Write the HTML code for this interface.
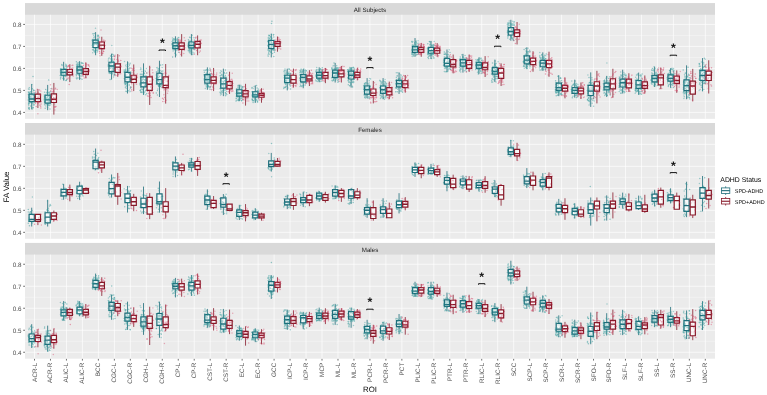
<!DOCTYPE html>
<html lang="en"><head><meta charset="utf-8"><title>FA Value by ROI and ADHD Status</title>
<style>html,body{margin:0;padding:0;background:#fff;}svg{display:block;will-change:transform;}</style></head>
<body>
<svg width="767" height="395" viewBox="0 0 767 395" text-rendering="geometricPrecision" font-family="'Liberation Sans', Arial, Helvetica, sans-serif">
<rect width="767" height="395" fill="#fff"/>
<rect x="25.0" y="3.10" width="690.00" height="115.75" fill="#EBEBEB"/>
<rect x="25.0" y="3.10" width="690.00" height="11.65" fill="#D9D9D9"/>
<text x="370.00" y="11.80" font-size="6.2" fill="#1A1A1A" text-anchor="middle">All Subjects</text>
<path d="M25.0 101.42H715.0M25.0 79.42H715.0M25.0 57.42H715.0M25.0 35.42H715.0" stroke="#fff" stroke-width="0.4" stroke-opacity="0.9" fill="none"/>
<path d="M25.0 112.42H715.0M25.0 90.42H715.0M25.0 68.42H715.0M25.0 46.42H715.0M25.0 24.42H715.0M34.50 14.75V118.85M50.47 14.75V118.85M66.44 14.75V118.85M82.42 14.75V118.85M98.39 14.75V118.85M114.36 14.75V118.85M130.33 14.75V118.85M146.30 14.75V118.85M162.28 14.75V118.85M178.25 14.75V118.85M194.22 14.75V118.85M210.19 14.75V118.85M226.16 14.75V118.85M242.14 14.75V118.85M258.11 14.75V118.85M274.08 14.75V118.85M290.05 14.75V118.85M306.02 14.75V118.85M322.00 14.75V118.85M337.97 14.75V118.85M353.94 14.75V118.85M369.91 14.75V118.85M385.88 14.75V118.85M401.86 14.75V118.85M417.83 14.75V118.85M433.80 14.75V118.85M449.77 14.75V118.85M465.74 14.75V118.85M481.72 14.75V118.85M497.69 14.75V118.85M513.66 14.75V118.85M529.63 14.75V118.85M545.60 14.75V118.85M561.58 14.75V118.85M577.55 14.75V118.85M593.52 14.75V118.85M609.49 14.75V118.85M625.46 14.75V118.85M641.44 14.75V118.85M657.41 14.75V118.85M673.38 14.75V118.85M689.35 14.75V118.85M705.32 14.75V118.85" stroke="#fff" stroke-width="0.68" fill="none"/>
<text x="21.40" y="115.02" font-size="6.3" fill="#4D4D4D" text-anchor="end">0.4</text>
<text x="21.40" y="93.02" font-size="6.3" fill="#4D4D4D" text-anchor="end">0.5</text>
<text x="21.40" y="71.02" font-size="6.3" fill="#4D4D4D" text-anchor="end">0.6</text>
<text x="21.40" y="49.02" font-size="6.3" fill="#4D4D4D" text-anchor="end">0.7</text>
<text x="21.40" y="27.02" font-size="6.3" fill="#4D4D4D" text-anchor="end">0.8</text>
<path d="M23.20 112.42H25.0M23.20 90.42H25.0M23.20 68.42H25.0M23.20 46.42H25.0M23.20 24.42H25.0" stroke="#333" stroke-width="0.7" fill="none"/>
<path d="M31.70 84.04V94.16M31.70 101.64V109.34M47.67 84.92V95.26M47.67 103.18V110.22M63.64 61.82V69.52M63.64 75.24V80.52M79.62 61.16V66.88M79.62 73.26V79.86M95.59 32.12V40.04M95.59 47.52V55.22M111.56 53.68V62.26M111.56 71.72V79.64M127.53 61.38V72.38M127.53 81.84V93.50M143.50 63.36V76.78M143.50 86.90V94.82M159.48 60.72V73.26M159.48 83.82V97.02M175.45 36.30V42.90M175.45 48.62V57.42M191.42 34.10V42.02M191.42 47.96V55.22M207.39 67.32V74.58M207.39 83.16V89.76M223.36 68.64V78.10M223.36 88.22V96.14M239.34 84.70V89.76M239.34 96.14V101.20M255.31 85.36V91.74M255.31 96.80V102.74M271.28 33.66V40.48M271.28 48.62V57.42M287.25 68.64V75.24M287.25 82.50V90.42M303.22 68.86V74.58M303.22 81.84V88.22M319.20 67.32V72.38M319.20 78.10V81.84M335.17 62.92V70.18M335.17 77.44V82.50M351.14 67.32V71.06M351.14 78.98V87.56M367.11 78.10V86.02M367.11 94.05V98.34M383.08 78.10V86.02M383.08 93.28V99.22M399.06 72.38V80.30M399.06 86.90V93.94M415.03 38.06V46.64M415.03 52.36V56.76M431.00 40.92V47.30M431.00 53.24V58.96M446.97 49.50V58.30M446.97 66.22V71.94M462.94 53.90V59.62M462.94 66.22V72.60M478.92 57.42V62.48M478.92 68.42V74.14M494.89 59.62V67.54M494.89 74.14V82.06M510.86 19.80V27.72M510.86 34.98V40.70M526.83 47.30V55.88M526.83 63.80V68.86M542.80 52.36V60.28M542.80 66.77V70.84M558.78 75.24V83.16M558.78 90.42V96.14M574.75 79.64V87.56M574.75 93.28V97.68M590.72 72.38V85.36M590.72 95.48V106.92M606.69 75.90V83.16M606.69 89.76V97.02M622.66 69.74V79.09M622.66 87.01V93.50M638.64 72.60V80.52M638.64 88.44V94.82M654.61 66.77V75.46M654.61 81.95V87.01M670.58 68.20V74.80M670.58 81.18V87.78M686.55 65.34V79.86M686.55 90.64V99.22M702.52 58.08V70.40M702.52 80.52V91.30" stroke="#1C6C79" stroke-width="0.8" fill="none"/>
<path d="M37.90 89.10V94.16M37.90 101.64V108.02M53.87 82.94V93.94M53.87 102.52V114.62M69.84 64.24V69.52M69.84 74.80V82.06M85.82 62.48V68.64M85.82 74.36V78.32M101.79 36.74V42.02M101.79 48.62V55.88M117.76 54.12V63.80M117.76 72.38V76.78M133.73 64.46V75.24M133.73 82.50V91.08M149.70 65.78V76.78M149.70 90.42V104.94M165.68 64.02V76.78M165.68 87.56V103.62M181.65 34.10V42.90M181.65 49.28V56.54M197.62 35.42V41.36M197.62 47.96V55.22M213.59 67.98V76.78M213.59 83.16V91.08M229.56 71.72V81.62M229.56 88.88V93.94M245.54 83.82V90.64M245.54 96.80V105.60M261.51 88.22V93.28M261.51 97.24V102.74M277.48 36.52V41.58M277.48 46.42V51.70M293.45 68.64V75.24M293.45 83.16V87.56M309.42 70.18V75.90M309.42 80.96V86.02M325.40 67.98V72.38M325.40 78.10V83.16M341.37 66.00V70.18M341.37 76.78V82.50M357.34 67.98V72.38M357.34 77.44V80.30M373.31 80.96V88.99M373.31 95.48V103.40M389.28 81.62V87.56M389.28 94.82V99.22M405.26 75.02V80.74M405.26 87.56V92.62M421.23 43.12V47.30M421.23 52.36V56.76M437.20 43.12V48.18M437.20 53.24V56.76M453.17 54.56V59.62M453.17 66.88V73.37M469.14 54.56V60.28M469.14 68.42V71.94M485.12 56.10V62.92M485.12 69.74V77.00M501.09 63.36V68.42M501.09 78.43V86.02M517.06 22.00V29.92M517.06 36.52V44.44M533.03 51.26V58.08M533.03 64.68V71.72M549.00 51.70V60.28M549.00 67.54V76.78M564.98 77.44V85.36M564.98 91.08V98.34M580.95 82.50V88.22M580.95 93.94V99.00M596.92 70.84V81.73M596.92 91.08V103.40M612.89 68.75V78.76M612.89 88.88V97.68M628.86 73.26V79.09M628.86 87.78V91.96M644.84 75.46V81.95M644.84 88.44V93.50M660.81 67.54V74.80M660.81 84.81V89.10M676.78 70.40V76.12M676.78 83.38V92.84M692.75 68.86V81.18M692.75 94.16V101.42M708.72 60.28V71.06M708.72 80.52V93.50" stroke="#871828" stroke-width="0.8" fill="none"/>
<path d="M386.0 84.0h0M238.8 94.7h0M220.1 75.8h0M189.5 49.8h0M449.3 61.7h0M269.4 44.9h0M207.9 85.6h0M636.5 74.9h0M188.5 39.8h0M705.9 82.1h0M413.3 48.2h0M689.4 85.7h0M81.2 62.4h0M315.8 76.0h0M605.3 84.0h0M705.7 73.3h0M705.1 65.2h0M685.7 84.3h0M654.7 80.7h0M352.5 86.3h0M481.9 67.5h0M47.3 103.5h0M430.7 42.1h0M623.3 84.8h0M366.2 96.9h0M30.8 106.0h0M543.8 57.8h0M125.0 74.7h0M225.1 90.6h0M126.6 72.3h0M271.9 44.1h0M30.0 93.0h0M463.7 62.1h0M98.2 43.0h0M509.6 23.1h0M386.0 95.9h0M274.5 50.6h0M673.3 70.2h0M651.6 77.0h0M289.1 69.3h0M527.2 61.7h0M443.5 65.2h0M557.3 91.2h0M479.3 65.9h0M655.2 82.2h0M288.4 82.5h0M354.0 77.8h0M528.4 51.7h0M64.0 74.5h0M142.0 92.5h0M703.3 67.5h0M689.1 97.5h0M464.7 59.2h0M331.9 67.9h0M112.5 70.1h0M430.3 44.2h0M652.1 76.3h0M625.6 86.6h0M446.7 63.3h0M190.7 47.1h0M526.3 63.8h0M575.9 92.6h0M225.4 75.4h0M93.8 48.9h0M350.9 69.1h0M640.8 89.5h0M270.6 46.3h0M33.9 101.0h0M223.6 88.6h0M114.0 55.9h0M321.4 75.3h0M624.0 78.8h0M146.8 83.0h0M274.5 43.8h0M320.5 79.5h0M560.8 78.3h0M432.6 52.3h0M656.1 81.7h0M492.5 63.1h0M192.9 45.5h0M498.1 72.4h0M194.2 49.4h0M209.9 68.3h0M290.5 75.1h0M593.3 93.9h0M401.7 82.9h0M240.5 93.2h0M125.0 83.3h0M561.8 88.6h0M687.1 85.5h0M320.9 76.8h0M623.0 79.0h0M462.6 66.6h0M577.1 96.9h0M97.6 44.5h0M114.7 64.9h0M258.2 95.6h0M429.7 55.4h0M354.1 70.9h0M189.2 47.0h0M62.1 65.4h0M284.1 71.4h0M689.2 87.1h0M224.0 78.0h0M191.5 37.7h0M509.8 28.4h0M652.2 77.6h0M683.3 92.7h0M605.8 86.1h0M141.9 80.5h0M317.9 79.6h0M686.0 81.0h0M461.2 64.7h0M222.3 81.6h0M414.6 42.7h0M640.3 80.8h0M178.3 41.2h0M337.7 74.1h0M209.2 77.2h0M269.1 54.3h0M668.5 75.2h0M79.2 78.0h0M271.2 43.3h0M625.8 86.8h0M319.7 72.3h0M429.3 53.2h0M412.0 52.4h0M701.0 69.2h0M482.2 66.5h0M544.1 62.8h0M656.6 76.9h0M354.3 79.3h0M178.7 48.0h0M333.4 73.4h0M428.5 50.0h0M236.3 90.0h0M145.0 80.7h0M577.1 88.4h0M128.0 71.5h0M687.9 87.3h0M206.8 84.5h0M430.9 54.3h0M702.4 90.4h0M316.5 70.3h0M303.9 69.0h0M268.1 50.2h0M591.7 93.6h0M636.0 92.1h0M481.4 66.4h0M348.1 77.9h0M305.3 85.0h0M283.8 88.5h0M140.4 90.6h0M701.5 79.6h0M220.3 82.2h0M638.6 82.1h0M671.6 69.3h0M608.0 90.7h0M252.4 100.8h0M188.1 45.2h0M478.9 59.4h0M304.7 76.4h0M78.9 67.8h0M683.7 81.6h0M273.8 56.6h0M571.3 89.7h0M514.2 21.8h0M221.3 86.3h0M271.1 50.9h0M460.0 60.6h0M288.2 77.2h0M668.6 75.4h0M530.2 56.4h0M496.7 76.4h0M257.8 93.4h0M63.6 75.5h0M188.3 50.8h0M257.5 95.9h0M604.2 90.4h0M446.9 58.0h0M301.0 77.7h0M367.7 94.6h0M141.3 77.3h0M433.4 45.4h0M385.5 88.5h0M620.8 93.3h0M513.1 34.3h0M221.7 83.8h0M528.7 60.3h0M620.0 85.0h0M540.8 66.0h0M160.6 79.5h0M449.4 60.6h0M689.8 87.5h0M466.0 64.0h0M621.6 90.2h0M304.8 78.3h0M578.2 87.7h0M175.8 43.9h0M255.6 90.6h0M31.1 99.0h0M226.6 79.1h0M545.7 61.1h0M481.7 66.6h0M576.4 94.3h0M402.3 85.6h0M511.0 23.8h0M432.5 46.0h0M130.6 73.4h0M444.5 61.1h0M433.9 52.4h0M45.7 89.6h0M113.1 65.5h0M79.4 75.5h0M558.5 92.0h0M303.1 71.1h0M540.5 58.4h0M428.6 58.6h0M142.7 74.2h0M480.4 70.9h0M494.9 67.2h0M496.6 66.8h0M206.8 69.7h0M543.0 65.0h0M461.0 64.7h0M703.0 76.3h0M161.5 71.2h0M257.8 95.8h0M621.6 75.2h0M463.7 63.4h0M178.7 37.5h0M463.7 63.3h0M45.2 108.3h0M221.5 74.6h0M575.2 89.8h0M32.2 109.1h0M144.5 84.6h0M653.8 79.1h0M575.7 88.4h0M206.8 77.9h0M191.9 44.2h0M241.5 100.7h0M300.7 74.9h0M92.2 40.4h0M269.3 38.2h0M333.6 80.4h0M652.1 70.4h0M253.5 96.0h0M242.1 100.6h0M493.5 72.3h0M300.8 72.3h0M269.4 45.4h0M433.1 50.7h0M256.4 92.2h0M82.0 73.2h0M273.0 43.1h0M80.5 65.3h0M690.0 77.7h0M173.6 45.5h0M429.6 41.8h0M31.6 94.0h0M80.9 65.4h0M317.6 78.4h0M126.7 91.5h0M287.0 80.2h0M557.4 87.4h0M194.5 46.2h0M63.5 74.1h0M336.2 68.0h0M445.7 64.4h0M366.2 92.1h0M194.4 40.0h0M431.2 48.7h0M302.9 85.8h0M412.2 42.4h0M97.9 36.5h0M364.6 87.5h0M462.1 63.9h0M252.2 98.9h0M172.9 48.6h0M639.1 91.6h0M688.0 75.7h0M80.3 67.7h0M381.1 97.4h0M175.5 39.9h0M320.8 76.8h0M76.8 70.3h0M445.3 53.3h0M401.3 86.2h0M417.8 49.1h0M466.2 69.3h0M495.6 78.8h0M655.6 82.1h0M238.1 93.1h0M304.7 77.5h0M44.5 97.1h0M189.1 45.4h0M444.9 63.2h0M509.6 34.9h0M527.0 64.2h0M608.1 92.8h0M239.0 93.3h0M512.2 25.2h0M49.2 96.3h0M399.3 81.9h0M287.9 88.1h0M540.9 65.0h0M463.0 61.5h0M523.9 56.2h0M113.9 70.7h0M318.1 76.7h0M285.3 77.6h0M82.0 79.3h0M429.8 56.1h0M110.4 63.5h0M142.8 79.9h0M590.5 90.2h0M699.6 83.0h0M463.2 59.9h0M588.2 100.4h0M348.3 84.8h0M94.1 43.9h0M603.6 90.5h0M332.5 75.3h0M689.1 91.0h0M221.0 85.3h0M688.8 94.6h0M209.7 73.2h0M351.4 70.8h0M368.6 91.2h0M44.6 102.4h0M240.8 91.1h0M412.7 49.4h0M512.0 33.4h0M31.8 100.3h0M637.5 86.3h0M589.6 82.6h0M64.0 78.6h0M493.9 72.1h0M610.0 88.4h0M130.1 68.0h0M576.3 92.5h0M156.7 71.8h0M258.7 97.1h0M384.8 83.9h0M49.0 92.4h0M318.3 78.9h0M351.5 76.6h0M495.2 69.6h0M210.7 75.7h0M588.0 88.1h0M364.7 97.4h0M319.6 77.5h0M397.3 91.7h0M236.8 92.7h0M208.9 81.7h0M513.3 32.6h0M47.8 103.1h0M385.3 89.8h0M268.7 40.9h0M301.8 72.4h0M130.7 87.2h0M363.6 85.7h0M364.2 91.2h0M577.7 93.1h0M449.5 68.0h0M113.8 67.6h0M157.4 90.4h0M413.3 45.3h0M415.1 44.0h0M237.8 93.2h0M240.6 98.5h0M671.1 79.5h0M636.7 79.1h0M544.7 55.3h0M589.0 83.0h0M285.9 86.4h0M51.0 88.8h0M527.0 56.5h0M529.0 59.4h0M28.4 94.4h0M641.7 87.5h0M238.6 96.1h0M463.0 66.1h0M541.5 60.6h0M493.2 70.9h0M464.7 64.6h0M61.6 71.0h0M270.6 36.9h0M322.3 67.8h0M540.1 66.0h0M559.6 88.2h0M242.4 93.8h0M402.1 81.6h0M447.5 57.4h0M353.2 81.2h0M143.5 68.9h0M110.0 65.5h0M496.6 69.3h0M98.3 43.5h0M210.0 89.6h0M431.6 49.5h0M351.9 68.1h0M587.9 92.9h0M236.6 88.8h0M322.4 73.3h0M496.2 67.2h0M513.6 40.6h0M81.9 62.8h0M193.3 49.0h0M545.1 63.5h0M399.7 78.6h0M609.3 80.8h0M541.2 64.1h0M188.2 43.9h0M178.3 42.7h0M638.4 87.6h0M331.7 77.4h0M271.7 47.6h0M129.5 73.1h0M380.4 81.2h0M641.2 89.6h0M65.9 80.5h0M252.5 94.2h0M430.4 53.4h0M29.2 95.9h0M306.3 70.8h0M96.6 47.5h0M668.5 74.7h0M447.4 66.7h0M651.8 78.4h0M687.1 82.1h0M220.2 72.7h0M481.5 60.3h0M333.5 79.3h0M191.3 44.9h0M188.6 50.3h0M334.6 68.8h0M274.2 40.0h0M114.3 68.1h0M540.3 57.4h0M591.8 85.4h0M112.5 59.1h0M640.8 75.0h0M221.9 91.5h0M178.2 43.6h0M50.8 103.9h0M639.3 84.1h0M44.6 104.7h0M636.9 86.3h0M81.4 66.4h0M478.1 65.5h0M619.6 83.5h0M443.6 65.2h0M689.3 91.7h0M589.0 77.6h0M604.5 81.3h0M416.1 41.1h0M222.7 87.4h0M127.7 85.0h0M130.7 75.8h0M284.7 80.1h0M288.2 80.0h0M224.0 76.6h0M593.4 93.4h0M621.0 79.8h0M400.9 75.5h0M574.4 83.5h0M668.9 79.0h0M176.7 45.2h0M559.1 90.9h0M557.0 84.8h0M97.1 52.1h0M335.0 77.3h0M44.3 98.9h0M337.8 67.8h0M513.0 30.2h0M590.5 80.7h0M621.5 80.3h0M332.4 72.4h0M113.9 65.1h0M78.7 71.1h0M637.9 87.0h0M591.5 86.4h0M320.1 73.0h0M125.8 74.9h0M608.5 78.5h0M668.0 73.7h0M610.1 93.4h0M400.7 91.1h0M544.5 61.3h0M236.8 94.4h0M60.6 77.7h0M525.9 54.0h0M146.1 86.6h0M303.1 71.7h0M412.3 46.0h0M562.1 86.9h0M479.2 66.0h0M577.8 91.0h0M369.3 98.2h0M497.0 78.7h0M257.1 95.5h0M399.2 81.7h0M209.6 77.8h0M450.4 69.3h0M176.6 48.4h0M34.1 104.8h0M510.0 32.1h0M577.5 86.8h0M190.0 44.5h0M81.7 71.1h0M221.5 80.9h0M96.9 41.8h0M545.4 63.5h0M545.9 64.0h0M207.5 79.6h0M671.8 73.9h0M492.5 70.4h0M475.7 69.5h0M528.8 57.7h0M237.4 96.7h0M401.8 91.2h0M146.7 93.6h0M302.5 82.8h0M98.1 38.0h0M704.5 82.6h0M688.9 89.0h0M460.2 70.0h0M479.1 68.8h0M688.6 74.7h0M385.2 88.6h0M572.2 89.8h0M413.9 52.3h0M684.0 91.4h0M127.1 74.6h0M397.4 82.3h0M205.7 78.1h0M539.9 62.3h0M111.7 71.5h0M299.8 78.0h0M32.2 96.8h0M700.9 81.2h0M144.7 76.9h0M223.4 79.5h0M236.0 100.9h0M157.2 78.0h0M429.3 47.8h0M433.4 50.0h0M593.4 91.2h0M560.5 78.0h0M369.7 97.4h0M461.0 68.5h0M654.6 80.7h0M592.1 82.5h0M667.4 79.8h0M30.7 102.6h0M114.1 75.4h0M305.7 74.1h0M220.8 87.2h0M192.4 43.0h0M226.3 93.6h0M239.3 97.1h0M508.3 30.5h0M542.4 63.6h0M543.6 69.8h0M593.5 97.8h0M433.3 54.5h0M158.0 70.9h0M365.0 91.0h0M704.7 78.8h0M576.4 92.7h0M110.4 67.7h0M529.6 65.9h0M560.5 87.7h0M49.1 100.5h0M477.7 63.4h0M383.4 90.5h0M176.2 47.3h0M652.9 80.4h0M45.9 102.3h0M398.5 81.0h0M129.6 74.6h0M654.3 70.5h0M526.7 61.7h0M476.8 61.0h0M481.2 58.3h0M497.3 73.8h0M203.9 74.7h0M317.1 74.9h0M112.0 61.4h0M466.4 71.6h0M177.0 48.5h0M509.3 27.8h0M140.7 84.1h0M112.9 63.3h0M286.7 83.4h0M623.1 84.2h0M336.3 69.0h0M304.4 70.7h0M686.0 81.9h0M412.7 41.5h0M528.0 62.8h0M460.3 59.0h0M177.4 40.1h0M76.4 61.8h0M397.1 83.5h0M684.8 79.4h0M206.5 73.5h0M237.3 91.2h0M509.1 33.7h0M478.1 60.8h0M175.3 40.1h0M619.3 85.5h0M316.6 77.2h0M461.3 62.0h0M381.0 95.6h0M125.1 84.7h0M49.0 105.3h0M561.5 87.7h0M125.8 80.8h0M271.5 34.5h0M637.9 87.8h0M396.4 77.3h0M367.9 87.5h0M460.4 68.7h0M416.1 46.6h0M686.0 84.5h0M97.6 35.3h0M609.9 87.2h0M607.4 87.8h0M142.5 78.8h0M671.2 75.7h0M334.3 73.6h0M432.3 54.9h0M369.1 97.3h0M273.9 49.1h0M589.3 101.2h0M257.6 95.2h0M271.1 44.9h0M97.6 50.7h0M364.5 90.6h0M560.3 83.4h0M606.9 76.9h0M370.2 95.5h0M380.5 87.7h0M98.7 43.8h0M239.0 99.7h0M224.6 83.4h0M414.2 48.4h0M337.1 77.6h0M556.2 95.7h0M94.9 51.1h0M143.6 75.1h0M512.5 31.2h0M447.1 56.4h0M60.6 72.8h0M333.0 73.2h0M61.8 73.5h0M527.0 56.0h0M144.8 80.5h0M46.9 102.6h0M29.7 93.5h0M417.3 46.9h0M272.5 49.7h0M414.6 53.6h0M509.2 34.0h0M545.6 68.9h0M268.8 51.9h0M673.5 71.6h0M652.8 73.4h0M447.9 64.9h0M411.8 49.9h0M507.8 26.5h0M111.8 70.3h0M699.6 63.7h0M497.7 69.4h0M416.0 42.1h0M253.9 92.6h0M79.7 65.9h0M530.3 56.1h0M190.3 52.1h0M656.0 79.3h0M191.0 45.4h0M428.4 50.9h0M65.4 76.4h0M65.8 64.2h0M588.8 90.5h0M686.8 86.1h0M604.8 95.5h0M686.4 88.5h0M80.0 64.9h0M462.6 57.2h0M428.0 51.9h0M673.0 77.2h0M66.5 70.0h0M351.2 70.0h0M526.5 60.3h0M509.7 34.5h0M413.5 46.9h0M545.5 64.8h0M80.6 67.8h0M559.8 91.3h0M140.8 78.1h0M624.2 91.3h0M684.9 84.9h0M82.0 76.1h0M541.4 59.3h0M604.4 80.5h0M269.3 42.2h0M271.0 41.9h0M333.2 76.0h0M337.1 76.9h0M368.5 85.5h0M158.0 70.2h0M64.8 69.4h0M591.0 93.2h0M284.6 81.8h0M512.9 31.8h0M46.3 98.2h0M334.5 73.4h0M60.9 77.0h0M460.4 64.5h0M289.1 81.2h0M703.9 78.4h0M128.1 70.5h0M620.4 83.4h0M94.3 33.6h0M286.2 72.6h0M571.8 93.4h0M273.6 44.9h0M204.5 79.0h0M559.8 87.6h0M445.2 58.4h0M109.6 72.4h0M640.3 85.9h0M590.5 85.8h0M126.4 81.5h0M603.9 92.9h0M365.0 85.3h0M450.2 64.3h0M336.5 76.7h0M305.0 75.8h0M463.9 64.4h0M62.0 65.2h0M28.6 103.4h0M316.1 71.0h0M128.3 90.8h0M477.5 59.8h0M288.9 78.6h0M560.1 81.2h0M369.5 86.0h0M607.6 88.7h0M571.6 91.6h0M348.1 74.3h0M305.0 71.2h0M368.8 88.7h0M461.9 61.0h0M656.6 81.8h0M575.6 88.5h0M349.0 72.0h0M255.0 99.9h0M625.0 75.1h0M81.8 70.2h0M605.3 82.1h0M573.7 92.3h0M126.6 81.0h0M240.3 89.7h0M668.1 76.6h0M255.3 101.9h0M316.1 72.3h0M76.3 74.6h0M82.4 69.8h0M624.2 81.2h0M685.4 79.2h0M363.8 89.1h0M304.1 74.3h0M174.2 43.2h0M50.1 91.8h0M47.6 93.8h0M222.3 87.3h0M480.6 71.5h0M332.0 80.3h0M285.9 73.4h0M204.4 72.3h0M431.8 45.4h0M460.2 63.9h0M399.6 80.8h0M428.5 56.6h0M349.0 82.5h0M271.0 48.4h0M385.0 87.3h0M511.3 35.8h0M143.7 84.0h0M400.9 88.6h0M159.7 83.5h0M508.7 34.5h0M703.9 72.9h0M575.6 87.7h0M642.1 74.1h0M353.9 72.5h0M256.5 85.5h0M433.8 50.0h0M683.5 87.4h0M225.7 95.7h0M98.5 44.6h0M699.8 75.7h0M576.0 88.1h0M427.6 54.3h0M113.6 55.1h0M158.7 86.3h0M672.6 77.1h0M32.3 94.7h0M127.3 64.6h0M494.8 71.6h0M574.8 85.4h0M641.8 85.2h0M588.0 93.4h0M158.1 79.9h0M350.1 85.7h0M174.0 45.2h0M543.8 63.5h0M206.6 73.1h0M226.6 91.2h0M705.8 71.8h0M672.1 79.4h0M274.3 49.2h0M635.5 88.7h0M206.5 70.0h0M523.6 62.2h0M685.5 92.2h0M477.4 59.9h0M300.1 70.5h0M337.3 74.4h0M172.9 47.2h0M110.1 79.4h0M507.7 24.9h0M110.6 73.2h0M193.3 43.9h0M334.3 78.3h0M365.5 82.7h0M321.9 81.3h0M289.4 74.8h0M113.9 64.4h0M320.5 69.3h0M417.0 46.1h0M507.5 31.1h0M544.3 59.9h0M302.0 76.0h0M144.1 73.4h0M301.1 71.3h0M493.8 68.6h0M444.3 60.6h0M177.8 41.5h0M290.5 88.9h0M303.6 85.0h0M124.5 83.0h0M673.1 77.5h0M414.8 51.3h0M241.6 92.5h0M443.5 62.0h0M289.0 73.7h0M31.3 91.3h0M162.0 87.5h0M396.4 79.6h0M111.0 62.0h0M610.1 80.9h0M636.5 87.1h0M413.3 54.0h0M526.0 58.5h0M161.8 77.9h0M688.2 87.5h0M319.7 71.3h0M673.9 73.4h0M619.9 85.5h0M402.5 92.3h0M174.5 49.7h0M317.4 78.1h0M492.8 66.5h0M238.2 86.0h0M287.2 78.8h0M558.0 94.9h0M428.0 54.8h0M399.7 86.7h0M397.5 75.9h0M112.5 60.2h0M619.2 78.4h0M76.4 75.7h0M316.3 70.1h0M418.0 48.0h0M337.2 67.8h0M382.5 93.7h0M447.0 65.0h0M156.8 79.8h0M364.4 94.4h0M92.4 39.5h0M700.4 80.0h0M671.2 77.6h0M684.1 92.5h0M190.8 48.6h0M97.8 41.2h0M432.5 50.7h0M253.5 94.3h0M47.8 104.2h0M350.0 78.5h0M704.3 58.2h0M177.0 48.0h0M398.7 80.0h0M415.8 46.0h0M527.0 58.5h0M498.3 67.6h0M94.1 51.2h0M380.6 92.7h0M540.9 63.3h0M572.6 85.4h0M32.3 88.7h0M576.5 85.9h0M527.1 62.8h0M446.1 67.6h0M208.6 79.2h0M382.8 88.3h0M449.5 63.8h0M590.9 83.2h0M590.5 92.6h0M587.2 90.4h0M412.3 51.2h0M635.3 90.6h0M640.4 93.7h0M523.9 66.3h0M509.1 31.7h0M77.7 63.9h0M576.2 92.2h0M497.0 74.0h0M383.8 91.8h0M32.6 95.2h0M269.6 40.3h0M337.8 75.2h0M555.5 91.7h0M479.7 68.8h0M320.3 75.8h0M475.9 64.6h0M575.6 85.6h0M558.8 88.3h0M109.7 62.5h0M221.0 92.2h0M540.4 58.1h0M271.3 52.5h0M174.4 48.1h0M513.0 29.9h0M77.8 74.3h0M160.7 74.6h0M223.6 88.8h0M700.2 66.2h0M238.0 85.9h0M189.9 44.3h0M226.3 80.5h0M401.8 82.9h0M369.2 80.7h0M258.0 93.9h0M543.9 63.0h0M335.9 71.9h0M577.7 88.6h0M429.5 55.8h0M273.4 50.2h0M573.4 88.9h0M492.2 70.8h0M574.8 91.8h0M684.9 76.2h0M77.4 64.5h0M509.8 23.2h0M557.0 87.7h0M593.7 96.6h0M256.2 91.6h0M672.9 80.5h0M427.8 43.7h0M669.4 84.3h0M225.8 77.0h0M77.5 63.1h0M97.2 49.1h0M93.9 37.2h0M652.1 80.5h0M95.5 36.0h0M464.5 61.4h0M608.7 92.0h0M270.3 40.1h0M319.6 75.1h0M492.5 68.2h0M226.6 73.1h0M527.3 66.2h0M208.0 86.3h0M528.1 57.1h0M189.4 52.2h0M604.9 84.8h0M448.6 62.0h0M129.3 77.5h0M50.0 94.1h0M140.8 76.2h0M494.0 72.8h0M126.4 81.3h0M608.5 90.2h0M125.8 69.1h0M688.9 95.0h0M448.5 61.9h0M93.3 49.8h0M96.5 50.3h0M557.6 83.4h0M269.0 46.8h0M29.4 92.4h0M431.4 58.6h0M703.8 78.5h0M398.3 79.2h0M590.1 82.3h0M609.2 87.5h0M316.0 75.3h0M60.5 69.9h0M256.1 97.4h0M652.4 68.5h0M335.0 75.8h0M241.3 98.3h0M700.0 76.3h0M576.3 91.9h0M220.2 72.9h0M464.8 66.6h0M513.2 33.7h0M241.3 89.3h0M608.6 91.0h0M508.5 24.9h0M82.6 63.3h0M156.1 78.6h0M560.3 78.3h0M635.7 84.3h0M238.0 99.3h0M655.5 80.5h0M370.1 86.3h0M256.3 99.5h0M220.3 81.1h0M667.2 79.3h0M127.2 74.2h0M560.8 90.0h0M257.4 101.8h0M60.9 69.0h0M109.1 66.0h0M347.8 71.6h0M592.2 85.2h0M541.8 68.4h0M429.4 50.4h0M511.4 34.1h0M385.7 89.7h0M210.7 86.5h0M608.6 83.2h0M656.6 75.0h0M609.0 90.7h0M208.9 69.9h0M160.1 86.0h0M524.2 62.8h0M703.1 73.1h0M304.7 82.6h0M588.6 92.3h0M492.5 70.2h0M463.4 59.9h0M591.5 90.0h0M140.8 92.1h0M619.2 87.0h0M561.4 86.2h0M209.1 78.7h0M210.4 79.6h0M465.9 62.9h0M593.6 93.2h0M462.7 56.4h0M528.3 60.6h0M145.3 83.9h0M671.5 81.4h0M635.7 90.7h0M497.3 70.1h0M364.3 87.4h0M653.4 81.9h0M61.7 71.0h0M236.2 98.8h0M97.4 38.9h0M221.3 79.8h0M667.2 77.7h0M432.7 50.4h0M221.9 74.6h0M619.5 85.6h0M127.0 83.8h0M145.5 90.5h0M573.1 84.6h0M29.4 109.0h0M413.2 48.0h0M32.0 102.7h0M641.5 94.2h0M194.0 44.6h0M491.7 80.2h0M575.8 91.8h0M624.0 74.7h0M524.1 49.4h0M109.1 64.9h0M368.2 92.3h0M364.9 90.5h0M481.1 73.5h0M76.4 77.9h0M366.4 94.2h0M687.9 96.4h0M29.7 96.9h0M268.6 47.9h0M603.3 90.4h0M623.2 91.2h0M555.6 80.7h0M701.0 85.4h0M226.0 79.6h0M651.7 78.5h0M156.6 72.3h0M462.8 60.6h0M380.6 87.6h0M109.1 58.1h0M125.4 87.2h0M254.4 93.7h0M465.1 55.5h0M673.4 87.4h0M273.0 40.3h0M637.7 90.4h0M383.6 97.8h0M303.9 79.7h0M188.7 44.3h0M268.6 53.3h0M606.3 88.2h0M687.4 84.4h0M508.1 31.9h0M158.1 76.7h0M305.8 79.4h0M322.4 71.8h0M449.3 66.2h0M67.0 74.6h0M668.8 74.1h0M351.0 73.8h0M653.5 70.8h0M321.4 76.4h0M317.7 74.6h0M561.1 93.4h0M577.4 90.3h0M349.4 73.7h0M576.5 92.7h0M590.3 91.4h0M173.1 40.6h0M331.9 77.9h0M77.8 69.9h0M253.3 94.3h0M336.3 79.1h0M670.2 71.4h0M593.1 90.1h0M61.7 73.3h0M561.6 94.7h0M223.7 87.5h0M290.2 82.5h0M669.7 79.1h0M96.6 43.0h0M363.7 89.2h0M672.3 81.0h0M33.0 76.6h0M559.2 87.3h0M28.8 97.5h0M688.5 74.3h0M64.3 68.3h0M560.1 89.4h0M93.5 40.2h0M654.1 85.0h0M687.7 76.4h0M417.8 52.1h0M174.9 53.3h0M575.8 89.4h0M288.4 77.8h0M189.6 44.8h0M301.2 86.0h0M140.1 83.8h0M571.8 91.9h0M641.1 75.7h0M654.0 78.2h0M189.0 41.1h0M539.6 56.9h0M683.9 82.9h0M349.0 76.2h0M674.0 70.8h0M418.1 43.3h0M285.3 81.9h0M640.6 81.5h0M205.6 70.2h0M446.1 58.5h0M686.9 87.9h0M210.0 79.8h0M610.1 95.0h0M396.8 81.6h0M47.5 107.4h0M28.6 104.6h0M635.4 89.8h0M480.4 67.4h0M413.5 50.1h0M238.7 92.9h0M315.9 71.4h0M174.0 44.4h0M239.6 88.1h0M494.5 80.0h0M252.5 91.5h0M704.6 75.6h0M364.5 83.6h0M319.0 73.7h0M189.6 37.2h0M652.4 82.0h0M383.5 81.1h0M253.1 102.4h0M400.8 76.0h0M544.6 63.4h0M352.8 73.8h0M48.8 101.8h0M401.0 75.8h0M285.4 83.5h0M306.2 82.8h0M494.7 69.4h0M577.6 91.5h0M66.5 65.9h0M640.9 91.6h0M319.6 76.5h0M380.2 81.1h0M465.2 65.7h0M367.2 86.2h0M620.7 81.0h0M288.1 73.6h0M144.0 77.0h0M111.1 59.6h0M210.3 70.3h0M366.9 89.0h0M433.5 44.4h0M140.4 76.9h0M288.8 76.6h0M591.9 77.7h0M544.8 67.2h0M399.4 81.2h0M242.4 98.9h0M609.6 92.6h0M237.3 94.6h0M430.1 44.2h0M94.3 51.4h0M588.5 98.3h0M433.1 56.4h0M285.1 87.3h0M620.7 76.9h0M636.5 88.5h0M272.8 43.2h0M269.3 40.5h0M528.9 63.9h0M224.7 81.1h0M160.6 86.4h0M477.8 66.5h0M434.0 52.3h0M651.6 70.1h0M652.6 75.6h0M545.3 64.9h0M271.5 39.8h0M381.4 87.4h0M50.0 94.0h0M641.3 87.9h0M353.7 78.9h0M637.1 75.0h0M273.4 34.9h0M396.1 87.9h0M128.0 71.4h0M28.7 95.9h0M591.6 99.1h0M33.1 97.6h0M46.1 98.1h0M497.6 73.7h0M33.0 95.2h0M382.3 88.4h0M514.1 25.2h0M541.2 70.0h0M77.7 65.2h0M491.6 81.9h0M94.4 40.2h0M95.1 36.8h0M290.3 81.4h0M124.3 71.9h0M685.1 77.7h0M239.9 97.6h0M669.7 70.5h0M427.9 57.4h0M304.8 72.7h0M226.5 82.7h0M112.0 71.7h0M269.0 42.6h0M352.7 82.1h0M699.2 66.2h0M577.0 90.0h0M286.9 80.1h0M608.6 83.2h0M30.0 101.6h0M507.9 35.4h0M560.1 94.8h0M367.6 93.2h0M319.2 81.8h0M336.7 65.7h0M49.6 100.1h0M637.5 74.0h0M495.5 66.2h0M701.4 87.2h0M539.9 70.1h0M176.8 47.4h0M253.6 100.7h0M316.2 81.1h0M386.2 89.1h0M683.4 89.3h0M587.6 99.2h0M396.9 85.8h0M204.9 75.2h0M94.9 52.1h0M670.0 81.2h0M447.1 63.1h0M399.5 83.6h0M609.6 90.1h0M651.2 79.9h0M673.0 83.4h0M141.2 74.5h0M286.8 74.1h0M189.8 44.3h0M685.7 92.1h0M146.9 86.2h0M48.3 95.9h0M284.0 87.2h0M305.7 83.1h0M701.3 71.0h0M401.0 85.8h0M193.5 45.3h0M176.3 40.0h0M463.5 66.7h0M461.9 54.7h0M81.6 62.7h0M158.9 68.6h0M220.1 88.5h0M364.1 95.0h0M413.1 50.2h0M194.8 43.8h0M65.3 75.2h0M127.4 81.7h0M225.3 92.8h0M384.6 89.2h0M587.2 96.0h0M268.0 46.0h0M523.5 66.3h0M507.4 24.6h0M189.2 48.3h0M459.9 59.2h0M669.6 75.0h0M545.8 58.6h0M95.9 48.2h0M513.8 22.9h0M322.5 70.0h0M576.9 97.6h0M351.0 76.7h0M496.7 74.0h0M603.3 89.9h0M513.5 29.7h0M256.9 95.9h0M66.6 70.4h0M526.1 51.1h0M338.0 75.1h0M443.6 60.3h0M142.2 89.9h0M110.8 55.9h0M287.5 78.8h0M560.6 90.6h0M258.2 91.0h0M544.8 61.5h0M513.4 29.3h0M98.9 46.0h0M194.5 42.6h0M433.2 58.1h0M655.1 84.1h0M98.7 38.5h0M270.5 42.9h0M301.1 74.0h0M414.2 50.7h0M414.6 48.0h0M48.9 99.7h0M606.6 87.3h0M273.6 47.2h0M129.9 76.1h0M112.1 69.5h0M704.6 66.4h0M366.2 95.0h0M684.0 81.3h0M511.1 31.0h0M29.3 87.8h0M242.6 90.2h0M575.1 88.4h0M399.8 91.0h0M223.3 75.3h0M385.7 87.6h0M427.5 48.3h0M546.1 64.9h0M591.9 89.6h0M683.9 88.5h0M478.5 60.0h0M528.7 64.2h0M466.3 63.7h0M433.7 49.3h0M541.9 69.0h0M288.7 80.8h0M491.5 74.1h0M480.0 63.4h0M366.9 91.4h0M398.7 82.9h0M384.2 86.0h0M508.2 24.1h0M192.7 54.6h0M319.0 76.0h0M302.4 82.6h0M370.3 91.5h0M622.2 91.2h0M28.4 91.9h0M175.7 48.5h0M624.1 84.0h0M49.9 95.1h0M32.8 100.5h0M411.7 41.6h0M62.1 72.3h0M48.0 103.9h0M156.3 92.9h0M434.0 48.1h0M525.7 48.4h0M382.3 91.1h0M285.3 80.1h0M236.3 96.2h0M622.9 91.4h0M94.5 42.4h0M397.2 75.6h0M625.5 87.4h0M157.4 94.9h0M126.3 77.0h0M130.1 77.8h0M349.4 68.9h0M640.8 88.5h0M143.8 70.8h0M271.0 44.7h0M416.3 48.1h0M225.4 94.9h0M210.9 73.8h0M443.9 62.6h0M605.9 94.1h0M240.2 93.3h0M480.9 65.3h0M383.4 89.8h0M684.0 85.9h0M48.7 79.9h0M98.2 41.2h0M177.3 39.2h0M33.4 107.7h0M589.1 95.7h0M79.2 73.0h0M652.2 75.4h0M177.7 47.1h0M641.5 88.8h0M273.8 37.1h0M274.4 52.2h0M225.1 89.6h0M350.7 83.3h0M555.6 89.7h0M192.1 48.4h0M655.0 77.7h0M162.7 71.0h0M319.0 69.8h0M206.1 80.0h0M561.5 80.6h0M66.3 80.0h0M431.4 51.3h0M652.7 81.3h0M64.3 69.1h0M316.1 74.8h0M208.3 82.3h0M465.4 68.6h0M670.7 79.3h0M172.2 41.5h0M156.8 83.3h0M621.9 80.5h0M302.2 77.3h0M640.5 84.0h0M622.1 84.8h0M78.6 72.5h0M478.8 68.3h0M400.7 79.6h0M256.4 96.8h0M271.4 41.1h0M621.2 80.2h0M268.5 39.8h0M252.1 87.6h0M479.0 63.3h0M112.8 71.6h0M652.8 77.5h0M50.0 108.9h0M350.7 84.5h0M271.8 38.0h0M190.4 52.1h0M704.7 83.6h0M493.5 77.1h0M619.8 77.4h0M157.3 83.4h0M145.4 71.2h0M625.9 75.2h0M78.3 73.5h0M80.2 71.8h0M673.8 78.0h0M48.0 105.2h0M226.8 94.6h0M29.3 107.8h0M160.6 64.9h0M336.2 78.8h0M322.5 79.0h0M353.1 67.6h0M178.5 48.9h0M380.8 95.7h0M448.7 69.1h0M207.0 81.1h0M128.2 76.2h0M543.7 63.6h0M447.9 60.7h0M97.5 41.7h0M349.4 75.1h0M302.4 81.8h0M300.3 75.3h0M77.0 65.8h0M603.7 87.7h0M49.3 93.0h0M605.5 94.2h0M321.7 74.2h0M497.3 68.2h0M605.0 88.5h0M591.6 93.2h0M370.1 95.0h0M699.5 70.0h0M638.2 84.3h0M368.0 97.9h0M557.7 92.4h0M704.2 74.5h0M333.6 73.6h0M31.2 97.5h0M319.8 72.7h0M208.7 86.7h0M206.6 77.3h0M349.4 75.6h0M397.4 83.8h0M113.5 61.5h0M575.8 85.5h0M77.0 66.3h0M368.9 96.5h0M224.0 82.3h0M605.8 83.5h0M624.9 92.1h0M654.5 79.0h0M450.5 60.9h0M30.3 91.7h0M95.4 51.2h0M333.6 76.5h0M593.1 89.4h0M47.7 104.1h0M609.3 91.8h0M364.9 94.9h0M577.8 89.0h0M543.0 62.4h0M145.8 94.7h0M221.5 94.0h0M432.2 54.6h0M558.8 83.6h0M65.1 68.9h0M305.3 72.4h0M667.3 79.5h0M512.2 38.4h0M301.4 82.5h0M657.9 78.3h0M543.0 58.1h0M624.2 92.8h0M475.7 65.3h0M383.9 92.0h0M352.9 71.3h0M619.3 83.2h0M492.7 81.9h0M386.1 94.7h0M317.0 75.9h0M702.9 83.6h0M543.3 58.1h0M572.3 97.7h0M497.0 76.6h0M636.6 82.3h0M143.8 77.1h0M381.9 96.6h0M575.0 89.3h0M273.7 49.4h0M316.7 72.6h0M671.5 84.4h0M604.8 81.0h0M32.4 102.7h0M703.2 79.0h0M159.1 77.4h0M411.9 53.9h0M444.8 54.2h0M208.4 85.2h0M668.3 85.0h0M700.4 72.6h0M540.2 62.7h0M79.0 63.9h0M399.9 82.9h0M29.0 103.0h0M32.9 103.4h0M384.1 85.5h0M338.1 79.9h0M413.6 51.5h0M654.1 66.8h0M686.4 94.3h0M207.4 86.3h0M304.8 79.7h0M238.5 100.5h0M92.9 33.8h0M365.8 88.1h0M290.7 73.6h0M50.3 97.6h0M93.7 40.8h0M320.8 71.8h0M194.0 37.7h0M557.4 91.9h0M463.1 63.2h0M108.1 65.9h0M507.8 38.0h0M334.3 69.4h0M460.2 64.1h0M336.4 72.7h0M621.7 89.7h0M46.7 96.6h0M671.1 75.2h0M542.2 64.0h0M493.3 73.0h0M524.7 60.3h0M353.9 82.0h0M401.0 85.0h0M562.0 94.8h0M173.3 42.3h0M684.2 96.8h0M509.6 32.8h0M303.6 73.9h0M124.3 78.8h0M609.8 86.0h0M364.3 88.4h0M142.3 86.1h0M285.6 75.2h0M177.7 41.6h0M576.3 95.4h0M94.2 44.1h0M49.9 105.5h0M462.7 65.2h0M430.5 47.5h0M92.9 43.9h0M177.0 46.1h0M220.8 90.1h0M656.7 76.5h0M541.6 62.7h0M175.2 45.0h0M130.5 76.5h0M256.6 96.4h0M158.4 85.7h0M605.1 85.9h0M688.1 67.3h0M417.0 54.5h0M237.8 97.1h0M668.5 85.5h0M238.0 89.9h0M242.1 94.3h0M447.2 58.7h0M177.0 42.4h0M352.8 78.7h0M351.9 71.3h0M220.5 93.3h0M365.3 98.0h0M98.0 43.0h0M34.1 101.0h0M159.7 81.8h0M689.5 91.3h0M46.8 100.1h0M702.7 78.6h0M129.6 77.6h0M334.2 77.0h0M623.0 88.8h0M271.9 21.3h0M444.3 63.8h0M284.4 70.6h0M29.8 93.9h0M651.1 79.5h0M35.0 99.4h0M60.5 79.0h0M128.2 82.6h0M497.9 72.2h0M444.3 52.1h0M560.3 88.5h0M626.0 75.1h0M223.9 86.4h0M156.4 72.1h0M176.3 44.4h0M705.1 73.8h0M606.1 78.3h0M540.5 60.6h0M432.6 52.1h0M337.2 71.9h0M338.4 71.0h0M172.6 57.1h0M112.4 54.2h0M416.2 42.4h0M559.0 87.0h0M431.2 52.2h0M62.9 78.4h0M684.2 93.4h0M125.9 91.3h0M685.8 72.9h0M222.3 87.5h0M222.3 92.2h0M606.0 85.2h0M125.7 70.0h0M466.2 64.5h0M28.8 108.4h0M111.0 58.7h0M172.0 43.7h0M145.2 76.6h0M561.3 90.1h0M415.8 48.6h0M530.1 66.2h0M242.0 90.8h0M176.0 42.3h0M413.2 54.9h0M480.7 65.3h0M111.0 67.0h0M556.2 92.5h0M223.6 76.8h0M47.6 92.6h0M64.0 79.8h0M509.6 31.5h0M111.9 74.1h0M159.1 85.7h0M338.5 67.9h0M351.1 80.4h0M220.5 88.4h0M418.4 45.3h0M176.7 42.8h0M78.9 62.4h0M140.9 82.6h0M651.5 75.6h0M256.6 95.0h0M239.7 89.3h0M336.8 67.9h0M160.6 65.2h0M114.6 71.4h0M701.7 70.6h0M146.0 80.5h0M48.6 98.8h0M93.6 50.6h0M620.3 84.5h0M635.3 80.1h0M285.5 75.7h0M383.4 86.6h0M494.7 64.3h0M396.4 81.0h0M319.7 70.4h0M557.4 86.8h0M47.8 105.6h0M113.9 74.9h0M395.7 91.8h0M302.7 71.0h0M96.3 40.4h0M242.7 86.9h0M669.0 80.4h0M625.6 84.4h0M669.1 81.1h0M528.0 54.7h0M288.8 80.1h0M526.5 52.1h0M303.9 70.4h0M300.1 80.5h0M333.9 77.7h0M158.5 71.2h0M29.3 98.1h0M651.8 73.1h0M237.0 88.7h0M558.0 76.3h0M381.6 90.7h0M226.0 86.4h0M465.9 65.6h0M524.5 58.8h0M651.3 83.1h0M81.5 74.0h0M384.5 99.2h0M49.0 102.5h0M399.6 81.9h0M415.4 46.8h0M591.7 99.0h0M492.6 69.9h0M354.3 72.5h0M47.0 100.1h0M398.8 81.0h0M270.0 42.0h0M321.1 78.7h0M193.3 48.4h0M350.7 83.0h0M674.0 74.8h0M269.4 50.8h0M607.3 95.3h0M289.4 77.6h0M429.3 50.0h0M159.5 72.8h0M322.6 69.8h0M220.7 77.5h0M461.0 69.2h0M465.0 58.2h0M479.4 62.0h0M689.1 77.7h0M301.6 86.6h0M513.6 34.4h0M509.2 31.4h0M525.8 67.2h0M656.7 78.0h0M494.3 76.7h0M220.7 87.4h0M652.2 82.1h0M98.0 42.9h0M161.0 73.8h0M348.1 80.3h0M129.4 85.1h0M414.9 49.7h0M370.3 94.5h0M463.4 66.3h0M673.9 76.1h0M50.8 97.6h0M380.7 87.5h0M288.8 80.0h0M450.0 52.5h0M556.6 82.7h0M189.3 48.5h0M111.5 60.5h0M480.4 62.1h0M255.9 92.9h0M267.9 41.1h0M66.0 64.8h0M367.7 88.4h0M560.7 84.5h0M81.6 74.1h0M81.2 72.2h0M125.9 83.7h0M385.0 91.1h0M221.3 91.2h0M130.4 88.3h0M95.6 39.8h0M158.2 72.3h0M574.4 92.3h0M159.4 68.8h0M606.1 89.6h0M544.0 59.0h0M592.0 79.8h0M222.2 87.9h0M319.2 74.9h0M625.3 82.2h0M207.0 77.3h0M190.8 46.6h0M636.8 80.0h0M225.5 70.0h0M190.0 37.6h0M128.0 66.6h0M512.4 24.1h0M143.0 83.0h0M476.0 64.4h0M527.9 53.7h0M174.0 43.5h0M254.9 91.9h0M434.4 51.5h0M703.6 81.8h0M67.1 75.6h0M384.3 85.4h0M44.5 101.4h0M593.3 98.6h0M190.0 43.8h0M238.9 91.6h0M78.9 74.4h0M141.7 88.9h0M541.6 54.9h0M143.6 94.2h0M523.4 61.5h0M96.5 42.0h0M465.5 70.1h0M290.4 86.0h0M257.3 90.7h0M270.3 41.8h0M672.2 80.0h0M476.4 64.3h0M575.1 89.0h0M509.1 22.9h0M50.8 100.4h0M190.3 41.2h0M683.2 69.9h0M625.9 77.7h0M302.2 71.7h0M479.8 57.9h0M540.2 63.9h0M94.6 41.0h0M657.8 85.6h0M352.2 79.8h0M417.7 50.3h0M460.2 58.5h0M702.5 79.4h0M270.4 48.0h0M273.1 45.8h0M78.8 64.3h0M114.6 67.2h0M300.8 70.3h0M257.1 88.1h0M687.5 97.7h0M319.2 73.1h0M640.3 87.3h0M77.9 66.2h0M571.6 86.3h0M29.8 100.6h0M49.0 104.8h0M285.6 84.5h0M542.4 63.2h0M668.1 74.5h0M82.3 67.7h0M636.8 79.4h0M204.1 70.2h0M578.2 86.6h0M66.9 75.5h0M108.3 64.7h0M47.3 91.9h0M114.3 64.8h0M463.2 64.3h0M48.2 96.3h0M411.8 54.4h0M178.1 48.8h0M381.8 83.2h0M621.0 84.9h0M587.9 91.4h0M162.3 75.1h0M62.4 72.5h0M35.1 100.8h0M508.8 31.2h0M641.5 77.9h0M525.5 54.6h0M364.3 91.4h0M207.5 77.8h0M637.1 91.2h0M400.8 74.7h0M429.4 53.5h0M300.9 79.4h0M130.5 80.5h0M158.7 85.0h0M188.0 45.6h0M428.2 51.7h0M413.4 51.5h0M657.5 79.2h0M77.8 68.8h0M575.4 89.3h0M365.3 95.8h0M417.3 50.1h0M142.7 81.2h0M573.9 91.1h0M497.7 78.6h0M190.3 51.3h0M367.9 91.5h0M620.2 80.6h0M29.9 95.3h0M269.5 47.6h0M254.6 98.0h0M83.0 68.6h0M699.4 64.4h0M347.8 69.7h0M430.9 55.2h0M158.5 85.6h0M478.3 74.1h0M587.6 85.3h0M433.5 48.8h0M46.5 95.3h0M413.6 55.9h0M546.1 61.1h0M337.6 80.2h0M301.7 81.0h0M349.7 71.4h0M417.9 47.0h0M97.0 44.8h0M208.8 77.8h0M80.0 69.0h0M385.3 93.4h0M558.9 91.6h0M465.9 59.7h0M240.5 99.1h0M174.6 40.0h0M93.1 44.6h0M524.9 59.2h0M689.4 88.5h0M350.5 73.6h0M527.0 55.3h0M479.3 66.1h0M173.7 38.8h0M590.0 87.6h0M78.4 65.0h0M269.3 35.4h0M305.0 82.4h0M143.0 77.3h0M511.7 37.5h0M427.5 48.4h0M33.6 90.4h0M175.1 47.3h0M491.9 70.4h0M673.7 72.6h0M29.2 96.9h0M289.1 73.6h0M111.4 65.8h0M430.4 55.0h0M640.7 86.1h0M555.5 87.6h0M303.8 74.2h0M509.1 32.5h0M271.1 44.2h0M126.0 86.8h0M671.8 78.2h0M573.3 85.0h0M94.5 40.1h0M604.7 92.5h0M529.0 60.5h0M672.6 78.9h0M446.8 61.4h0M306.2 75.2h0M446.3 71.8h0M77.6 77.9h0M98.3 35.2h0M655.8 79.5h0M303.1 78.7h0M224.3 72.5h0M368.6 93.8h0M35.2 96.7h0M93.5 41.3h0M621.3 76.1h0M446.4 62.7h0M194.8 44.6h0M354.6 69.1h0M636.8 82.2h0M523.6 56.0h0M161.9 80.3h0M124.6 76.0h0M594.0 93.4h0M114.6 74.8h0M301.0 80.2h0M334.0 63.0h0M51.1 101.8h0M589.3 87.5h0M576.5 97.5h0M384.1 86.0h0M348.7 71.4h0M175.4 46.5h0M207.1 69.9h0M77.4 68.9h0M206.2 69.8h0M381.1 85.2h0M541.9 57.8h0M337.7 73.0h0M240.8 94.9h0M575.8 91.3h0M497.1 68.4h0M271.5 23.5h0M32.2 107.9h0M543.0 63.9h0M546.2 54.1h0M655.3 79.6h0M459.8 59.9h0M493.4 66.4h0M33.3 100.9h0M492.0 71.0h0M396.1 83.9h0M45.8 94.5h0M513.4 39.5h0M656.9 82.4h0M303.6 79.4h0M402.4 89.7h0M336.7 71.3h0M562.2 86.4h0M222.9 80.9h0M395.8 80.4h0M591.2 95.1h0M400.7 82.9h0M46.4 102.1h0M527.9 63.7h0M496.3 70.1h0M289.3 69.6h0M508.2 32.9h0M110.4 73.3h0M368.6 85.1h0M160.1 75.8h0M703.6 80.5h0M445.7 58.2h0M302.0 77.0h0M479.1 69.2h0M80.6 69.2h0M221.1 75.4h0M162.3 81.4h0M161.7 74.7h0M110.5 55.9h0M284.8 81.3h0M415.2 51.6h0M255.1 95.0h0M129.1 68.3h0M337.9 82.2h0M445.9 57.6h0M336.0 78.3h0M320.3 72.6h0M251.8 87.9h0M273.4 44.9h0M194.8 49.4h0M204.4 76.1h0M449.3 55.9h0M290.0 85.1h0M622.8 79.0h0M495.2 65.5h0M160.4 84.4h0M480.1 65.2h0M445.7 63.3h0M270.0 47.0h0M668.0 76.5h0M624.7 80.1h0M560.8 89.2h0M158.7 73.6h0M31.9 100.3h0M640.2 75.2h0M178.2 47.0h0M125.7 71.1h0M670.2 82.5h0M443.6 65.1h0M240.4 98.1h0M128.8 70.3h0M574.5 83.5h0M63.4 72.8h0M318.5 80.3h0M689.1 97.4h0M334.3 71.1h0M239.7 91.3h0M700.3 75.7h0M384.9 82.0h0M353.4 69.9h0M428.1 50.9h0M449.1 61.8h0M529.6 50.2h0M606.6 83.9h0M557.8 90.4h0M557.6 89.2h0M192.5 44.8h0M189.1 46.1h0M78.1 72.8h0M50.9 91.7h0M369.3 85.1h0M287.5 76.7h0M428.5 52.0h0M639.3 87.3h0M589.1 84.8h0M272.5 53.5h0M413.8 47.7h0M252.5 99.8h0M335.9 71.9h0M495.6 73.9h0M63.6 72.7h0M257.3 94.3h0M689.4 85.5h0M190.2 51.1h0M207.9 75.1h0M146.2 76.8h0M637.8 79.4h0M540.2 63.4h0M241.6 89.5h0M593.4 83.5h0M188.4 50.3h0M608.9 83.2h0M321.7 79.1h0M466.1 63.3h0M418.4 54.1h0" stroke="#2F9A9A" stroke-width="1.5" stroke-linecap="round" stroke-opacity="0.5" fill="none"/>
<path d="M484.0 64.4h0M35.3 103.2h0M228.9 75.2h0M53.0 91.3h0M229.3 91.0h0M563.3 85.6h0M610.6 84.5h0M516.1 32.4h0M52.3 91.9h0M295.0 77.8h0M658.5 80.4h0M453.1 60.4h0M230.0 80.9h0M307.7 79.5h0M610.5 83.2h0M452.7 62.9h0M532.9 62.9h0M55.6 97.4h0M451.5 64.5h0M88.1 64.7h0M659.7 88.7h0M691.5 76.1h0M146.8 73.0h0M258.2 96.5h0M338.8 74.3h0M72.6 73.9h0M551.8 57.7h0M695.0 93.2h0M550.9 73.2h0M675.7 83.0h0M548.1 70.0h0M118.7 67.5h0M164.7 80.0h0M55.3 106.6h0M612.5 79.6h0M513.8 31.1h0M610.9 90.2h0M277.3 45.4h0M274.9 43.8h0M695.8 78.6h0M582.7 93.1h0M292.5 83.4h0M262.8 95.4h0M483.1 69.6h0M568.4 86.7h0M482.3 70.8h0M518.6 39.4h0M614.3 85.8h0M211.4 74.1h0M354.6 74.9h0M630.1 81.2h0M308.4 82.8h0M644.9 84.8h0M71.5 69.3h0M321.9 70.2h0M357.3 73.3h0M280.6 42.9h0M227.2 85.6h0M673.4 79.0h0M322.2 80.2h0M340.4 67.4h0M72.8 67.9h0M578.1 88.3h0M356.7 71.4h0M563.3 88.1h0M148.3 84.2h0M356.8 72.2h0M146.9 90.2h0M390.8 89.0h0M179.2 47.9h0M360.4 71.0h0M690.7 91.7h0M213.3 89.2h0M389.9 85.0h0M705.3 66.1h0M469.1 70.1h0M453.8 63.8h0M131.3 82.5h0M503.4 70.8h0M484.6 64.5h0M470.5 67.5h0M167.9 76.7h0M568.2 91.1h0M514.8 29.8h0M579.0 89.0h0M53.5 91.2h0M276.5 43.0h0M245.4 92.1h0M567.2 85.6h0M611.1 76.7h0M582.5 88.4h0M341.5 75.9h0M679.3 82.2h0M420.4 46.0h0M229.6 81.1h0M292.6 79.8h0M137.2 77.5h0M387.5 97.4h0M663.2 69.7h0M515.9 39.2h0M99.9 45.1h0M275.1 42.1h0M406.3 76.9h0M34.4 97.8h0M38.8 97.2h0M152.1 75.8h0M375.3 101.7h0M258.5 95.6h0M518.6 30.5h0M341.3 77.2h0M292.3 85.5h0M695.2 82.5h0M162.5 78.2h0M644.7 84.3h0M483.1 62.8h0M598.0 92.6h0M210.8 71.2h0M133.9 68.2h0M438.4 45.3h0M104.6 48.4h0M483.0 67.0h0M482.2 69.3h0M690.5 86.3h0M677.0 81.4h0M692.2 89.7h0M562.6 85.7h0M690.9 78.1h0M599.6 80.7h0M404.2 83.3h0M675.2 90.6h0M296.2 82.9h0M55.2 100.4h0M89.3 69.9h0M105.0 45.4h0M658.3 69.7h0M132.2 77.6h0M596.5 79.0h0M579.0 95.3h0M38.0 103.5h0M50.4 102.6h0M501.9 77.3h0M643.6 93.1h0M150.2 80.9h0M405.4 89.5h0M438.9 49.2h0M452.8 70.4h0M626.9 83.3h0M150.2 95.6h0M119.1 73.2h0M53.6 101.3h0M706.1 67.2h0M644.0 81.6h0M390.6 91.0h0M354.3 76.9h0M403.6 75.6h0M578.0 96.4h0M83.3 65.4h0M167.0 88.4h0M68.0 71.5h0M550.6 68.5h0M70.8 72.2h0M214.9 83.6h0M548.3 75.0h0M694.9 76.5h0M130.8 78.4h0M134.9 79.5h0M376.5 97.7h0M295.2 70.0h0M421.5 43.4h0M103.6 43.5h0M452.1 61.5h0M529.9 51.9h0M707.0 71.3h0M597.8 84.5h0M375.1 95.4h0M690.9 78.6h0M357.8 72.6h0M259.5 94.5h0M232.0 81.9h0M532.9 60.7h0M546.1 71.5h0M243.8 96.2h0M212.7 87.0h0M153.2 92.4h0M545.7 66.0h0M708.7 79.3h0M258.1 96.5h0M258.1 95.1h0M660.8 77.9h0M55.0 107.3h0M180.9 41.6h0M598.5 82.7h0M200.2 47.6h0M662.7 83.1h0M404.3 90.8h0M324.9 72.2h0M690.3 80.3h0M263.8 92.6h0M181.3 46.1h0M195.4 44.7h0M67.7 79.0h0M472.2 65.3h0M326.9 69.5h0M164.9 89.0h0M275.5 45.7h0M407.4 83.7h0M201.1 39.9h0M692.4 87.0h0M376.5 92.4h0M661.6 69.2h0M53.6 98.0h0M711.5 86.0h0M530.4 71.6h0M259.7 100.1h0M420.1 53.4h0M534.7 58.7h0M677.5 75.1h0M182.2 49.7h0M632.2 83.2h0M420.0 46.2h0M211.6 82.2h0M291.5 78.4h0M72.1 73.0h0M136.5 80.4h0M436.5 46.4h0M274.8 42.9h0M292.5 81.8h0M168.7 76.8h0M322.4 80.1h0M121.0 66.8h0M583.4 86.8h0M438.0 56.7h0M406.8 83.0h0M212.2 81.8h0M629.5 80.0h0M230.4 86.5h0M228.5 87.4h0M180.1 41.3h0M642.5 81.7h0M242.1 95.7h0M421.5 54.1h0M406.6 82.7h0M295.2 85.4h0M708.2 77.4h0M213.6 88.8h0M99.7 53.3h0M82.3 73.5h0M40.8 107.9h0M83.5 74.2h0M360.6 72.1h0M486.6 68.6h0M358.3 75.4h0M199.6 40.5h0M119.3 55.8h0M503.8 66.5h0M324.2 74.0h0M196.3 43.6h0M115.3 70.0h0M706.3 73.2h0M312.1 82.9h0M404.7 79.9h0M230.8 90.4h0M69.0 66.3h0M487.4 71.4h0M327.2 78.5h0M86.9 73.0h0M582.1 83.0h0M119.8 72.6h0M643.4 81.2h0M468.0 59.4h0M242.8 92.6h0M244.0 91.3h0M626.9 81.6h0M118.4 60.3h0M103.6 51.4h0M163.4 99.3h0M152.0 75.9h0M118.9 73.0h0M296.1 69.6h0M466.8 58.7h0M440.6 50.2h0M388.2 89.7h0M548.5 61.6h0M626.7 89.1h0M153.1 79.7h0M69.2 84.5h0M659.3 77.3h0M153.2 93.3h0M661.9 77.3h0M579.6 91.8h0M36.2 94.3h0M693.6 83.2h0M418.7 44.6h0M50.9 94.7h0M614.4 84.9h0M689.6 75.3h0M115.6 72.1h0M434.0 50.8h0M674.4 86.4h0M501.1 65.7h0M548.8 61.5h0M279.3 41.2h0M610.2 94.6h0M290.8 70.2h0M389.5 90.3h0M295.5 80.3h0M550.8 58.8h0M614.9 72.4h0M131.7 83.8h0M389.7 92.2h0M370.6 102.3h0M180.8 54.6h0M454.2 61.6h0M436.0 46.2h0M502.9 68.7h0M564.6 79.9h0M120.7 65.4h0M38.0 100.3h0M593.6 87.3h0M258.8 96.4h0M561.7 82.6h0M469.4 67.2h0M564.4 96.2h0M547.7 63.7h0M658.3 77.3h0M677.3 90.8h0M531.2 60.5h0M389.5 97.7h0M484.2 65.9h0M610.5 80.5h0M165.3 101.6h0M165.3 79.0h0M35.7 92.2h0M357.7 68.1h0M198.9 43.3h0M418.6 47.4h0M630.0 84.8h0M246.2 98.7h0M613.4 89.9h0M356.8 76.8h0M101.3 42.7h0M599.9 88.0h0M311.4 70.3h0M565.3 88.3h0M226.7 89.2h0M423.3 44.7h0M501.7 79.2h0M470.3 69.1h0M262.6 92.2h0M644.0 84.3h0M645.3 85.4h0M564.9 84.9h0M226.8 85.2h0M295.7 73.8h0M356.1 75.7h0M131.2 78.1h0M38.1 102.1h0M181.8 46.0h0M535.7 63.4h0M469.9 63.1h0M419.5 51.3h0M178.5 40.6h0M392.6 97.8h0M245.3 92.2h0M120.7 63.8h0M408.7 88.0h0M659.2 74.1h0M627.1 79.7h0M243.5 99.3h0M405.3 86.9h0M582.4 86.2h0M152.8 72.8h0M484.7 73.2h0M135.3 75.4h0M615.6 86.9h0M392.0 87.3h0M455.5 70.9h0M629.6 91.0h0M371.5 97.7h0M163.9 87.7h0M439.3 51.7h0M148.9 85.7h0M405.9 87.6h0M72.8 65.3h0M659.1 74.5h0M454.9 67.5h0M341.7 68.4h0M83.9 69.6h0M599.2 92.3h0M215.7 82.1h0M280.7 46.4h0M627.5 79.7h0M610.4 82.7h0M482.2 73.1h0M613.3 79.0h0M534.2 65.9h0M103.1 44.0h0M326.4 69.2h0M245.1 98.6h0M436.8 50.6h0M615.8 77.8h0M56.0 106.4h0M180.5 47.5h0M712.2 72.6h0M449.8 65.5h0M323.6 76.4h0M214.8 83.7h0M338.5 73.1h0M117.1 59.4h0M534.2 60.0h0M408.4 85.3h0M67.7 66.8h0M564.7 86.1h0M658.3 72.0h0M517.4 29.2h0M89.2 71.6h0M262.0 95.6h0M404.6 86.3h0M214.0 76.8h0M498.1 71.7h0M499.3 80.9h0M120.6 73.7h0M552.4 62.0h0M515.4 43.6h0M423.4 47.3h0M166.0 73.3h0M278.1 45.0h0M531.7 61.8h0M710.0 77.5h0M519.4 39.0h0M134.1 70.6h0M116.0 63.2h0M341.7 76.8h0M533.0 56.5h0M182.0 44.1h0M35.5 97.1h0M322.5 71.0h0M659.8 81.7h0M545.7 71.0h0M197.0 43.6h0M613.3 80.2h0M104.3 43.9h0M72.5 73.6h0M679.1 87.0h0M402.0 79.8h0M264.0 94.2h0M662.1 81.5h0M438.0 47.3h0M260.6 89.7h0M263.0 95.6h0M548.0 67.5h0M466.0 60.4h0M580.3 94.6h0M709.8 70.3h0M68.3 70.1h0M611.4 85.1h0M147.5 96.1h0M705.5 67.6h0M198.9 46.6h0M487.3 74.2h0M52.6 95.2h0M645.3 91.5h0M423.3 45.7h0M515.5 34.4h0M456.6 61.1h0M328.3 72.3h0M325.2 78.6h0M356.7 71.3h0M181.5 53.0h0M164.0 89.9h0M151.0 97.4h0M56.3 94.3h0M312.5 81.1h0M312.9 77.8h0M483.7 72.7h0M322.5 74.8h0M419.9 44.0h0M311.5 80.0h0M564.5 78.3h0M103.3 41.9h0M696.2 82.5h0M436.7 52.8h0M502.8 82.1h0M392.6 95.0h0M676.8 81.2h0M693.6 88.4h0M453.2 58.9h0M101.2 42.2h0M705.3 70.8h0M647.7 88.7h0M149.2 77.1h0M501.7 80.7h0M533.6 53.0h0M438.0 46.9h0M180.9 42.8h0M40.2 97.4h0M657.7 78.6h0M407.0 81.3h0M487.2 65.7h0M196.6 50.4h0M69.7 76.4h0M68.6 72.9h0M280.5 43.7h0M197.7 42.8h0M438.5 55.4h0M418.0 46.0h0M612.0 79.6h0M499.9 67.8h0M179.0 50.0h0M610.0 91.2h0M533.0 69.3h0M148.9 85.8h0M502.3 66.7h0M691.0 73.3h0M695.5 81.8h0M664.3 73.4h0M611.6 97.4h0M388.0 93.1h0M114.3 67.7h0M198.9 47.2h0M86.4 65.0h0M584.3 85.0h0M566.4 96.3h0M200.3 41.2h0M581.0 97.7h0M83.3 72.8h0M646.8 81.3h0M118.5 61.4h0M280.7 42.6h0M531.2 60.8h0M360.6 71.6h0M88.6 65.1h0M356.4 75.4h0M439.0 46.7h0M39.5 102.1h0M135.2 76.4h0M323.9 80.3h0M482.5 62.1h0M421.5 52.0h0M626.6 91.3h0M500.1 67.4h0M551.8 61.6h0M306.5 81.2h0M83.4 68.3h0M450.3 54.7h0M563.0 84.9h0M532.9 58.0h0M598.6 82.3h0M260.6 91.0h0M615.8 71.4h0M229.9 87.0h0M580.7 90.0h0M389.2 91.2h0M148.7 93.4h0M291.7 78.3h0M625.8 85.3h0M594.4 90.1h0M503.9 64.5h0M262.6 93.7h0M372.5 96.6h0M419.6 54.6h0M166.0 100.3h0M243.5 93.4h0M547.8 64.6h0M147.5 91.3h0M707.3 83.8h0M101.5 48.0h0M197.1 42.7h0M293.6 82.2h0M403.9 82.8h0M435.2 45.2h0M613.8 94.2h0M295.1 77.5h0M610.3 77.9h0M371.9 97.5h0M232.9 90.9h0M593.5 94.5h0M472.3 64.6h0M246.1 91.3h0M83.1 71.5h0M515.4 27.0h0M501.9 72.1h0M437.0 46.6h0M513.9 40.6h0M309.6 73.7h0M280.7 41.7h0M86.4 69.0h0M337.9 77.5h0M243.9 99.9h0M371.0 90.0h0M36.1 101.3h0M678.0 75.3h0M243.3 94.4h0M120.8 60.5h0M582.8 82.8h0M422.6 51.7h0M706.8 79.2h0M370.8 103.1h0M690.6 81.8h0M376.7 101.6h0M418.4 50.4h0M613.2 73.9h0M358.9 74.2h0M611.3 91.0h0M660.5 84.9h0M341.8 70.2h0M327.3 78.7h0M552.5 66.5h0M55.6 88.2h0M580.2 89.1h0M435.3 47.8h0M35.6 98.6h0M418.8 53.2h0M342.2 76.9h0M408.2 79.8h0M581.6 95.2h0M73.0 74.2h0M516.5 33.3h0M165.1 77.8h0M631.1 84.8h0M294.1 82.3h0M354.7 78.0h0M596.1 89.4h0M211.7 78.1h0M260.9 94.0h0M647.4 83.5h0M278.9 46.9h0M694.1 85.3h0M691.8 83.0h0M472.1 62.9h0M51.3 101.8h0M243.5 94.3h0M515.0 36.3h0M52.5 99.0h0M612.3 79.9h0M455.0 68.4h0M196.6 43.9h0M307.8 81.8h0M421.6 47.7h0M164.3 78.0h0M626.1 82.1h0M38.3 100.4h0M646.0 79.3h0M168.6 75.5h0M102.3 53.5h0M101.3 47.8h0M86.4 64.3h0M82.7 68.1h0M690.7 85.6h0M595.7 89.8h0M499.3 75.1h0M424.2 46.7h0M676.0 78.1h0M50.8 90.8h0M118.6 74.4h0M168.4 88.5h0M342.2 69.9h0M386.9 91.0h0M247.0 101.1h0M165.8 80.9h0M277.0 45.4h0M86.7 72.9h0M131.2 87.3h0M311.5 74.8h0M195.7 38.1h0M341.4 70.7h0M134.3 82.0h0M548.9 70.2h0M483.2 63.3h0M327.6 78.2h0M644.4 86.6h0M278.9 48.4h0M437.5 51.5h0M535.1 58.7h0M390.4 89.5h0M85.8 74.3h0M293.1 74.2h0M520.0 31.1h0M200.3 50.9h0M69.0 75.2h0M711.7 74.9h0M55.1 89.0h0M373.0 93.6h0M454.7 72.6h0M71.6 68.5h0M641.9 90.8h0M312.5 82.6h0M231.8 79.3h0M660.7 82.9h0M178.9 47.2h0M116.4 72.0h0M243.6 90.5h0M198.9 41.8h0M577.8 96.4h0M518.8 34.4h0M471.7 64.4h0M453.4 68.7h0M66.9 69.1h0M232.8 83.5h0M562.0 85.3h0M369.9 93.1h0M646.2 84.9h0M310.2 72.8h0M530.3 63.6h0M693.9 92.7h0M483.4 61.0h0M215.7 79.8h0M258.7 98.5h0M519.4 37.1h0M355.9 71.5h0M599.1 88.0h0M40.7 106.2h0M711.5 67.7h0M435.0 54.0h0M85.6 69.7h0M627.2 79.5h0M643.0 82.1h0M514.6 27.9h0M162.5 98.2h0M579.1 86.7h0M549.5 64.7h0M358.3 69.4h0M451.3 57.1h0M311.2 79.8h0M519.2 29.5h0M152.4 76.1h0M162.5 87.3h0M99.0 47.5h0M406.6 84.0h0M40.8 101.3h0M117.4 75.4h0M180.2 49.1h0M179.3 50.2h0M131.5 79.1h0M119.4 68.1h0M547.8 64.7h0M369.9 98.9h0M259.8 94.8h0M39.5 90.1h0M323.3 74.8h0M520.3 33.8h0M296.0 77.4h0M308.1 73.9h0M212.7 74.3h0M503.9 84.6h0M642.3 78.5h0M86.8 73.7h0M594.3 96.6h0M583.1 91.9h0M678.3 77.6h0M67.2 78.7h0M452.4 68.4h0M258.7 97.0h0M166.9 81.0h0M469.5 63.8h0M709.0 69.3h0M53.7 100.4h0M114.3 56.5h0M216.0 84.1h0M324.2 81.2h0M36.9 97.0h0M180.5 45.5h0M178.3 48.2h0M263.3 97.2h0M72.1 65.4h0M513.6 38.0h0M262.5 95.7h0M162.2 80.2h0M552.2 74.2h0M131.8 78.1h0M54.4 94.8h0M360.7 68.9h0M277.0 43.0h0M211.5 89.8h0M466.3 71.9h0M136.5 77.2h0M359.0 74.3h0M38.1 92.4h0M643.9 87.5h0M679.0 73.9h0M323.0 69.4h0M229.2 87.4h0M499.1 82.6h0M66.4 73.6h0M502.6 75.8h0M83.5 74.2h0M162.8 101.6h0M200.5 40.2h0M68.9 65.6h0M663.6 68.1h0M50.5 102.2h0M83.6 72.0h0M517.7 29.8h0M244.3 89.7h0M643.2 82.1h0M689.6 93.2h0M593.5 98.6h0M502.6 79.8h0M37.3 96.5h0M131.0 78.9h0M487.7 62.6h0M545.5 74.1h0M83.4 76.1h0M423.1 51.9h0M149.4 92.6h0M341.3 74.3h0M679.5 84.7h0M280.7 49.1h0M185.1 40.4h0M498.2 83.4h0M561.9 95.5h0M692.5 100.1h0M198.3 46.2h0M454.6 63.7h0M36.2 106.6h0M230.3 83.0h0M342.5 76.5h0M566.6 83.8h0M342.7 70.8h0M101.5 52.6h0M708.2 70.1h0M164.1 85.6h0M647.0 83.9h0M628.3 77.4h0M466.2 57.7h0M69.8 72.4h0M242.9 103.0h0M195.1 46.1h0M597.6 87.3h0M422.2 48.2h0M631.9 83.5h0M453.4 63.4h0M561.7 91.9h0M114.4 59.8h0M663.5 78.8h0M482.6 66.5h0M564.3 87.4h0M344.0 66.4h0M533.2 66.3h0M105.1 41.1h0M423.8 44.5h0M339.4 72.6h0M566.3 95.7h0M485.2 61.8h0M342.4 72.9h0M326.1 75.8h0M86.0 71.0h0M388.9 88.6h0M115.0 68.0h0M216.5 77.3h0M677.4 78.6h0M279.3 40.5h0M565.1 93.6h0M247.5 91.7h0M85.4 73.5h0M515.3 27.1h0M503.5 72.1h0M99.5 51.6h0M453.1 68.5h0M610.7 81.6h0M120.2 63.4h0M341.6 68.1h0M194.9 44.7h0M577.5 88.2h0M232.4 80.4h0M100.5 48.8h0M390.7 96.3h0M293.0 71.4h0M228.6 81.1h0M39.9 94.1h0M232.6 91.0h0M199.1 41.6h0M201.1 43.4h0M262.2 99.2h0M275.5 43.5h0M501.5 82.0h0M513.6 36.0h0M695.3 74.1h0M263.6 97.3h0M565.3 86.4h0M232.8 90.7h0M149.7 84.0h0M54.8 94.7h0M387.4 89.1h0M115.1 64.1h0M325.2 79.0h0M164.2 77.8h0M148.2 89.9h0M532.7 55.3h0M194.9 44.6h0M322.5 74.0h0M582.2 89.2h0M372.6 97.3h0M228.4 91.7h0M68.6 71.6h0M213.7 70.2h0M216.2 79.5h0M405.3 78.8h0M135.6 76.8h0M390.5 89.4h0M514.1 33.1h0M469.0 70.2h0M211.9 77.1h0M373.6 85.8h0M295.8 70.4h0M85.9 66.4h0M387.1 95.5h0M437.2 54.2h0M594.0 84.3h0M263.1 89.3h0M402.2 78.1h0M502.8 68.5h0M676.4 79.4h0M182.1 50.0h0M260.1 94.6h0M598.1 75.2h0M530.0 62.6h0M536.2 60.9h0M73.2 75.9h0M434.5 45.0h0M536.3 65.3h0M37.4 100.9h0M545.6 69.4h0M211.2 84.7h0M514.9 34.3h0M370.7 97.5h0M262.8 95.3h0M184.6 45.2h0M373.8 97.7h0M407.6 75.6h0M404.5 88.6h0M514.3 28.8h0M195.2 43.5h0M38.5 99.7h0M565.6 82.8h0M340.5 71.3h0M244.5 92.5h0M549.2 64.9h0M99.6 42.6h0M452.0 70.6h0M662.7 79.3h0M232.1 83.2h0M359.7 77.6h0M420.6 47.0h0M690.8 71.4h0M195.2 44.4h0M435.4 43.6h0" stroke="#D8456A" stroke-width="1.5" stroke-linecap="round" stroke-opacity="0.5" fill="none"/>
<path d="M29.10 94.16H34.30V101.64H29.10ZM45.07 95.26H50.27V103.18H45.07ZM61.04 69.52H66.24V75.24H61.04ZM77.02 66.88H82.22V73.26H77.02ZM92.99 40.04H98.19V47.52H92.99ZM108.96 62.26H114.16V71.72H108.96ZM124.93 72.38H130.13V81.84H124.93ZM140.90 76.78H146.10V86.90H140.90ZM156.88 73.26H162.08V83.82H156.88ZM172.85 42.90H178.05V48.62H172.85ZM188.82 42.02H194.02V47.96H188.82ZM204.79 74.58H209.99V83.16H204.79ZM220.76 78.10H225.96V88.22H220.76ZM236.74 89.76H241.94V96.14H236.74ZM252.71 91.74H257.91V96.80H252.71ZM268.68 40.48H273.88V48.62H268.68ZM284.65 75.24H289.85V82.50H284.65ZM300.62 74.58H305.82V81.84H300.62ZM316.60 72.38H321.80V78.10H316.60ZM332.57 70.18H337.77V77.44H332.57ZM348.54 71.06H353.74V78.98H348.54ZM364.51 86.02H369.71V94.05H364.51ZM380.48 86.02H385.68V93.28H380.48ZM396.46 80.30H401.66V86.90H396.46ZM412.43 46.64H417.63V52.36H412.43ZM428.40 47.30H433.60V53.24H428.40ZM444.37 58.30H449.57V66.22H444.37ZM460.34 59.62H465.54V66.22H460.34ZM476.32 62.48H481.52V68.42H476.32ZM492.29 67.54H497.49V74.14H492.29ZM508.26 27.72H513.46V34.98H508.26ZM524.23 55.88H529.43V63.80H524.23ZM540.20 60.28H545.40V66.77H540.20ZM556.18 83.16H561.38V90.42H556.18ZM572.15 87.56H577.35V93.28H572.15ZM588.12 85.36H593.32V95.48H588.12ZM604.09 83.16H609.29V89.76H604.09ZM620.06 79.09H625.26V87.01H620.06ZM636.04 80.52H641.24V88.44H636.04ZM652.01 75.46H657.21V81.95H652.01ZM667.98 74.80H673.18V81.18H667.98ZM683.95 79.86H689.15V90.64H683.95ZM699.92 70.40H705.12V80.52H699.92Z" stroke="#1C6C79" stroke-width="1.2" fill="#fff" fill-opacity="0.68"/>
<path d="M29.10 99.00H34.30M45.07 99.88H50.27M61.04 72.38H66.24M77.02 69.96H82.22M92.99 42.90H98.19M108.96 66.00H114.16M124.93 77.22H130.13M140.90 82.94H146.10M156.88 79.64H162.08M172.85 45.76H178.05M188.82 45.32H194.02M204.79 79.64H209.99M220.76 83.82H225.96M236.74 93.06H241.94M252.71 94.82H257.91M268.68 44.44H273.88M284.65 78.10H289.85M300.62 77.44H305.82M316.60 75.24H321.80M332.57 73.04H337.77M348.54 75.24H353.74M364.51 89.76H369.71M380.48 89.76H385.68M396.46 83.60H401.66M412.43 49.94H417.63M428.40 50.60H433.60M444.37 63.36H449.57M460.34 62.92H465.54M476.32 65.01H481.52M492.29 71.50H497.49M508.26 31.46H513.46M524.23 60.06H529.43M540.20 63.14H545.40M556.18 87.56H561.38M572.15 90.42H577.35M588.12 91.08H593.32M604.09 86.79H609.29M620.06 82.72H625.26M636.04 84.92H641.24M652.01 78.32H657.21M667.98 78.32H673.18M683.95 85.58H689.15M699.92 75.46H705.12" stroke="#1C6C79" stroke-width="1.35" fill="none"/>
<path d="M35.30 94.16H40.50V101.64H35.30ZM51.27 93.94H56.47V102.52H51.27ZM67.24 69.52H72.44V74.80H67.24ZM83.22 68.64H88.42V74.36H83.22ZM99.19 42.02H104.39V48.62H99.19ZM115.16 63.80H120.36V72.38H115.16ZM131.13 75.24H136.33V82.50H131.13ZM147.10 76.78H152.30V90.42H147.10ZM163.08 76.78H168.28V87.56H163.08ZM179.05 42.90H184.25V49.28H179.05ZM195.02 41.36H200.22V47.96H195.02ZM210.99 76.78H216.19V83.16H210.99ZM226.96 81.62H232.16V88.88H226.96ZM242.94 90.64H248.14V96.80H242.94ZM258.91 93.28H264.11V97.24H258.91ZM274.88 41.58H280.08V46.42H274.88ZM290.85 75.24H296.05V83.16H290.85ZM306.82 75.90H312.02V80.96H306.82ZM322.80 72.38H328.00V78.10H322.80ZM338.77 70.18H343.97V76.78H338.77ZM354.74 72.38H359.94V77.44H354.74ZM370.71 88.99H375.91V95.48H370.71ZM386.68 87.56H391.88V94.82H386.68ZM402.66 80.74H407.86V87.56H402.66ZM418.63 47.30H423.83V52.36H418.63ZM434.60 48.18H439.80V53.24H434.60ZM450.57 59.62H455.77V66.88H450.57ZM466.54 60.28H471.74V68.42H466.54ZM482.52 62.92H487.72V69.74H482.52ZM498.49 68.42H503.69V78.43H498.49ZM514.46 29.92H519.66V36.52H514.46ZM530.43 58.08H535.63V64.68H530.43ZM546.40 60.28H551.60V67.54H546.40ZM562.38 85.36H567.58V91.08H562.38ZM578.35 88.22H583.55V93.94H578.35ZM594.32 81.73H599.52V91.08H594.32ZM610.29 78.76H615.49V88.88H610.29ZM626.26 79.09H631.46V87.78H626.26ZM642.24 81.95H647.44V88.44H642.24ZM658.21 74.80H663.41V84.81H658.21ZM674.18 76.12H679.38V83.38H674.18ZM690.15 81.18H695.35V94.16H690.15ZM706.12 71.06H711.32V80.52H706.12Z" stroke="#871828" stroke-width="1.2" fill="#fff" fill-opacity="0.68"/>
<path d="M35.30 98.56H40.50M51.27 99.22H56.47M67.24 72.38H72.44M83.22 71.50H88.42M99.19 45.10H104.39M115.16 67.10H120.36M131.13 79.20H136.33M147.10 84.26H152.30M163.08 85.36H168.28M179.05 45.98H184.25M195.02 44.22H200.22M210.99 80.30H216.19M226.96 85.36H232.16M242.94 93.94H248.14M258.91 95.26H264.11M274.88 43.67H280.08M290.85 79.64H296.05M306.82 78.98H312.02M322.80 75.57H328.00M338.77 73.92H343.97M354.74 75.02H359.94M370.71 93.06H375.91M386.68 91.52H391.88M402.66 83.82H407.86M418.63 49.50H423.83M434.60 50.60H439.80M450.57 64.46H455.77M466.54 64.68H471.74M482.52 67.54H487.72M498.49 73.04H503.69M514.46 32.78H519.66M530.43 61.38H535.63M546.40 63.80H551.60M562.38 88.22H567.58M578.35 90.86H583.55M594.32 86.02H599.52M610.29 83.82H615.49M626.26 83.16H631.46M642.24 85.58H647.44M658.21 77.88H663.41M674.18 80.52H679.38M690.15 86.02H695.35M706.12 75.24H711.32" stroke="#871828" stroke-width="1.35" fill="none"/>
<path d="M498.1 72.3h0M498.0 71.4h0M253.9 96.3h0M258.7 95.7h0M396.5 88.3h0M431.7 52.5h0M349.2 81.2h0M92.2 45.5h0M479.2 69.5h0M700.6 77.8h0M220.5 83.3h0M124.5 61.5h0M465.5 64.3h0M689.4 97.7h0M222.6 90.5h0M236.9 100.5h0M286.1 78.8h0M207.8 80.1h0M449.7 60.1h0M509.2 25.3h0M353.1 82.7h0M271.7 38.8h0M240.1 95.7h0M79.8 70.0h0M92.5 49.8h0M369.1 91.9h0M220.9 70.7h0M402.0 85.5h0M494.6 73.5h0M156.7 67.8h0M669.0 78.8h0M349.6 74.1h0M82.7 70.7h0M29.9 96.4h0M303.6 82.2h0M429.3 48.8h0M386.4 90.1h0M268.2 56.3h0M577.1 93.5h0M402.1 83.6h0M331.8 68.3h0M348.7 81.7h0M608.6 89.3h0M114.2 66.4h0M556.3 92.8h0M364.2 89.4h0M444.3 71.5h0M445.0 66.5h0M383.6 92.7h0M671.4 74.0h0M317.3 78.4h0M528.0 48.3h0M145.2 79.8h0M635.5 90.6h0M482.2 60.6h0M364.2 86.8h0M671.6 81.8h0M479.8 67.6h0M652.0 80.7h0M495.3 76.4h0M226.0 83.3h0M463.0 62.7h0M434.2 58.0h0M493.7 70.2h0M221.8 84.7h0M321.4 78.6h0M625.5 80.1h0M141.1 86.9h0M510.7 31.5h0M590.0 96.9h0M111.7 67.0h0M30.6 101.2h0M174.2 47.9h0M654.8 82.9h0M544.4 57.1h0M576.5 84.9h0M621.4 79.8h0M322.5 70.4h0M45.1 95.4h0M76.5 64.2h0M95.9 42.7h0M447.8 69.8h0M287.1 86.0h0M525.8 62.3h0M428.0 52.3h0M318.7 75.5h0M47.3 97.8h0M65.2 73.4h0M672.3 83.1h0M619.4 80.1h0M444.4 56.7h0M543.5 64.1h0M50.7 102.1h0M112.5 67.9h0M385.0 87.1h0M336.7 75.6h0M239.1 88.1h0M61.9 75.5h0M238.4 100.6h0M447.9 59.8h0M60.4 71.7h0M507.7 23.1h0M429.2 54.8h0M143.1 77.8h0M63.1 71.1h0M400.8 78.3h0M113.5 65.1h0M512.1 32.5h0M194.0 43.0h0M267.9 45.2h0M496.0 70.6h0M241.6 86.3h0M351.6 72.7h0M45.4 101.7h0M159.5 86.1h0M252.3 99.6h0M44.6 100.7h0M224.6 80.8h0M174.9 39.2h0M482.2 68.5h0M589.5 94.9h0M542.3 65.5h0M463.5 57.4h0M125.7 65.2h0M365.5 86.6h0M50.6 100.1h0M288.8 82.9h0M703.6 62.4h0M527.1 64.4h0M29.3 95.1h0M384.8 91.0h0M191.8 40.1h0M306.2 75.1h0M240.7 85.2h0M62.5 73.4h0M252.8 96.4h0M141.0 73.9h0M434.2 41.6h0M348.8 77.5h0M619.2 87.6h0M523.3 62.0h0M508.9 32.7h0M192.7 52.2h0M305.5 78.3h0M65.1 73.1h0M365.7 87.0h0M460.3 56.9h0M624.7 89.0h0M444.5 68.5h0M530.1 60.3h0M238.6 98.9h0M368.5 87.9h0M210.4 78.9h0M110.2 68.3h0M593.9 84.5h0M684.8 79.9h0M574.5 91.4h0M512.0 37.9h0M46.3 99.3h0M683.9 98.5h0M700.1 89.6h0M655.2 77.2h0M209.6 79.3h0M300.2 79.6h0M145.3 84.9h0M189.3 51.0h0M190.2 53.6h0M672.7 76.3h0M590.1 103.7h0M178.9 45.7h0M508.3 23.0h0M143.6 81.4h0M603.3 83.7h0M65.3 66.3h0M412.3 44.9h0M637.8 90.0h0M237.8 94.9h0M284.9 80.5h0M301.8 82.5h0M466.4 58.8h0M92.8 44.6h0M338.6 71.6h0M175.8 46.4h0M144.2 88.0h0M482.0 66.5h0M63.7 72.4h0M350.7 69.4h0M523.9 65.6h0M524.9 63.3h0M608.3 84.4h0M252.3 94.8h0M368.8 87.2h0M333.6 79.7h0M333.0 68.3h0M445.1 54.2h0M636.4 88.0h0M258.3 93.8h0M335.7 73.9h0M449.3 63.1h0M66.2 68.5h0M223.3 81.4h0M478.9 72.5h0M545.2 69.0h0M269.4 41.1h0M480.8 62.5h0M591.7 96.2h0M159.6 76.6h0M559.9 93.4h0M652.6 80.1h0M684.5 74.8h0M320.5 72.8h0M482.4 71.4h0M141.9 71.6h0M591.1 84.0h0M254.1 86.4h0M607.2 89.6h0M225.4 77.8h0M624.6 77.7h0M415.2 48.1h0M158.0 74.5h0M688.4 92.0h0M61.2 73.0h0M210.2 87.8h0M33.8 105.1h0M124.3 72.0h0M63.4 70.2h0M299.8 72.5h0M370.6 78.9h0M208.8 76.0h0M194.0 52.9h0M28.6 107.7h0M706.0 72.8h0M639.6 81.4h0M348.1 69.6h0M653.1 82.9h0M126.7 85.6h0M460.6 63.9h0M605.2 83.2h0M622.5 86.2h0M289.5 83.4h0M317.6 77.1h0M79.1 65.0h0M478.4 67.9h0M526.9 51.9h0M66.3 80.4h0M445.1 71.8h0M620.7 72.0h0M607.0 89.3h0M241.4 96.3h0M157.2 67.6h0M493.9 75.4h0M492.3 71.5h0M447.1 54.4h0M621.2 93.1h0M526.4 68.4h0M143.2 79.1h0M237.9 87.6h0M189.2 43.2h0M47.2 98.0h0M252.1 95.9h0M77.4 68.9h0M95.1 43.7h0M156.9 79.8h0M493.0 75.4h0M160.3 70.6h0M385.8 98.0h0M606.2 90.8h0M108.5 58.9h0M188.0 46.8h0M462.8 60.9h0M226.4 83.8h0M29.1 109.0h0M418.1 40.7h0M44.3 95.1h0M146.4 90.0h0M673.1 73.4h0M113.7 62.1h0M705.0 66.5h0M445.7 68.5h0M347.9 77.7h0M642.0 91.5h0M511.4 24.8h0M512.3 33.1h0M162.2 67.4h0M128.8 69.1h0M705.0 72.6h0M144.4 85.4h0M622.8 74.1h0M365.7 87.7h0M62.2 75.6h0M97.8 46.0h0M556.1 92.3h0M130.3 63.3h0M66.5 75.6h0M475.8 62.1h0M448.1 71.1h0M641.3 89.1h0M510.3 25.0h0M159.4 72.5h0M607.7 89.5h0M575.4 95.3h0M34.8 102.2h0M655.8 76.5h0M412.2 56.6h0M354.1 71.1h0M209.6 81.1h0M49.7 97.4h0M593.3 85.2h0M459.5 67.6h0M398.0 86.1h0M574.2 93.0h0M28.7 92.8h0M431.6 45.1h0M466.2 58.3h0M702.6 80.1h0M654.3 79.0h0M47.5 99.7h0M624.9 84.7h0M237.8 95.5h0M511.5 27.6h0M271.0 47.4h0M450.3 69.3h0M594.2 80.0h0M560.0 87.2h0M444.0 59.2h0M225.4 85.2h0M576.1 83.7h0M493.6 73.3h0M699.1 90.6h0M225.7 85.5h0M92.4 47.4h0M159.8 82.7h0M241.4 87.4h0M284.7 76.6h0M173.3 49.7h0M110.0 73.4h0M349.8 69.5h0M577.4 95.1h0M507.4 32.6h0M557.8 85.2h0M622.2 85.5h0M46.0 98.1h0M385.5 93.3h0M188.5 43.1h0M672.6 74.8h0M461.7 58.9h0M386.3 83.8h0M190.5 49.8h0M525.1 62.4h0M158.4 77.4h0M655.5 73.7h0M205.7 74.2h0M512.1 34.1h0M349.9 72.3h0M369.7 92.0h0M65.3 72.7h0M668.8 79.4h0M540.9 61.4h0M705.4 81.4h0M609.3 87.5h0M285.2 87.5h0M641.6 80.5h0M334.7 75.7h0M559.1 90.0h0M130.8 79.8h0M80.8 76.1h0M238.7 89.6h0M176.9 44.4h0M300.4 83.9h0M477.7 67.6h0M207.5 71.3h0M364.7 84.1h0M333.3 73.2h0M462.9 63.7h0M49.5 94.7h0M671.3 74.0h0M317.6 74.9h0M111.1 65.3h0M669.2 76.4h0M593.6 106.2h0M369.5 90.7h0M635.8 83.1h0M398.6 79.5h0M509.7 39.2h0M270.9 40.2h0M703.2 66.4h0M145.7 84.7h0M607.1 95.6h0M589.1 97.5h0M209.7 87.8h0M322.5 75.5h0M544.6 59.3h0M593.6 97.9h0M209.4 76.4h0M577.9 84.6h0M513.8 29.3h0M268.3 37.5h0M335.2 72.5h0M587.5 99.8h0M289.0 68.7h0M252.5 96.9h0M635.9 86.9h0M524.7 60.9h0M140.9 92.3h0M446.4 63.0h0M64.9 71.5h0M320.4 81.6h0M558.6 86.6h0M349.8 76.3h0M463.9 59.0h0M461.2 65.9h0M175.1 45.2h0M158.1 77.4h0M236.1 93.6h0M66.7 79.2h0M321.7 79.1h0M174.3 42.0h0M559.8 83.3h0M129.7 90.1h0M658.0 74.9h0M47.7 94.9h0M338.5 75.5h0M559.5 92.1h0M459.8 60.2h0M542.0 54.6h0M689.3 95.4h0M494.7 72.7h0M255.9 97.0h0M286.5 80.8h0M76.8 78.9h0M238.2 85.2h0M460.7 72.1h0M699.7 78.8h0M156.3 84.3h0M145.0 79.7h0M576.8 87.5h0M607.0 85.9h0M476.1 66.0h0M158.5 85.7h0M381.2 93.8h0M156.2 75.1h0M702.0 85.1h0M571.6 90.4h0M366.4 94.7h0M178.6 47.5h0M62.3 72.9h0M290.6 78.4h0M524.0 61.1h0M557.9 85.3h0M430.0 50.8h0M558.9 92.6h0M300.0 86.6h0M639.7 83.3h0M49.2 97.0h0M685.2 82.9h0M162.1 78.3h0M416.4 43.3h0M354.1 74.6h0M433.9 51.8h0M316.5 77.3h0M589.5 89.1h0M558.2 84.9h0M29.1 89.5h0M321.3 73.1h0M657.5 69.0h0M432.8 52.6h0M608.3 90.5h0M191.6 49.0h0M639.1 85.9h0M604.9 88.7h0M430.7 51.8h0M157.6 76.7h0M654.0 86.1h0M607.3 87.5h0M318.1 73.2h0M162.7 83.4h0M637.6 90.5h0M383.2 92.4h0M178.4 39.8h0M66.3 66.0h0M98.0 36.0h0M219.9 92.2h0M444.4 57.1h0M224.0 78.4h0M639.4 93.5h0M589.8 90.0h0M689.9 83.8h0M127.0 71.3h0M61.0 74.8h0M572.1 87.2h0M526.5 67.6h0M128.1 77.2h0M525.0 66.1h0M349.2 71.4h0M353.8 75.0h0M66.6 70.7h0M143.0 75.4h0M286.4 78.7h0M369.3 82.9h0M513.1 31.0h0M561.2 84.4h0M303.2 74.6h0M527.6 57.9h0M193.3 44.7h0M254.0 95.2h0M418.0 52.5h0M413.9 46.5h0M238.5 89.0h0M62.5 72.2h0M588.3 100.8h0M306.0 76.4h0M446.2 54.8h0M492.6 79.2h0M703.8 83.4h0M511.7 36.2h0M35.1 95.3h0M493.4 71.5h0M348.9 76.6h0M524.3 68.3h0M636.6 81.0h0M158.2 80.5h0M112.5 56.4h0M66.1 68.6h0M495.3 69.7h0M129.4 65.5h0M287.8 75.6h0M481.4 62.2h0M44.2 100.0h0M97.4 40.7h0M462.0 66.3h0M146.0 75.4h0M591.7 90.2h0M253.6 97.3h0M67.1 72.3h0M700.0 70.7h0M66.7 67.2h0M79.3 74.7h0M671.7 77.9h0M386.1 90.6h0M28.6 99.8h0M28.5 89.1h0M492.2 78.4h0M703.7 64.0h0M33.9 92.5h0M702.2 76.8h0M28.8 105.7h0M459.6 71.1h0M61.8 64.6h0M478.5 71.6h0M127.3 86.1h0M511.6 28.9h0M77.0 65.6h0M669.5 72.5h0M124.3 70.8h0M62.0 70.7h0M607.6 83.3h0M493.8 74.0h0M512.8 39.8h0M578.1 95.8h0M210.7 76.1h0M157.9 68.7h0M462.8 61.0h0M159.1 86.7h0M172.7 44.9h0M465.8 59.7h0M44.5 96.8h0M220.5 94.9h0M140.7 68.0h0M284.1 75.4h0M380.7 86.4h0M272.0 46.8h0M560.5 93.7h0M158.7 81.2h0M306.0 75.3h0M625.6 75.9h0M574.2 90.2h0M412.4 48.4h0M397.5 72.7h0M572.2 88.4h0M62.9 69.9h0M656.4 73.1h0M427.9 49.6h0M254.6 96.1h0M524.7 66.2h0M555.3 89.9h0M657.3 74.1h0M351.2 74.0h0M240.9 93.0h0M447.3 58.4h0M48.3 99.1h0M577.9 89.4h0M98.8 43.6h0M78.8 74.9h0M608.4 84.8h0M449.9 65.3h0M463.5 65.1h0M191.9 42.0h0M146.4 68.4h0M495.2 63.4h0M335.7 72.2h0M144.9 91.7h0M287.7 75.5h0M587.4 99.8h0M459.9 70.1h0M653.3 79.3h0M571.6 89.2h0M77.5 67.4h0M92.7 52.8h0M31.9 84.5h0M47.7 96.7h0M414.4 46.0h0M449.2 49.8h0M543.6 59.1h0M334.2 78.2h0M221.5 71.6h0M239.4 94.7h0M96.4 44.5h0M700.4 71.5h0M332.5 70.3h0M447.5 61.9h0M93.3 44.9h0M81.0 71.7h0M496.0 71.4h0M369.8 78.5h0M672.1 84.9h0M608.2 90.9h0M416.0 55.3h0M114.3 63.8h0M530.1 63.7h0M207.6 87.9h0M524.1 65.9h0M655.6 78.3h0M365.7 88.3h0M269.4 35.4h0M237.1 91.4h0M608.6 84.1h0M480.0 65.3h0M492.8 75.3h0M481.5 66.2h0M637.8 80.1h0M114.4 72.9h0M513.8 37.7h0M140.1 84.6h0M236.3 93.4h0M381.9 81.4h0M477.2 64.6h0M33.0 98.2h0M337.2 78.3h0M700.2 84.0h0M604.7 79.9h0M241.7 88.0h0M477.4 63.3h0M47.2 90.7h0M129.9 91.7h0M221.1 81.9h0M526.9 58.2h0M285.1 78.3h0M543.5 56.5h0M300.5 80.5h0M47.9 102.1h0M300.1 78.6h0M366.3 82.9h0M511.2 27.1h0M623.1 86.8h0M625.1 83.4h0M208.0 76.1h0M364.3 84.9h0M623.0 81.7h0M447.9 70.3h0M301.3 76.3h0M141.1 68.9h0M157.5 75.0h0M348.2 70.7h0M220.5 88.3h0M655.4 84.5h0M204.6 76.9h0M399.8 86.0h0M638.7 75.5h0M224.8 73.5h0M625.0 81.6h0M161.7 85.5h0M80.5 78.4h0M466.2 61.6h0M61.5 68.8h0M699.5 84.5h0M701.1 70.5h0M320.9 73.0h0M433.2 48.1h0M402.0 83.8h0M79.5 67.8h0M157.2 77.9h0M209.6 76.4h0M337.0 74.9h0M271.4 45.4h0M702.9 66.8h0M239.4 92.8h0M688.1 87.1h0M626.1 75.9h0M402.4 76.7h0M146.1 79.3h0M428.4 47.5h0M478.8 66.0h0M415.3 46.2h0M174.0 45.6h0M61.9 71.6h0M271.1 41.7h0M77.4 69.6h0M95.6 40.9h0M172.5 47.4h0M670.8 79.1h0M544.4 67.6h0M478.6 66.4h0M336.6 74.0h0M207.7 85.1h0M380.5 85.4h0M669.0 74.3h0M667.6 83.1h0M461.2 67.3h0M700.5 77.1h0M306.0 83.0h0M609.6 82.4h0M222.5 84.8h0M673.3 71.2h0M367.1 91.9h0M241.2 100.4h0M353.7 68.1h0M158.8 70.1h0M415.5 47.6h0M316.7 67.6h0M418.4 52.4h0M683.9 95.0h0M114.7 73.7h0M475.9 59.8h0M352.0 82.3h0M397.7 89.2h0M700.1 89.8h0M638.7 93.3h0M208.2 86.3h0M385.6 96.9h0M640.4 88.0h0M288.8 83.6h0M444.2 65.7h0M284.9 76.4h0M527.3 61.6h0M128.5 77.4h0M540.0 61.6h0M178.6 52.2h0M621.2 82.1h0M604.8 82.5h0M240.2 96.2h0M128.7 81.5h0M672.0 75.5h0M290.1 76.5h0M543.9 64.3h0M576.6 83.5h0M636.6 89.0h0M556.8 91.6h0M652.0 79.1h0M300.2 75.3h0M191.7 43.3h0M657.7 78.5h0M258.6 96.6h0M129.0 64.5h0M144.4 79.8h0M401.6 85.9h0M416.8 52.2h0M316.7 77.5h0M258.0 96.0h0M269.8 39.1h0M432.6 44.9h0M637.1 91.2h0M252.5 92.3h0M636.8 84.0h0M673.5 83.8h0M124.8 69.9h0M464.4 70.8h0M208.2 74.0h0M656.2 79.7h0M143.6 93.5h0M189.6 49.8h0M365.5 94.3h0M130.8 72.1h0M208.1 78.9h0M284.2 77.7h0M285.8 70.5h0M619.3 77.0h0M269.5 45.3h0M604.3 81.2h0M271.7 42.4h0M175.4 49.2h0M635.6 88.8h0M92.4 42.0h0M82.8 67.9h0M78.7 71.8h0M416.4 52.8h0M97.3 43.2h0M527.3 68.4h0M177.5 40.9h0M97.8 47.7h0M542.7 56.6h0M543.2 68.8h0M109.6 72.7h0M142.0 91.8h0M255.5 94.5h0M255.6 97.5h0M620.5 83.8h0M369.3 90.8h0M273.8 44.2h0M175.9 50.6h0M592.8 100.6h0M350.7 77.7h0M543.9 65.7h0M545.8 67.6h0M302.8 78.6h0M64.6 68.6h0M620.3 89.0h0M353.3 73.1h0M605.8 87.2h0M619.2 91.5h0M653.4 69.3h0M701.0 79.8h0M685.2 93.5h0M400.3 84.4h0M496.0 70.0h0M289.9 78.4h0M559.6 88.0h0M385.7 90.1h0M34.3 90.6h0M131.0 77.4h0M701.4 62.1h0M318.0 71.2h0M126.4 83.0h0M114.8 72.2h0M141.0 84.6h0M370.5 91.4h0M62.8 69.9h0M624.3 85.0h0M656.5 79.8h0M414.0 47.5h0M508.9 27.3h0M98.9 42.9h0M494.5 67.5h0M477.6 65.9h0M206.5 79.9h0M322.2 74.2h0M367.8 83.6h0M111.4 61.3h0M80.0 69.5h0M416.7 49.3h0M672.0 68.3h0M528.5 62.8h0M142.7 89.2h0M95.5 28.2h0M385.7 85.5h0M655.0 68.5h0M317.5 78.8h0M140.5 89.5h0M336.4 68.8h0M635.7 77.3h0M529.1 65.1h0M130.4 87.0h0M333.7 78.7h0M623.7 88.0h0M381.3 82.0h0M668.9 80.2h0M589.9 82.5h0M158.4 78.0h0M333.0 65.9h0M65.5 75.4h0M322.1 74.5h0M606.9 62.9h0M686.1 76.5h0M270.6 52.1h0M651.6 83.9h0M114.4 68.1h0M158.9 83.7h0M286.0 71.3h0M97.8 40.4h0M497.3 73.0h0M511.5 38.1h0M606.0 88.5h0M130.2 91.4h0M561.9 86.5h0M385.7 82.5h0M687.5 86.4h0M416.5 45.9h0M258.2 89.6h0M256.4 100.5h0M527.2 58.9h0M417.9 49.2h0M63.1 71.2h0M274.4 44.9h0M300.7 85.5h0M429.3 41.4h0M143.5 81.9h0M478.4 70.1h0M321.5 71.3h0M60.8 71.6h0M593.4 88.5h0M189.5 50.9h0M173.7 47.8h0M125.2 71.1h0M479.7 62.7h0M545.7 61.6h0M638.6 89.5h0M640.9 79.6h0M384.9 92.4h0M498.0 77.7h0M60.5 68.7h0M496.2 63.4h0M28.9 97.5h0M62.3 72.5h0M335.2 75.2h0M578.2 93.0h0M434.0 52.0h0M381.8 88.8h0M336.5 67.9h0M66.9 72.1h0M380.7 83.0h0M593.4 87.3h0M379.7 87.7h0M209.8 87.1h0M670.9 87.6h0M625.4 79.2h0M110.1 62.6h0M140.2 83.0h0M258.6 97.6h0M49.4 98.2h0M593.6 94.9h0M253.5 97.8h0M412.0 49.8h0M508.8 30.7h0M687.4 84.6h0M639.5 93.3h0M128.6 73.3h0M29.5 103.0h0M140.5 69.6h0M539.3 62.2h0M427.7 53.2h0M557.8 89.2h0M109.0 66.5h0M176.3 55.0h0M253.3 94.3h0M623.0 86.3h0M416.3 44.4h0M655.9 85.8h0M66.7 79.3h0M573.5 92.2h0M432.3 52.9h0M399.5 73.8h0M238.2 91.9h0M334.7 71.0h0M254.9 99.0h0M400.2 83.6h0M460.2 62.1h0M543.2 62.5h0M433.0 47.1h0M402.5 80.8h0M319.6 70.7h0M258.2 91.8h0M699.1 63.4h0M366.4 90.3h0M384.5 88.6h0M62.9 68.8h0M383.1 89.9h0M624.8 86.2h0M287.0 78.0h0M415.1 44.4h0M539.5 64.0h0M79.1 67.9h0M574.3 92.5h0M465.3 65.4h0M380.7 85.0h0M573.5 84.2h0M173.4 39.6h0M605.4 93.7h0M80.7 70.2h0M316.8 74.8h0M241.9 97.5h0M652.4 80.0h0M539.7 65.7h0M207.1 75.4h0M338.0 69.3h0M319.8 70.3h0M588.4 97.6h0M77.5 65.2h0M352.7 73.8h0M401.2 81.6h0M258.3 89.0h0M481.0 62.9h0M398.5 78.6h0M383.0 84.6h0M253.3 93.1h0M544.3 61.4h0M284.4 75.0h0M705.4 83.2h0M239.0 89.6h0M398.2 85.2h0M192.1 46.6h0M77.0 66.6h0M478.8 62.8h0M143.7 75.5h0M98.4 43.4h0M285.0 68.9h0M653.4 78.6h0M251.9 95.8h0M526.3 56.6h0M412.3 50.3h0M50.1 98.5h0M641.2 82.7h0M687.5 83.1h0M256.1 94.6h0M125.4 75.7h0M497.3 69.1h0M221.4 80.1h0M514.1 24.8h0M188.9 47.4h0M95.3 52.5h0M607.7 82.4h0M700.7 68.7h0M125.5 84.3h0M623.3 83.3h0M162.4 83.5h0M61.5 74.8h0M353.1 67.5h0M29.3 97.3h0M704.0 72.2h0M160.5 85.9h0M672.5 76.7h0M172.5 47.6h0M161.0 84.3h0M656.3 76.6h0M495.4 61.0h0M463.0 60.5h0M449.1 62.1h0M45.3 99.7h0M94.4 48.2h0M603.4 84.0h0M209.2 77.3h0M302.7 80.1h0M608.4 89.2h0M96.0 42.0h0M28.2 100.1h0M512.9 21.3h0M206.2 80.8h0M608.3 82.1h0M236.3 98.1h0M639.9 92.1h0M450.4 63.5h0M172.5 38.1h0M670.5 79.7h0M349.7 67.5h0M317.6 75.5h0M529.9 68.1h0M364.7 91.7h0M304.2 80.1h0M476.7 68.0h0M335.5 80.2h0M557.9 89.5h0M685.8 79.3h0M382.2 82.3h0M141.7 82.4h0M352.2 69.6h0M255.6 94.0h0M544.5 67.8h0M109.9 68.3h0M76.8 68.3h0M352.9 74.8h0M77.1 69.0h0M110.8 63.4h0M561.9 84.7h0M401.8 85.1h0M302.7 78.7h0M526.3 65.6h0M284.6 82.8h0M417.0 43.9h0M238.8 94.3h0M529.5 51.8h0M111.0 71.2h0M433.0 52.7h0M172.7 39.9h0M130.7 80.3h0M144.1 86.6h0M97.6 41.1h0M699.1 79.6h0M236.6 94.4h0M158.6 74.9h0M144.4 72.9h0M60.1 75.5h0M562.1 82.5h0M366.2 90.0h0M177.1 38.8h0M493.9 79.7h0M509.6 28.2h0M639.1 94.3h0M140.0 90.4h0M589.7 100.2h0M382.0 86.3h0M575.2 81.0h0M385.4 89.5h0M192.1 51.9h0M33.1 95.3h0M526.6 66.2h0M255.0 92.9h0M61.0 72.3h0M653.8 77.0h0M44.7 97.4h0M98.5 44.3h0M512.1 37.4h0M190.8 45.3h0M687.2 76.9h0M206.2 86.7h0M258.2 99.1h0M285.1 83.4h0M125.6 75.3h0M431.3 49.8h0M685.9 81.1h0M539.8 55.5h0M524.2 57.6h0M462.9 63.1h0M111.6 60.9h0M252.0 91.8h0M192.0 49.9h0M178.4 41.7h0M639.9 85.2h0M190.2 47.7h0M543.3 64.9h0M673.5 68.4h0M574.3 95.9h0M638.3 85.4h0M351.7 72.9h0M334.8 73.5h0M561.2 93.2h0M332.8 69.4h0M207.5 75.9h0M162.3 80.0h0M413.0 54.8h0M524.5 55.5h0M610.1 81.9h0M97.3 43.6h0M222.7 76.1h0M32.9 107.3h0M386.0 95.4h0M97.7 42.7h0M156.6 82.6h0M289.3 84.4h0M556.0 87.1h0M543.3 67.2h0M146.5 84.4h0M333.4 71.7h0M126.2 88.5h0M542.4 60.5h0M207.6 81.3h0M286.0 76.7h0M189.9 50.3h0M288.6 73.4h0M369.3 92.5h0M686.7 84.9h0M124.1 70.1h0M400.2 87.8h0M688.6 79.9h0M194.8 43.7h0M190.7 46.3h0M193.1 48.0h0M268.0 55.1h0M446.2 66.5h0M318.8 79.4h0M687.1 92.5h0M559.0 84.0h0M109.8 66.8h0M382.3 91.5h0M685.5 88.8h0M204.3 79.1h0M512.4 33.0h0M365.3 84.1h0M349.7 77.5h0M29.0 98.1h0M368.6 89.0h0M209.5 87.1h0M385.0 81.7h0M673.4 74.3h0M639.8 88.2h0M589.9 82.5h0M50.7 101.2h0M623.4 76.4h0M604.9 86.5h0M495.3 76.7h0M174.8 47.3h0M640.9 76.3h0M161.9 81.6h0M476.5 65.8h0M98.3 48.7h0M397.7 84.1h0M669.5 70.4h0M285.6 81.0h0M492.3 68.7h0M33.9 102.8h0M509.2 21.1h0M303.5 85.8h0M397.8 85.1h0M497.5 70.2h0M530.0 51.6h0M639.2 86.8h0M285.0 76.3h0M400.9 81.0h0M287.3 77.2h0M477.5 72.2h0M114.6 74.4h0M158.7 81.5h0M174.7 42.9h0M461.7 65.5h0M221.5 84.0h0M223.4 82.8h0M287.8 73.1h0M337.6 78.4h0M448.5 66.6h0M333.8 73.2h0M62.9 75.6h0M497.2 70.5h0M111.5 57.0h0M705.9 74.0h0M305.8 81.4h0M445.9 62.9h0M623.9 72.5h0M524.3 61.2h0M542.5 56.3h0M558.2 88.0h0M413.2 54.1h0M140.0 85.1h0M284.4 73.1h0M513.0 39.9h0M526.2 59.5h0M113.1 65.8h0M349.6 85.7h0M578.2 91.3h0M560.5 78.1h0M320.4 68.8h0M399.3 85.3h0M460.1 63.0h0M82.8 67.7h0M320.1 75.8h0M609.0 87.5h0M624.9 73.8h0M351.9 77.0h0M156.8 82.2h0M609.2 86.3h0M464.5 60.3h0M315.8 80.1h0M463.5 60.1h0M620.6 90.4h0M61.6 73.2h0M226.6 80.0h0M429.1 51.4h0M700.2 73.3h0M128.2 81.4h0M398.4 88.1h0M557.7 82.7h0M242.6 91.6h0M258.4 91.3h0M63.8 76.4h0M543.4 64.9h0M365.9 94.2h0M448.6 66.0h0M652.1 84.2h0M684.8 81.9h0M384.0 84.1h0M206.1 84.9h0M625.0 78.4h0M207.3 76.1h0M238.5 93.4h0M671.5 68.5h0M223.5 85.9h0M337.6 72.3h0M497.3 68.0h0M637.3 86.0h0M449.9 60.1h0M370.3 93.0h0M192.4 45.5h0M257.8 100.6h0M162.6 64.8h0M44.9 100.9h0M576.7 86.6h0M338.0 77.8h0M367.2 89.6h0M31.9 93.9h0M572.8 96.2h0M429.8 45.1h0M416.9 54.5h0M317.5 81.5h0M445.6 67.2h0M448.2 51.7h0M591.2 88.0h0M347.7 71.8h0M92.5 44.1h0M272.5 49.4h0M444.3 62.5h0M496.0 82.1h0M320.4 79.5h0M699.7 79.7h0M555.8 93.1h0M705.6 70.0h0M654.7 73.3h0M655.0 75.2h0M395.6 87.7h0M176.3 50.4h0M400.6 77.5h0M242.6 88.0h0M571.8 81.0h0M191.7 43.4h0M400.2 80.7h0M415.4 44.5h0M290.1 76.2h0M689.7 99.0h0M621.9 86.8h0M126.2 79.2h0M173.1 51.1h0M386.5 86.3h0M607.4 80.7h0M668.3 86.5h0M526.2 60.0h0M80.5 70.8h0M555.9 82.5h0M34.3 95.6h0M62.1 73.2h0M529.6 57.7h0M95.2 48.0h0M672.9 85.5h0M686.2 87.2h0M207.8 77.9h0M705.2 59.3h0M528.6 59.8h0M31.6 98.5h0M477.8 61.6h0M668.8 76.1h0M111.8 45.5h0M683.4 84.7h0M465.4 64.8h0M482.1 60.0h0M589.1 104.9h0M413.3 45.4h0M191.9 50.3h0M558.7 92.6h0M367.1 90.7h0M223.8 90.4h0M111.5 63.0h0M317.8 79.2h0M461.0 65.1h0M481.7 66.6h0M480.6 66.3h0M589.5 90.3h0M497.2 76.3h0M603.5 80.9h0M45.8 105.9h0M80.0 66.8h0M398.2 87.9h0M300.3 71.5h0M605.0 90.3h0M417.2 51.7h0M514.3 36.3h0M31.1 95.8h0M140.3 74.2h0M609.5 76.8h0M30.9 96.9h0M257.5 95.7h0M332.4 80.9h0M589.9 102.1h0M350.7 68.1h0M269.1 47.8h0M477.9 66.0h0M684.8 85.4h0M304.0 76.7h0M128.2 63.1h0M28.9 103.7h0M46.6 104.1h0M48.8 102.1h0M511.4 29.7h0M482.1 72.7h0M77.2 66.3h0M269.4 51.1h0M510.3 26.7h0M635.2 93.3h0M226.1 77.7h0M157.8 88.9h0M112.7 73.2h0M172.0 44.7h0M50.2 99.0h0M82.6 70.9h0M112.2 68.6h0M386.2 88.0h0M703.8 89.6h0M477.3 66.0h0M125.2 83.7h0M34.8 92.7h0M652.9 76.1h0M257.3 94.4h0M238.3 90.0h0M574.6 87.0h0M80.5 68.1h0M140.7 87.5h0M399.3 81.4h0M336.4 72.6h0M161.0 81.6h0M209.8 78.6h0M401.4 82.7h0M417.5 47.2h0M317.2 78.6h0M77.3 71.4h0M444.9 67.2h0M142.3 76.4h0M353.7 67.5h0M223.3 84.7h0M539.8 52.6h0M383.2 85.6h0M289.1 72.1h0M572.0 89.5h0M576.1 87.2h0M306.0 70.7h0M385.1 79.5h0M592.9 100.1h0M460.3 65.0h0M527.5 51.7h0M686.0 86.4h0M30.7 97.9h0M335.3 75.5h0M192.5 52.9h0M98.6 35.9h0M685.2 86.4h0M636.6 89.8h0M621.1 79.9h0M208.9 81.2h0M399.0 84.7h0M109.5 67.1h0M366.9 92.2h0M44.6 92.2h0M46.0 98.9h0M190.8 46.2h0M396.3 72.8h0M50.6 95.3h0M607.7 84.2h0M205.3 88.5h0M206.3 79.1h0M545.3 58.7h0M508.3 35.8h0M606.7 95.5h0M81.3 63.6h0M333.9 65.4h0M636.9 89.5h0M498.1 61.8h0M112.7 65.9h0M673.3 83.9h0M683.6 91.6h0M401.8 82.9h0M114.3 67.0h0M365.8 87.4h0M397.5 82.6h0M93.9 38.9h0M94.7 44.8h0M242.7 86.7h0M66.1 65.8h0M98.6 40.1h0M703.3 77.7h0M672.5 69.5h0M238.6 96.6h0M700.2 80.3h0M290.3 73.5h0M434.1 45.7h0M702.1 71.5h0M672.1 81.1h0M242.2 93.4h0M700.8 74.9h0M338.4 81.6h0M174.7 38.9h0M609.7 89.7h0M413.5 49.0h0M174.6 47.3h0M702.0 74.3h0M412.1 53.3h0M93.6 35.2h0M543.1 62.8h0M241.7 87.0h0M640.6 83.9h0M508.0 36.4h0M477.5 69.3h0M444.0 54.3h0M190.2 41.3h0M657.8 79.9h0M413.8 46.9h0M479.9 64.5h0M497.8 71.7h0M475.9 66.1h0M572.7 90.1h0M558.4 76.2h0M172.5 46.7h0M445.7 63.4h0M125.3 72.3h0M480.2 58.9h0M350.2 82.4h0M268.0 48.9h0M30.8 98.5h0M572.6 89.4h0M316.4 76.1h0M428.6 50.4h0M220.5 86.9h0M206.7 81.0h0M480.9 62.2h0M66.9 71.0h0M331.7 69.3h0M651.1 80.4h0M653.1 76.5h0M108.3 61.1h0M704.6 72.5h0M482.2 68.9h0M379.8 95.1h0M172.0 44.6h0M111.9 73.8h0M685.2 82.7h0M304.6 74.7h0M575.7 88.1h0M268.3 38.5h0M524.6 60.8h0M125.8 77.5h0M447.2 71.8h0M447.9 56.3h0M111.0 65.3h0M301.0 77.4h0M253.1 88.5h0M337.2 76.0h0M686.6 89.7h0M78.7 71.1h0M524.1 60.7h0M98.4 42.3h0M208.7 86.6h0M398.0 87.1h0M352.1 70.0h0M207.5 87.3h0M527.8 52.7h0M431.5 54.8h0M175.9 45.7h0M701.6 70.3h0M594.2 101.0h0M63.3 77.1h0M555.6 92.0h0M701.7 71.8h0M205.7 76.8h0M368.1 83.4h0M383.3 97.9h0M477.3 66.3h0M397.3 82.2h0M194.0 43.2h0M321.3 69.4h0M399.0 81.1h0M301.1 77.9h0M306.3 79.8h0M479.1 61.3h0M527.7 59.0h0M140.6 84.4h0M269.0 37.0h0M397.7 84.3h0M190.1 43.8h0M336.8 70.5h0M418.4 47.3h0M255.4 96.8h0M444.9 56.9h0M337.7 68.7h0M398.1 83.0h0M673.3 80.6h0M63.3 73.8h0M476.3 62.1h0M64.8 75.5h0M588.5 93.4h0M480.3 70.0h0M446.9 66.2h0M543.7 64.1h0M428.8 49.3h0M267.8 41.7h0M461.4 63.9h0M365.4 86.9h0M191.4 48.3h0M108.9 72.9h0M113.5 70.3h0M268.6 35.2h0M512.2 38.2h0M395.8 83.7h0M46.6 92.7h0M669.0 73.9h0M273.8 34.4h0M412.4 45.1h0M364.9 96.8h0M161.8 83.4h0M156.3 81.0h0M401.1 90.1h0M545.2 69.6h0M252.1 99.3h0M129.6 79.1h0M160.2 83.9h0M638.3 81.2h0M414.8 46.5h0M111.8 66.4h0M305.3 70.0h0M33.0 105.0h0M162.5 84.0h0M433.5 47.9h0M289.4 75.4h0M545.7 55.8h0M337.1 71.3h0M82.5 68.5h0M351.6 75.9h0M129.9 64.1h0M142.1 79.9h0M556.7 92.9h0M670.0 77.5h0M204.2 80.1h0M385.6 91.9h0M317.1 69.4h0M414.0 50.1h0M381.6 94.0h0M175.6 47.2h0M143.8 92.9h0M209.3 83.5h0M621.8 78.2h0M433.2 53.8h0M146.7 73.1h0M624.5 78.5h0M349.2 78.8h0M31.4 102.1h0M81.7 71.3h0M655.2 72.9h0M385.9 87.6h0M206.5 78.2h0M65.7 73.6h0M577.6 91.9h0M236.8 96.2h0M527.2 64.0h0M545.5 70.0h0M560.1 90.4h0M703.6 70.7h0M657.6 82.6h0M590.7 84.6h0M413.0 47.4h0M252.6 95.3h0M144.6 92.3h0M610.0 88.2h0M495.0 64.4h0M449.8 58.7h0M161.4 82.5h0M620.0 89.9h0M175.8 54.2h0M625.5 85.8h0M191.8 48.2h0M302.3 76.4h0M481.6 71.0h0M528.8 58.3h0M573.5 90.2h0M654.7 79.8h0M353.1 79.6h0M588.8 97.2h0M431.2 52.6h0M173.1 46.7h0M445.3 59.8h0M348.3 81.1h0M47.5 103.8h0M226.7 83.5h0M652.6 79.7h0M253.2 100.6h0M575.6 84.3h0M673.5 80.0h0M304.1 78.2h0M555.7 84.4h0M46.2 104.4h0M365.2 86.1h0M177.8 41.8h0M225.6 93.0h0M561.5 94.2h0M495.2 72.9h0M268.6 43.6h0M194.5 44.2h0M349.0 73.9h0M587.7 89.5h0M306.4 82.4h0M290.0 77.4h0M703.7 69.5h0M257.6 96.7h0M701.3 82.4h0M257.7 102.0h0M177.9 43.2h0M204.9 84.4h0M240.9 86.4h0M592.1 103.2h0M508.1 29.0h0M496.7 71.1h0M402.1 85.0h0M667.7 81.5h0M177.8 38.0h0M79.1 69.6h0M127.9 79.0h0M254.7 95.3h0M558.5 91.3h0M301.1 68.9h0M513.5 24.9h0M379.8 80.2h0M178.0 50.0h0M160.4 72.6h0M83.1 63.4h0M49.3 99.3h0M257.6 90.8h0M257.6 94.8h0M299.9 74.6h0M126.1 66.7h0M385.3 96.3h0M207.6 79.4h0M29.0 102.8h0M461.9 60.5h0M321.7 75.0h0M428.3 54.3h0M205.8 74.9h0M685.8 92.9h0M575.5 89.2h0M112.3 70.4h0M641.9 89.1h0M415.8 41.7h0M113.6 77.0h0M480.2 63.6h0M319.8 73.8h0M95.1 50.7h0M620.7 75.0h0M30.0 94.2h0M110.0 66.7h0M272.5 45.3h0M353.3 76.3h0M286.7 81.3h0M34.0 101.6h0M539.4 68.1h0M477.4 62.6h0M683.6 82.3h0M557.4 95.3h0M206.8 84.8h0M113.4 69.0h0M447.6 67.8h0M380.5 98.6h0M301.4 69.7h0M494.3 68.0h0M589.8 89.5h0M686.8 92.1h0M239.7 86.0h0M476.4 66.0h0M477.9 59.4h0M587.9 74.9h0M142.6 77.0h0M366.2 93.7h0M511.1 36.6h0M271.0 36.8h0M702.4 73.7h0M318.9 74.3h0M656.2 72.3h0M589.5 99.0h0M258.0 93.3h0M653.9 76.5h0M669.4 72.6h0M385.0 97.2h0M656.5 81.9h0M432.5 50.4h0M460.0 65.6h0M284.5 75.2h0M480.0 63.9h0M192.3 35.3h0M432.6 53.9h0M589.6 96.8h0M352.5 87.2h0M448.4 54.4h0M685.1 73.3h0M257.1 94.4h0M189.5 41.6h0M621.9 83.0h0M62.1 75.5h0M350.4 73.0h0M495.0 71.7h0M172.6 39.9h0M146.7 85.1h0M465.3 67.3h0M33.7 90.1h0M557.8 88.3h0M699.3 78.6h0M381.1 92.2h0M241.5 88.8h0" stroke="#2F9A9A" stroke-width="1.5" stroke-linecap="round" stroke-opacity="0.42" fill="none"/>
<path d="M404.8 79.7h0M673.3 78.9h0M613.6 89.9h0M678.0 77.0h0M695.8 78.3h0M150.0 67.8h0M487.7 67.1h0M706.1 76.7h0M119.7 66.3h0M167.1 87.1h0M499.9 80.4h0M597.2 90.8h0M69.0 71.1h0M358.4 77.7h0M51.8 100.3h0M646.5 87.9h0M471.7 55.9h0M179.7 47.3h0M99.4 49.0h0M690.4 87.1h0M40.7 95.8h0M375.7 97.4h0M440.1 47.2h0M663.4 80.1h0M423.9 45.1h0M182.2 46.3h0M389.7 91.3h0M338.5 79.6h0M323.3 72.4h0M391.7 93.6h0M673.6 72.1h0M599.1 95.2h0M243.0 94.1h0M355.8 72.5h0M613.2 87.2h0M657.9 70.1h0M568.0 87.5h0M551.7 61.9h0M596.7 91.2h0M563.5 84.8h0M423.3 51.1h0M407.5 87.1h0M678.1 84.4h0M340.1 70.9h0M530.7 61.3h0M344.8 73.8h0M706.9 79.4h0M99.2 41.7h0M597.5 84.5h0M322.8 72.2h0M51.1 98.5h0M83.4 70.4h0M610.4 92.8h0M216.4 82.4h0M469.5 62.3h0M420.6 54.4h0M436.3 46.5h0M151.7 91.5h0M183.2 47.0h0M625.7 78.3h0M309.9 74.9h0M134.5 79.1h0M227.8 82.4h0M196.0 37.3h0M709.3 67.8h0M246.4 88.8h0M370.3 93.6h0M583.4 90.0h0M264.0 94.1h0M258.1 94.2h0M355.3 72.4h0M469.4 56.0h0M213.0 82.8h0M376.8 92.9h0M308.7 74.7h0M68.3 65.7h0M581.0 91.8h0M628.9 84.9h0M468.1 65.1h0M520.4 31.7h0M275.8 40.9h0M134.2 74.1h0M663.0 84.1h0M374.2 101.7h0M530.0 57.7h0M84.2 68.8h0M678.2 84.3h0M706.1 64.6h0M216.2 75.2h0M423.8 47.6h0M645.0 86.8h0M341.2 81.1h0M197.5 48.1h0M133.1 76.1h0M450.6 70.1h0M263.4 96.2h0M131.6 89.4h0M226.4 79.0h0M50.5 84.7h0M85.9 73.0h0M629.2 84.7h0M562.6 87.4h0M342.2 66.5h0M482.9 69.7h0M566.7 84.6h0M166.6 86.5h0M356.6 69.8h0M323.0 77.4h0M311.0 75.9h0M580.4 91.0h0M483.3 64.2h0M210.5 69.4h0M642.9 90.6h0M504.3 64.6h0M323.6 74.0h0M468.0 62.0h0M275.8 40.0h0M56.1 99.7h0M389.8 95.8h0M114.8 74.5h0M262.1 96.3h0M66.8 73.6h0M325.1 79.8h0M679.3 78.8h0M386.5 94.3h0M228.0 88.6h0M440.3 46.6h0M274.1 41.7h0M628.6 88.3h0M467.2 67.3h0M117.2 69.1h0M296.4 82.2h0M551.9 66.9h0M710.8 79.1h0M456.4 60.2h0M66.6 75.6h0M86.4 73.5h0M149.9 74.3h0M674.8 79.2h0M196.4 42.3h0M179.4 52.5h0M706.8 69.4h0M178.8 39.3h0M631.8 75.4h0M376.3 96.2h0M648.2 85.5h0M296.6 78.1h0M514.7 37.0h0M39.0 94.9h0M292.1 71.3h0M165.8 84.9h0M531.5 63.9h0M420.6 45.6h0M290.7 74.0h0M375.1 99.2h0M340.2 78.7h0M406.3 83.4h0M372.1 96.8h0M216.7 72.9h0M230.7 80.0h0M691.2 83.8h0M371.7 90.0h0M296.1 80.5h0M630.0 91.2h0M312.7 83.7h0M134.5 77.0h0M119.2 70.0h0M115.1 56.7h0M372.8 91.6h0M99.6 42.5h0M66.9 77.1h0M51.8 100.7h0M360.2 70.7h0M516.9 28.2h0M259.9 90.5h0M115.7 75.6h0M388.3 83.8h0M373.3 92.7h0M405.6 84.3h0M436.0 45.4h0M132.6 68.7h0M599.4 76.2h0M227.3 85.5h0M275.4 50.1h0M500.0 65.2h0M626.3 88.2h0M341.4 71.2h0M502.0 67.6h0M386.5 93.2h0M689.6 85.5h0M710.9 84.7h0M338.8 69.4h0M503.9 71.5h0M54.9 109.9h0M100.6 48.1h0M199.4 52.3h0M484.2 72.4h0M182.9 48.3h0M245.2 86.8h0M324.1 72.1h0M310.1 81.0h0M132.0 72.8h0M210.4 87.0h0M594.5 82.8h0M136.0 83.8h0M485.7 62.5h0M104.2 47.7h0M405.7 77.8h0M708.3 88.6h0M577.5 95.1h0M182.0 45.0h0M306.0 77.9h0M306.9 74.5h0M279.0 43.6h0M549.4 72.4h0M597.1 90.3h0M583.7 89.2h0M211.2 83.0h0M309.9 84.1h0M210.5 82.5h0M387.4 92.5h0M184.0 42.6h0M642.3 90.9h0M391.5 82.6h0M312.4 77.5h0M548.9 67.8h0M132.6 69.2h0M484.6 72.6h0M230.3 83.4h0M388.7 92.2h0M418.3 54.3h0M690.5 87.1h0M226.2 78.6h0M103.5 51.3h0M705.6 75.2h0M456.4 71.5h0M531.1 61.3h0M102.7 49.6h0M470.2 58.8h0M534.0 60.9h0M164.5 78.4h0M231.9 81.6h0M708.1 78.3h0M99.3 45.1h0M438.1 50.2h0M131.8 91.0h0M661.8 88.6h0M311.9 75.5h0M150.6 87.1h0M452.4 72.0h0M306.3 82.9h0M148.8 96.2h0M355.9 77.1h0M216.1 77.4h0M195.3 44.4h0M245.2 91.8h0M274.6 43.1h0M118.8 70.1h0M388.2 85.6h0M279.1 38.9h0M39.9 105.4h0M340.5 71.8h0M566.5 86.2h0M594.7 79.0h0M261.1 93.3h0M470.6 67.6h0M404.5 83.3h0M467.4 66.2h0M276.1 44.2h0M149.4 90.9h0M306.0 83.6h0M308.6 81.4h0M295.9 86.5h0M600.2 86.6h0M163.6 82.4h0M406.8 83.2h0M51.8 88.5h0M280.3 39.8h0M57.2 89.4h0M580.1 86.8h0M163.6 73.7h0M66.8 72.3h0M163.6 80.7h0M376.1 84.5h0M152.4 70.0h0M230.7 87.3h0M120.8 66.5h0M149.8 81.2h0M465.9 64.5h0M534.9 66.5h0M69.2 71.5h0M483.5 63.4h0M628.4 76.4h0M710.2 73.5h0M485.9 75.1h0M226.7 88.9h0M88.6 65.3h0M584.2 97.1h0M184.3 37.7h0M342.2 66.3h0M89.2 66.5h0M100.0 55.8h0M404.7 85.8h0M385.9 87.9h0M150.1 93.2h0M483.4 72.1h0M213.0 75.3h0M549.8 66.0h0M37.7 97.4h0M311.5 83.7h0M676.8 90.8h0M342.5 72.1h0M488.2 56.7h0M675.4 84.9h0M595.5 97.6h0M164.6 97.4h0M66.7 70.4h0M657.3 70.8h0M515.6 32.5h0M312.6 73.4h0M85.8 63.2h0M248.8 101.1h0M38.3 98.0h0M388.2 97.4h0M436.6 48.2h0M41.2 103.9h0M595.1 78.9h0M54.1 99.3h0M516.4 27.6h0M610.9 82.5h0M40.0 104.3h0M232.7 85.4h0M450.2 61.9h0M311.5 79.9h0M115.2 55.3h0M549.8 63.6h0M435.3 50.8h0M101.0 47.0h0M674.1 82.1h0M628.4 84.1h0M435.1 55.3h0M101.9 41.8h0M100.6 42.9h0M610.5 86.8h0M132.6 80.7h0M674.7 83.8h0M84.2 77.9h0M535.1 55.9h0M662.0 71.8h0M434.2 50.7h0M390.5 93.0h0M374.0 94.1h0M324.9 70.0h0M519.1 31.2h0M374.1 97.9h0M260.0 95.5h0M456.3 67.8h0M552.5 63.9h0M200.9 43.1h0M627.2 86.3h0M420.6 53.3h0M344.6 74.4h0M627.2 80.7h0M615.9 83.5h0M497.7 67.8h0M152.1 88.9h0M278.1 39.0h0M51.4 100.8h0M360.1 73.2h0M583.6 97.6h0M436.9 46.0h0M340.9 69.7h0M245.6 91.2h0M214.2 83.9h0M212.1 76.6h0M693.1 82.8h0M566.8 82.5h0M643.3 82.9h0M56.6 95.7h0M660.5 68.4h0M52.1 95.8h0M532.8 53.5h0M482.2 68.5h0M676.1 79.0h0M68.6 78.1h0M705.3 79.6h0M99.7 46.7h0M137.1 75.9h0M472.1 59.5h0M293.2 71.3h0M466.9 57.9h0M450.6 64.3h0M643.7 89.5h0M82.6 74.9h0M357.9 79.4h0M642.1 82.3h0M291.5 78.2h0M642.6 79.4h0M35.9 90.8h0M372.6 88.6h0M674.9 84.6h0M642.1 92.9h0M326.5 69.6h0M372.7 87.2h0M343.4 72.1h0M391.3 87.5h0M103.8 40.6h0M312.3 73.5h0M578.6 93.4h0M259.3 97.5h0M103.8 39.9h0M245.1 86.4h0M548.2 54.4h0M387.1 90.1h0M178.4 39.6h0M242.8 99.2h0M433.7 51.2h0M276.8 42.6h0M178.4 50.2h0M132.3 70.5h0M37.5 102.4h0M114.4 69.5h0M132.3 76.9h0M535.7 67.8h0M249.0 91.6h0M136.6 84.3h0M536.0 57.7h0M275.2 43.3h0M131.2 76.0h0M659.8 74.6h0M710.1 75.1h0M198.9 46.0h0M261.5 93.9h0M340.2 68.8h0M38.9 97.1h0M500.4 78.8h0M517.1 32.1h0M405.7 91.4h0M434.8 52.4h0M404.1 83.6h0M196.0 48.4h0M278.6 37.4h0M71.6 69.5h0M405.8 83.5h0M514.8 31.3h0M247.7 94.5h0M259.8 91.7h0M695.5 85.9h0M472.0 61.5h0M705.6 84.0h0M468.9 69.6h0M389.9 85.1h0M278.2 43.9h0M388.5 98.8h0M663.2 70.0h0M150.3 75.5h0M436.7 49.5h0M243.9 86.7h0M499.4 73.4h0M467.9 58.5h0M694.0 85.2h0M644.6 77.6h0M133.1 70.6h0M167.5 81.3h0M150.6 84.5h0M674.2 76.5h0M584.2 84.9h0M629.6 82.3h0M184.8 47.8h0M166.8 89.7h0M82.8 69.0h0M247.9 98.8h0M354.1 78.3h0M549.3 60.6h0M198.0 48.0h0M307.8 72.3h0M692.7 87.1h0M467.0 64.6h0M615.5 92.4h0M552.3 59.9h0M437.5 48.8h0M644.3 93.3h0M277.6 44.1h0M598.2 74.6h0M562.5 86.9h0M247.6 94.6h0M678.7 74.9h0M324.2 73.4h0M278.4 40.8h0M548.8 59.0h0M548.0 62.9h0M292.3 74.4h0M437.4 51.5h0M690.7 73.2h0M328.3 79.3h0M131.4 68.2h0M578.8 89.6h0M374.5 82.8h0M232.3 73.3h0M246.1 93.3h0M356.9 75.5h0M488.3 61.5h0M168.0 90.9h0M674.7 76.8h0M151.0 84.7h0M323.5 72.9h0M531.9 70.0h0M583.6 92.5h0M598.4 93.8h0M66.6 72.3h0M244.9 95.7h0M487.5 70.1h0M104.4 44.0h0M405.9 87.5h0M614.3 82.6h0M708.6 71.3h0M565.2 85.4h0M629.6 83.1h0M663.0 81.6h0M709.4 69.0h0M163.9 94.7h0M582.2 86.2h0M70.7 69.5h0M453.1 65.4h0M295.8 81.0h0M115.0 64.1h0M180.1 39.9h0M262.9 97.8h0M533.2 61.0h0M453.0 65.3h0M114.4 70.8h0M40.8 91.0h0M566.7 92.8h0M54.7 104.0h0M705.3 83.4h0M226.5 85.3h0M468.9 69.9h0M502.3 84.7h0M488.4 64.7h0M565.6 91.1h0M563.6 85.8h0M291.3 78.6h0M373.9 87.8h0M456.6 60.4h0M499.5 63.5h0M644.0 84.5h0M307.2 79.7h0M471.5 57.7h0M72.0 73.0h0M658.6 68.1h0M344.6 75.2h0M677.0 76.7h0M420.3 49.2h0M420.1 50.9h0M84.8 71.2h0M437.0 47.4h0M503.4 71.9h0M231.6 91.6h0M705.3 76.4h0M408.7 83.7h0M709.0 81.8h0M503.6 77.3h0M690.8 80.3h0M449.9 56.8h0M290.3 83.7h0M486.2 66.1h0M500.8 69.1h0M563.8 95.3h0M581.8 85.2h0M454.1 71.6h0M674.9 82.7h0M643.5 87.0h0M390.4 88.8h0M453.4 63.0h0M307.2 80.4h0M567.8 89.9h0M663.0 70.5h0M660.3 79.9h0M647.0 87.9h0M423.3 44.4h0M470.6 56.6h0M470.4 56.1h0M597.0 78.9h0M536.5 60.5h0M470.4 62.7h0M440.0 46.4h0M103.5 40.8h0M628.4 89.5h0M498.8 82.0h0M216.5 74.4h0M550.4 61.1h0M597.8 81.6h0M194.2 48.9h0M454.7 63.6h0M295.6 80.2h0M197.5 42.3h0M660.2 77.8h0M232.3 85.9h0M615.5 92.6h0M402.6 78.8h0M472.1 70.1h0M370.3 89.9h0M483.9 71.7h0M612.5 79.7h0M486.1 62.6h0M423.2 52.8h0M214.0 74.5h0M597.0 93.9h0M564.5 81.1h0M167.5 93.2h0M628.8 77.2h0M551.0 64.2h0M451.6 70.1h0M680.3 71.4h0M310.7 73.6h0M357.1 77.8h0M370.5 88.8h0M38.2 101.6h0M247.0 92.5h0M631.6 78.7h0M323.5 76.3h0M628.7 83.1h0M354.4 69.9h0M356.0 76.7h0M69.7 72.7h0M292.9 86.9h0M130.3 74.7h0M152.6 86.2h0M675.1 80.4h0M307.1 81.6h0M612.6 75.2h0M422.4 47.7h0M484.9 70.2h0M662.3 73.9h0M600.1 97.0h0M418.4 53.9h0M358.8 74.6h0M195.6 42.2h0M278.9 43.5h0M263.1 96.5h0M276.3 41.5h0M214.2 82.6h0M53.8 97.5h0M565.2 88.9h0M278.7 39.7h0M373.6 96.5h0M596.3 89.6h0M424.3 46.4h0M149.3 72.0h0M86.2 77.4h0M513.7 34.6h0M296.1 78.2h0M418.7 46.9h0M499.8 76.9h0M482.4 69.6h0M548.5 60.7h0M181.7 45.6h0M179.2 41.3h0M599.1 81.0h0M103.5 49.4h0M643.9 87.3h0M295.6 85.9h0M230.5 86.8h0M453.9 58.2h0M325.5 71.0h0M630.1 80.9h0M630.3 80.4h0M631.9 74.9h0M679.0 76.0h0M658.2 79.1h0M518.1 35.6h0M296.9 83.9h0M627.6 79.4h0M40.7 94.7h0M533.8 57.1h0M210.4 78.9h0M531.9 58.2h0M275.9 43.2h0M598.7 89.6h0M307.0 81.4h0M675.3 79.1h0M324.2 76.7h0M309.0 79.4h0M183.8 53.6h0M387.7 92.2h0M375.7 92.1h0M690.7 84.0h0M642.4 84.2h0M325.3 71.2h0M451.1 65.0h0M231.7 91.3h0M295.7 78.4h0M211.5 73.3h0M405.2 85.4h0M450.2 60.3h0M151.9 84.5h0M339.7 67.8h0M68.8 69.6h0M37.9 113.7h0M532.0 62.1h0M101.0 29.9h0M599.0 73.8h0M581.6 85.2h0M137.2 73.9h0M309.3 74.6h0M167.0 85.4h0M661.0 76.2h0M551.2 67.3h0M422.9 51.6h0M178.5 45.3h0M180.9 40.6h0M612.6 96.8h0M705.9 78.4h0M296.1 85.7h0M37.2 89.2h0M435.4 55.1h0M359.7 74.5h0M339.4 74.1h0M531.3 57.8h0M643.7 82.3h0M215.0 79.3h0M165.2 72.8h0M323.1 76.9h0M247.1 97.5h0M85.3 67.8h0M579.5 91.2h0M625.4 79.0h0M213.3 78.3h0M120.0 70.8h0M646.3 80.6h0M675.1 73.8h0M259.0 96.3h0M152.2 77.9h0M355.4 78.2h0M386.0 89.8h0M404.7 76.3h0M690.9 82.2h0M152.5 89.5h0M359.9 74.9h0M103.0 53.2h0M99.4 37.3h0M581.1 91.6h0M184.3 50.6h0M243.4 91.5h0M195.2 42.8h0M87.7 75.3h0M358.5 77.1h0M246.5 95.8h0M515.5 32.5h0M247.3 96.8h0M530.9 61.9h0M325.4 76.7h0M403.9 85.0h0M114.5 58.7h0M53.6 91.2h0M194.4 54.2h0M41.3 101.7h0M625.6 89.8h0M708.4 70.4h0M372.2 89.6h0M54.8 106.8h0M469.7 55.6h0M708.1 70.0h0M324.7 68.8h0M568.1 85.5h0M339.3 81.2h0M339.5 79.0h0M470.4 68.3h0M518.9 31.4h0M502.0 72.0h0M614.5 84.6h0M136.1 75.6h0M519.2 24.2h0M578.6 91.3h0M52.1 89.0h0M661.4 73.1h0" stroke="#D8456A" stroke-width="1.5" stroke-linecap="round" stroke-opacity="0.42" fill="none"/>
<path d="M159.08 51.00V50.00H165.48V51.00" stroke="#111" stroke-width="1" fill="none"/>
<text x="162.28" y="46.90" font-size="12.3" font-weight="bold" fill="#111" text-anchor="middle">*</text>
<path d="M366.71 68.60V67.60H373.11V68.60" stroke="#111" stroke-width="1" fill="none"/>
<text x="369.91" y="64.50" font-size="12.3" font-weight="bold" fill="#111" text-anchor="middle">*</text>
<path d="M494.49 47.20V46.20H500.89V47.20" stroke="#111" stroke-width="1" fill="none"/>
<text x="497.69" y="43.10" font-size="12.3" font-weight="bold" fill="#111" text-anchor="middle">*</text>
<path d="M670.18 56.20V55.20H676.58V56.20" stroke="#111" stroke-width="1" fill="none"/>
<text x="673.38" y="52.10" font-size="12.3" font-weight="bold" fill="#111" text-anchor="middle">*</text>
<rect x="25.0" y="123.02" width="690.00" height="115.75" fill="#EBEBEB"/>
<rect x="25.0" y="123.02" width="690.00" height="11.65" fill="#D9D9D9"/>
<text x="370.00" y="131.72" font-size="6.2" fill="#1A1A1A" text-anchor="middle">Females</text>
<path d="M25.0 221.34H715.0M25.0 199.34H715.0M25.0 177.34H715.0M25.0 155.34H715.0" stroke="#fff" stroke-width="0.4" stroke-opacity="0.9" fill="none"/>
<path d="M25.0 232.34H715.0M25.0 210.34H715.0M25.0 188.34H715.0M25.0 166.34H715.0M25.0 144.34H715.0M34.50 134.67V238.77M50.47 134.67V238.77M66.44 134.67V238.77M82.42 134.67V238.77M98.39 134.67V238.77M114.36 134.67V238.77M130.33 134.67V238.77M146.30 134.67V238.77M162.28 134.67V238.77M178.25 134.67V238.77M194.22 134.67V238.77M210.19 134.67V238.77M226.16 134.67V238.77M242.14 134.67V238.77M258.11 134.67V238.77M274.08 134.67V238.77M290.05 134.67V238.77M306.02 134.67V238.77M322.00 134.67V238.77M337.97 134.67V238.77M353.94 134.67V238.77M369.91 134.67V238.77M385.88 134.67V238.77M401.86 134.67V238.77M417.83 134.67V238.77M433.80 134.67V238.77M449.77 134.67V238.77M465.74 134.67V238.77M481.72 134.67V238.77M497.69 134.67V238.77M513.66 134.67V238.77M529.63 134.67V238.77M545.60 134.67V238.77M561.58 134.67V238.77M577.55 134.67V238.77M593.52 134.67V238.77M609.49 134.67V238.77M625.46 134.67V238.77M641.44 134.67V238.77M657.41 134.67V238.77M673.38 134.67V238.77M689.35 134.67V238.77M705.32 134.67V238.77" stroke="#fff" stroke-width="0.68" fill="none"/>
<text x="21.40" y="234.94" font-size="6.3" fill="#4D4D4D" text-anchor="end">0.4</text>
<text x="21.40" y="212.94" font-size="6.3" fill="#4D4D4D" text-anchor="end">0.5</text>
<text x="21.40" y="190.94" font-size="6.3" fill="#4D4D4D" text-anchor="end">0.6</text>
<text x="21.40" y="168.94" font-size="6.3" fill="#4D4D4D" text-anchor="end">0.7</text>
<text x="21.40" y="146.94" font-size="6.3" fill="#4D4D4D" text-anchor="end">0.8</text>
<path d="M23.20 232.34H25.0M23.20 210.34H25.0M23.20 188.34H25.0M23.20 166.34H25.0M23.20 144.34H25.0" stroke="#333" stroke-width="0.7" fill="none"/>
<path d="M31.70 207.70V214.30M31.70 221.45V226.51M47.67 199.78V212.76M47.67 222.88V226.51M63.64 183.94V189.44M63.64 195.82V199.78M79.62 181.74V186.14M79.62 193.73V199.78M95.59 148.52V160.40M95.59 168.76V170.08M111.56 174.48V182.40M111.56 193.95V197.58M127.53 185.92V193.84M127.53 202.53V212.54M143.50 186.58V198.24M143.50 207.59V214.08M159.48 181.52V193.84M159.48 203.96V212.65M175.45 156.44V162.93M175.45 169.86V177.34M191.42 157.87V162.93M191.42 167.22V171.62M207.39 189.44V196.04M207.39 204.62V209.68M223.36 194.06V197.80M223.36 207.04V214.96M239.34 204.84V209.90M239.34 216.28V220.02M255.31 208.36V212.10M255.31 217.82V220.02M271.28 152.92V160.84M271.28 166.56V171.62M287.25 194.72V199.01M287.25 204.84V209.13M303.22 191.75V197.58M303.22 202.64V206.93M319.20 190.98V193.18M319.20 198.90V201.87M335.17 185.26V189.66M335.17 196.04V198.90M351.14 188.12V189.66M351.14 198.24V203.96M367.11 198.24V207.70M367.11 214.08V217.82M383.08 198.24V206.91M383.08 213.42V217.82M399.06 193.18V201.10M399.06 207.70V213.42M415.03 162.38V167.44M415.03 172.50V176.90M431.00 163.92V168.19M431.00 173.25V174.70M446.97 171.07V177.56M446.97 184.07V191.29M462.94 175.40V179.01M462.94 184.82V189.11M478.92 179.76V182.62M478.92 187.68V191.29M494.89 180.42V187.02M494.89 193.44V197.14M510.86 139.94V147.86M510.86 154.35V157.23M526.83 168.10V176.72M526.83 183.94V188.12M542.80 173.16V179.61M542.80 186.14V190.32M558.78 198.90V204.40M558.78 211.88V215.51M574.75 203.30V208.36M574.75 214.74V218.48M590.72 197.47V203.96M590.72 213.35V225.61M606.69 195.38V204.69M606.69 212.63V220.57M622.66 192.63V198.90M622.66 204.18V208.58M638.64 195.60V201.98M638.64 208.58V209.94M654.61 189.75V194.06M654.61 201.32V206.38M670.58 188.34V194.79M670.58 200.57V203.45M686.55 181.74V199.12M686.55 211.44V217.16M702.52 176.02V187.57M702.52 198.39V211.44" stroke="#1C6C79" stroke-width="0.8" fill="none"/>
<path d="M37.90 214.30V214.30M37.90 221.45V225.08M53.87 210.56V212.76M53.87 219.36V221.34M69.84 184.60V189.66M69.84 194.72V201.32M85.82 187.46V188.56M85.82 193.29V194.06M101.79 160.73V162.16M101.79 167.88V172.94M117.76 172.94V184.60M117.76 196.04V204.84M133.73 193.84V197.47M133.73 205.39V211.22M149.70 193.18V197.47M149.70 214.08V219.14M165.68 188.12V201.76M165.68 211.88V218.48M181.65 162.93V165.02M181.65 170.52V175.14M197.62 157.10V161.50M197.62 169.42V175.91M213.59 196.04V200.44M213.59 207.59V209.02M229.56 204.07V204.07M229.56 210.34V211.22M245.54 204.07V210.56M245.54 215.62V221.34M261.51 212.76V214.19M261.51 217.82V220.68M277.48 157.98V161.28M277.48 166.19V166.56M293.45 193.18V198.68M293.45 205.50V209.90M309.42 193.84V195.38M309.42 202.64V206.16M325.40 191.75V194.72M325.40 200.44V202.64M341.37 188.12V190.32M341.37 196.81V201.87M357.34 188.12V191.75M357.34 197.58V199.78M373.31 200.44V207.70M373.31 218.48V220.68M389.28 202.64V209.02M389.28 217.73V217.82M405.26 197.14V201.39M405.26 207.15V210.34M421.23 164.58V167.44M421.23 173.60V178.29M437.20 165.24V169.64M437.20 174.70V176.90M453.17 174.70V178.29M453.17 187.68V189.88M469.14 176.13V179.76M469.14 189.11V191.99M485.12 176.13V181.61M485.12 188.41V192.74M501.09 184.07V185.50M501.09 199.23V205.72M517.06 142.80V149.29M517.06 155.78V160.84M533.03 171.66V176.02M533.03 185.39V190.32M549.00 172.39V176.72M549.00 187.35V190.32M564.98 198.24V205.41M564.98 212.63V219.84M580.95 206.16V209.75M580.95 216.24V217.67M596.92 197.47V201.10M596.92 209.02V221.34M612.89 192.41V201.10M612.89 208.29V218.39M628.86 193.40V202.73M628.86 209.94V211.44M644.84 194.79V204.91M644.84 211.44V212.85M660.81 187.57V190.45M660.81 204.18V207.79M676.78 192.63V196.26M676.78 209.24V209.24M692.75 194.79V199.85M692.75 215.00V218.04M708.72 178.22V190.45M708.72 199.12V208.51" stroke="#871828" stroke-width="0.8" fill="none"/>
<path d="M529.1 178.4h0M304.1 191.9h0M61.6 195.9h0M509.2 151.4h0M269.0 165.5h0M526.7 182.4h0M159.7 205.5h0M317.9 194.7h0M416.2 168.7h0M130.4 196.0h0M511.6 149.2h0M146.5 200.2h0M173.9 162.2h0M128.8 192.6h0M353.2 202.4h0M412.7 167.8h0M31.7 218.4h0M161.7 211.4h0M620.3 200.2h0M271.5 143.5h0M97.6 163.7h0M416.6 171.8h0M446.4 184.0h0M493.1 186.3h0M383.3 203.2h0M464.3 180.5h0M495.2 196.4h0M638.7 203.9h0M127.7 205.7h0M588.2 207.8h0M619.4 197.8h0M433.5 167.4h0M626.1 203.6h0M50.2 204.6h0M385.9 207.6h0M239.9 206.8h0M237.1 215.7h0M192.4 167.0h0M256.7 215.5h0M365.9 204.6h0M288.1 201.8h0M576.7 215.4h0M639.6 207.9h0M284.0 202.9h0M241.5 210.2h0M636.2 204.1h0M271.9 161.9h0M178.3 166.3h0M683.8 210.2h0M416.4 164.3h0M319.2 195.5h0M190.0 158.8h0M652.5 195.4h0M576.0 208.8h0M48.3 210.4h0M545.3 178.2h0M348.5 193.5h0M50.6 205.6h0M654.7 191.3h0M193.3 165.0h0M540.5 185.8h0M302.3 204.4h0M128.7 199.7h0M157.9 196.8h0M77.7 198.4h0M606.0 215.6h0M399.8 205.2h0M656.6 204.1h0M400.8 209.9h0M257.7 215.9h0M590.3 216.9h0M446.0 184.3h0M176.7 165.8h0M412.0 170.9h0M370.3 206.8h0M219.9 198.5h0M94.3 159.3h0M175.7 170.7h0M194.4 164.1h0M432.3 171.7h0M670.6 197.6h0M513.0 146.2h0M636.0 202.1h0M475.9 185.8h0M493.6 182.9h0M702.7 187.4h0M142.2 211.9h0M28.8 221.3h0M225.3 196.6h0M443.8 183.1h0M701.2 188.0h0M350.9 199.7h0M493.8 189.1h0M497.1 186.2h0M396.9 199.8h0M684.7 196.1h0M652.4 204.3h0M319.8 199.6h0M508.1 152.3h0M428.5 171.8h0M146.4 195.2h0M465.9 176.6h0M513.3 148.8h0M177.6 175.6h0M365.2 213.3h0M574.3 217.8h0M270.0 169.9h0M446.7 179.0h0M94.3 154.2h0M430.2 173.1h0M524.2 185.6h0M590.3 186.6h0M429.5 169.8h0M428.9 168.7h0M624.1 200.7h0M46.0 222.3h0M412.0 169.0h0M335.2 187.1h0M365.8 206.1h0M464.2 182.4h0M639.2 206.9h0M321.9 195.7h0M587.5 209.6h0M205.4 197.8h0M492.8 187.1h0M653.5 202.7h0M110.7 180.3h0M241.6 213.3h0M210.2 204.4h0M514.2 151.4h0M655.7 195.7h0M319.6 195.0h0M543.0 178.4h0M574.1 204.6h0M62.0 191.1h0M465.9 183.0h0M685.9 215.5h0M592.6 215.9h0M427.5 169.2h0M51.1 218.9h0M382.5 205.4h0M446.7 187.3h0M254.0 213.6h0M412.5 174.6h0M509.3 156.3h0M401.5 208.4h0M507.5 151.1h0M222.8 198.6h0M641.8 198.2h0M481.2 183.0h0M289.8 200.3h0M416.0 169.4h0M352.4 191.9h0M610.1 207.6h0M415.5 164.8h0M462.8 185.5h0M320.4 198.3h0M172.5 162.2h0M240.1 208.4h0M448.9 175.6h0M207.6 191.6h0M128.5 190.9h0M173.3 165.1h0M576.5 213.9h0M31.5 218.4h0M109.7 187.2h0M130.1 196.0h0M224.7 204.5h0M654.7 198.0h0M189.2 169.2h0M475.5 187.5h0M686.1 204.6h0M242.3 219.0h0M541.3 187.4h0M45.0 218.0h0M238.6 210.2h0M508.0 151.9h0M178.1 169.2h0M61.5 194.8h0M241.9 213.1h0M544.0 184.5h0M412.2 167.3h0M590.5 211.6h0M461.9 186.0h0M337.5 193.9h0M241.0 210.6h0M481.8 186.6h0M124.7 206.7h0M192.1 158.9h0M703.1 188.3h0M557.3 206.0h0M509.7 147.8h0M556.7 203.0h0M365.7 213.7h0M363.8 209.7h0M459.9 183.3h0M111.8 191.0h0M160.6 197.5h0M351.6 192.3h0M685.3 204.7h0M476.3 187.6h0M286.4 200.4h0M397.3 209.5h0M49.4 206.0h0M177.0 172.0h0M576.8 207.6h0M446.0 183.1h0M129.8 208.5h0M77.5 191.3h0M574.6 209.6h0M702.5 196.0h0M639.5 201.5h0M444.4 182.9h0M143.0 194.9h0M301.0 201.3h0M268.8 169.0h0M109.3 191.9h0M97.0 163.0h0M447.8 183.5h0M653.2 198.4h0M636.0 203.8h0M80.3 194.0h0M526.8 176.6h0M157.9 199.1h0M526.2 186.4h0M335.4 186.7h0M543.8 178.3h0M252.1 218.1h0M145.7 195.8h0M444.7 183.0h0M30.5 214.0h0M124.2 193.7h0M669.8 198.3h0M402.1 201.5h0M208.9 206.6h0M207.9 202.3h0M478.0 188.5h0M445.2 176.1h0M498.3 186.2h0M508.0 154.7h0M348.3 196.0h0M513.5 146.1h0M125.7 198.6h0M129.7 193.4h0M445.1 184.5h0M272.3 169.1h0M271.2 170.1h0M385.6 208.7h0M318.4 196.0h0M45.4 224.2h0M417.6 168.1h0M480.6 180.0h0M352.8 197.7h0M349.2 191.8h0M604.1 216.5h0M113.5 177.6h0M254.9 211.6h0M92.5 157.9h0M65.3 189.0h0M190.7 161.2h0M701.3 193.2h0M621.9 199.9h0M114.0 188.9h0M623.7 198.0h0M96.8 168.4h0M463.6 181.1h0M130.5 190.6h0M237.6 210.8h0M562.0 210.2h0M475.9 183.4h0M589.3 212.5h0M418.1 173.9h0M46.1 218.4h0M96.4 155.4h0M112.3 179.0h0M128.8 208.6h0M270.6 163.5h0M459.7 186.8h0M386.4 200.9h0M140.2 207.3h0M284.7 199.7h0M240.9 218.6h0M701.6 205.3h0M125.9 200.3h0M338.1 192.3h0M589.5 217.4h0M270.2 164.7h0M320.1 197.1h0M625.9 196.0h0M557.0 202.3h0M417.9 166.9h0M668.1 196.3h0M703.5 202.7h0M238.4 213.9h0M481.8 190.7h0M593.8 215.9h0M380.9 217.4h0M162.1 201.2h0M684.3 216.5h0M588.0 202.8h0M48.3 213.8h0M540.7 182.2h0M493.2 189.4h0M94.2 157.2h0M528.8 173.8h0M654.1 198.2h0M162.6 196.3h0M252.9 210.4h0M398.3 205.3h0M348.7 194.3h0M475.9 185.8h0M703.2 186.3h0M173.3 172.1h0M305.5 198.9h0M413.6 175.2h0M655.2 200.3h0M306.3 201.6h0M578.1 211.5h0M368.0 214.0h0M386.2 217.7h0M542.6 184.9h0M637.1 207.8h0M368.1 212.1h0M496.3 195.5h0M607.5 214.0h0M620.8 203.7h0M635.6 203.7h0M541.3 177.0h0M592.2 216.3h0M636.0 198.6h0M412.1 173.3h0M447.4 181.1h0M592.2 200.5h0M144.2 195.2h0M284.0 198.7h0M34.7 218.7h0M222.0 212.1h0M402.0 200.4h0M364.0 215.1h0M573.9 215.0h0M480.7 185.2h0M704.7 177.7h0M318.7 194.8h0M508.3 147.0h0M204.7 195.3h0M237.4 210.6h0M178.4 169.4h0M603.2 211.1h0M29.4 225.7h0M46.9 210.1h0M465.7 181.3h0M494.1 193.4h0M365.5 215.9h0M352.5 193.2h0M544.9 179.8h0M528.5 184.0h0M545.2 173.5h0M28.3 223.3h0M636.3 200.8h0M428.4 167.1h0M236.1 218.0h0M685.5 202.3h0M209.3 198.7h0M380.5 210.0h0M493.3 194.0h0M158.2 188.3h0M158.3 201.5h0M288.5 207.5h0M496.1 187.7h0M367.2 209.8h0M173.1 173.9h0M226.1 194.2h0M466.3 178.0h0M667.4 192.7h0M303.6 201.5h0M622.0 199.5h0M604.5 219.9h0M573.9 211.4h0M380.3 207.5h0M396.8 209.3h0M673.2 198.7h0M176.4 166.2h0M464.0 181.2h0M158.4 199.7h0M176.2 159.6h0M610.0 219.2h0M654.1 200.4h0M318.8 195.6h0M638.9 204.1h0M28.3 209.4h0M653.2 203.0h0M523.7 176.1h0M364.6 209.1h0M529.6 173.7h0M348.4 200.0h0M670.4 191.2h0M544.6 186.5h0M81.7 186.0h0M525.4 180.1h0M652.1 197.5h0M656.0 193.2h0M272.6 163.1h0M430.6 173.1h0M335.2 195.4h0M604.8 202.8h0M381.4 211.7h0M494.2 180.6h0M527.6 182.4h0M689.6 189.5h0M334.0 198.7h0M109.9 197.1h0M81.5 188.7h0M258.2 211.3h0M621.6 204.6h0M414.4 169.8h0M175.4 165.4h0M29.3 220.1h0M654.6 201.3h0M367.2 206.0h0M207.5 206.0h0M239.0 217.2h0M156.2 203.2h0M667.5 195.9h0M507.6 149.7h0M303.2 201.2h0M114.0 178.0h0M306.5 192.7h0M251.9 214.6h0M366.5 209.6h0M367.6 214.3h0M383.4 214.8h0M401.5 207.4h0M285.5 196.6h0M705.8 195.2h0M220.7 208.9h0M380.1 210.3h0M443.6 182.4h0M300.6 194.5h0M274.5 164.2h0M603.3 204.7h0M685.4 189.2h0M656.4 202.2h0M63.4 190.4h0M687.8 209.0h0M703.9 187.2h0M350.5 195.3h0M60.5 196.0h0M110.3 182.9h0M511.4 146.4h0M657.3 196.9h0M177.0 163.4h0M591.9 205.1h0M143.5 202.4h0M625.5 206.9h0M683.3 199.0h0M350.0 196.2h0M31.9 222.8h0M368.3 207.5h0M81.5 193.7h0M525.6 176.2h0M668.0 197.7h0M354.5 197.2h0M588.0 201.1h0M194.0 164.5h0M608.6 202.2h0M398.3 201.2h0M333.0 190.2h0M129.8 193.4h0M368.2 206.4h0M97.9 159.6h0M464.3 182.7h0M93.0 160.9h0M306.0 199.0h0M190.3 165.2h0M635.5 201.7h0M512.7 150.9h0M92.5 157.1h0M475.9 187.7h0M306.2 200.3h0M428.4 169.7h0M542.0 179.4h0M172.7 161.7h0M348.2 203.4h0M352.0 198.4h0M62.2 196.5h0M93.7 162.8h0M302.5 197.9h0M685.2 197.9h0M80.9 190.7h0M141.9 206.3h0M685.3 214.5h0M145.4 201.6h0M143.8 201.9h0M384.2 215.4h0M96.4 161.0h0M496.5 183.9h0M619.3 206.9h0M336.0 198.4h0M578.1 207.7h0M66.3 189.1h0M94.3 166.9h0M31.8 214.3h0M268.1 167.6h0M416.5 165.9h0M98.8 163.9h0M530.2 175.2h0M140.5 197.0h0M194.5 165.6h0M79.7 192.1h0M253.0 212.6h0M34.9 218.6h0M624.3 205.0h0M270.7 164.4h0M287.0 205.3h0M273.0 164.2h0M62.8 184.3h0M160.8 197.4h0M66.2 192.2h0M256.2 216.9h0M65.9 197.1h0M335.9 190.0h0M76.5 193.1h0M205.0 197.0h0M254.0 211.4h0M77.6 191.0h0M254.4 213.0h0M477.0 180.2h0M128.8 205.5h0M349.2 203.9h0M290.2 207.2h0M621.4 203.6h0M98.3 158.4h0M383.5 204.1h0M539.3 181.5h0M480.1 186.9h0M46.0 213.1h0M220.1 203.5h0M465.1 182.8h0M530.1 183.9h0M690.1 198.3h0M221.2 197.9h0M112.6 190.4h0M290.2 204.2h0M255.5 219.0h0M47.7 221.6h0M700.9 211.2h0M350.2 200.4h0M258.2 215.8h0M604.8 214.5h0M334.4 194.8h0M223.4 205.8h0M366.1 206.0h0M274.8 159.9h0M383.6 213.0h0M63.3 195.3h0M110.7 183.5h0M654.9 205.8h0M77.2 189.7h0M543.9 178.0h0M461.5 187.7h0M591.3 212.6h0M284.8 205.6h0M158.8 209.2h0M192.8 162.1h0M173.2 162.2h0M430.2 169.5h0M593.2 204.4h0M193.7 165.5h0M560.1 207.2h0M528.4 186.2h0M189.4 166.7h0M491.9 186.9h0M510.8 140.6h0M397.8 207.9h0M236.7 214.9h0M33.4 221.5h0M208.5 203.1h0M49.5 219.9h0M317.6 197.8h0M510.8 154.9h0M315.7 198.0h0M208.9 201.9h0M619.2 204.5h0M45.5 217.8h0M479.1 180.2h0M555.4 213.8h0M418.5 163.5h0M274.2 157.9h0M380.2 205.0h0M444.5 175.4h0M93.7 151.5h0M396.6 209.0h0M142.1 203.5h0M240.7 205.6h0M66.8 195.1h0M46.3 220.6h0M316.7 192.3h0M667.4 201.2h0M699.8 178.5h0M558.4 206.1h0M447.2 176.0h0M559.1 206.5h0M431.2 167.1h0M416.4 171.2h0M670.2 191.2h0M398.1 201.4h0M641.3 203.5h0M589.6 215.6h0M208.2 200.1h0M412.3 169.2h0M367.5 200.9h0M575.3 208.2h0M189.8 162.9h0M588.0 210.1h0M401.3 203.9h0M30.3 211.9h0M98.7 157.5h0M673.4 199.0h0M336.8 197.3h0M459.9 180.1h0M703.0 190.3h0M112.0 177.9h0M651.4 194.8h0M112.0 187.2h0M608.0 197.3h0M428.7 174.3h0M380.7 207.3h0M192.9 164.2h0M700.9 196.7h0M366.1 212.0h0M574.6 206.7h0M253.5 213.3h0M555.8 214.8h0M349.8 202.4h0M588.0 206.4h0M669.9 195.7h0M476.0 188.6h0M80.5 194.8h0M577.6 207.1h0M82.4 188.1h0" stroke="#2F9A9A" stroke-width="1.5" stroke-linecap="round" stroke-opacity="0.5" fill="none"/>
<path d="M228.0 207.0h0M629.4 208.7h0M599.8 212.6h0M89.1 192.4h0M57.0 220.4h0M88.0 189.8h0M196.6 160.2h0M86.0 193.4h0M663.3 205.8h0M552.2 176.2h0M626.8 202.9h0M328.7 193.9h0M472.2 176.8h0M453.1 180.4h0M338.7 200.4h0M101.8 163.8h0M710.8 193.3h0M708.5 190.4h0M327.8 199.8h0M359.8 190.5h0M455.0 184.4h0M166.0 204.1h0M679.4 199.7h0M211.5 199.8h0M215.7 200.7h0M200.5 165.4h0M214.6 201.3h0M519.9 157.7h0M706.6 203.6h0M660.2 193.0h0M326.2 199.1h0M404.4 199.0h0M342.9 189.3h0M130.4 198.5h0M292.8 194.6h0M324.4 200.6h0M182.0 167.4h0M564.0 214.0h0M455.4 185.7h0M183.0 154.2h0M309.3 201.2h0M152.7 212.4h0M421.2 167.8h0M402.1 198.4h0M152.5 214.6h0M71.5 194.8h0M613.9 201.2h0M545.6 178.7h0M387.9 209.5h0M580.6 207.5h0M294.8 196.7h0M83.5 192.5h0M468.7 178.8h0M71.9 196.1h0M611.4 208.1h0M419.8 167.8h0M438.7 168.6h0M231.0 211.0h0M695.5 206.9h0M658.4 188.5h0M359.1 198.6h0M360.6 192.9h0M483.8 179.9h0M307.7 197.2h0M119.9 190.5h0M456.2 187.3h0M309.0 201.1h0M247.3 213.6h0M519.4 156.3h0M296.2 201.1h0M484.7 178.8h0M584.2 208.1h0M151.3 208.6h0M658.0 198.6h0M471.4 187.9h0M548.1 175.9h0M434.2 165.5h0M565.2 205.1h0M436.5 174.8h0M391.4 204.0h0M578.0 208.8h0M325.5 197.6h0M453.6 181.0h0M386.7 208.0h0M100.7 168.7h0M197.1 170.5h0M131.5 208.5h0M167.6 212.0h0M54.9 218.7h0M121.1 199.1h0M419.9 166.9h0M86.9 187.7h0M324.4 193.5h0M264.0 217.9h0M470.0 189.4h0M309.7 202.1h0M114.5 182.5h0M354.2 196.8h0M679.7 205.2h0M119.0 177.1h0M645.5 203.1h0M387.5 213.6h0M101.0 150.3h0M343.6 194.9h0M550.9 174.0h0M100.5 163.2h0M545.7 187.8h0M259.1 213.4h0M136.5 210.5h0M610.3 205.3h0M678.7 205.1h0M534.4 177.6h0M594.7 202.7h0M422.2 172.8h0M356.0 190.7h0M133.3 208.9h0M501.1 189.7h0M232.4 207.7h0M146.8 197.4h0M246.4 213.7h0M181.6 174.9h0M290.6 204.8h0M296.9 203.0h0M626.7 208.6h0M582.2 212.5h0M147.7 213.2h0M613.8 200.2h0M550.1 185.9h0M40.4 216.4h0M57.1 214.2h0M101.2 170.7h0M34.6 224.3h0M184.2 171.0h0M68.6 187.6h0M403.1 205.2h0M548.9 180.7h0M534.9 177.9h0M164.9 218.4h0M386.9 216.0h0M259.3 218.3h0M359.7 190.8h0M437.6 166.4h0M583.5 208.0h0M198.5 162.0h0M422.8 172.5h0M52.8 219.6h0M645.2 207.5h0M673.5 207.6h0M84.7 190.1h0M338.5 195.2h0M520.5 153.5h0M692.5 207.4h0M613.4 204.9h0M421.8 164.9h0M324.6 197.0h0M328.8 198.5h0M98.5 172.8h0M119.4 179.6h0M438.8 165.5h0M406.0 202.7h0M227.2 209.6h0M470.4 183.3h0M372.3 202.1h0M40.9 219.3h0M232.4 209.5h0M679.3 195.7h0M88.8 188.2h0M644.1 208.5h0M181.3 169.5h0M518.5 144.9h0M500.3 187.3h0M306.1 198.8h0M130.9 206.9h0M276.6 161.7h0M453.7 189.6h0M470.1 181.3h0M583.8 217.4h0M344.1 191.6h0M390.3 206.4h0M370.3 215.6h0M385.9 213.7h0M694.3 202.7h0M499.4 185.6h0M530.9 172.2h0M85.9 188.7h0M674.1 200.4h0M278.2 161.1h0M661.9 192.7h0M276.6 166.1h0M597.5 206.5h0M565.4 213.0h0M197.5 171.1h0M533.4 176.1h0M39.3 221.9h0M563.9 202.8h0M147.7 199.4h0M706.0 208.4h0M568.0 209.9h0M626.9 206.7h0M183.5 171.4h0M595.2 209.0h0M499.2 187.0h0M260.2 217.7h0M40.6 218.5h0M692.9 201.7h0M662.8 205.2h0M41.0 219.4h0M290.8 203.1h0M645.0 203.5h0M503.4 195.8h0M83.8 188.4h0M582.1 214.8h0M647.5 206.7h0" stroke="#D8456A" stroke-width="1.5" stroke-linecap="round" stroke-opacity="0.5" fill="none"/>
<path d="M29.10 214.30H34.30V221.45H29.10ZM45.07 212.76H50.27V222.88H45.07ZM61.04 189.44H66.24V195.82H61.04ZM77.02 186.14H82.22V193.73H77.02ZM92.99 160.40H98.19V168.76H92.99ZM108.96 182.40H114.16V193.95H108.96ZM124.93 193.84H130.13V202.53H124.93ZM140.90 198.24H146.10V207.59H140.90ZM156.88 193.84H162.08V203.96H156.88ZM172.85 162.93H178.05V169.86H172.85ZM188.82 162.93H194.02V167.22H188.82ZM204.79 196.04H209.99V204.62H204.79ZM220.76 197.80H225.96V207.04H220.76ZM236.74 209.90H241.94V216.28H236.74ZM252.71 212.10H257.91V217.82H252.71ZM268.68 160.84H273.88V166.56H268.68ZM284.65 199.01H289.85V204.84H284.65ZM300.62 197.58H305.82V202.64H300.62ZM316.60 193.18H321.80V198.90H316.60ZM332.57 189.66H337.77V196.04H332.57ZM348.54 189.66H353.74V198.24H348.54ZM364.51 207.70H369.71V214.08H364.51ZM380.48 206.91H385.68V213.42H380.48ZM396.46 201.10H401.66V207.70H396.46ZM412.43 167.44H417.63V172.50H412.43ZM428.40 168.19H433.60V173.25H428.40ZM444.37 177.56H449.57V184.07H444.37ZM460.34 179.01H465.54V184.82H460.34ZM476.32 182.62H481.52V187.68H476.32ZM492.29 187.02H497.49V193.44H492.29ZM508.26 147.86H513.46V154.35H508.26ZM524.23 176.72H529.43V183.94H524.23ZM540.20 179.61H545.40V186.14H540.20ZM556.18 204.40H561.38V211.88H556.18ZM572.15 208.36H577.35V214.74H572.15ZM588.12 203.96H593.32V213.35H588.12ZM604.09 204.69H609.29V212.63H604.09ZM620.06 198.90H625.26V204.18H620.06ZM636.04 201.98H641.24V208.58H636.04ZM652.01 194.06H657.21V201.32H652.01ZM667.98 194.79H673.18V200.57H667.98ZM683.95 199.12H689.15V211.44H683.95ZM699.92 187.57H705.12V198.39H699.92Z" stroke="#1C6C79" stroke-width="1.2" fill="#fff" fill-opacity="0.68"/>
<path d="M29.10 219.36H34.30M45.07 217.16H50.27M61.04 192.30H66.24M77.02 190.32H82.22M92.99 162.16H98.19M108.96 188.56H114.16M124.93 198.24H130.13M140.90 203.96H146.10M156.88 201.76H162.08M172.85 166.12H178.05M188.82 165.02H194.02M204.79 200.00H209.99M220.76 204.51H225.96M236.74 212.32H241.94M252.71 215.18H257.91M268.68 164.45H273.88M284.65 201.98H289.85M300.62 200.00H305.82M316.60 196.04H321.80M332.57 192.52H337.77M348.54 196.04H353.74M364.51 210.23H369.71M380.48 209.46H385.68M396.46 204.73H401.66M412.43 169.86H417.63M428.40 170.63H433.60M444.37 180.42H449.57M460.34 181.19H465.54M476.32 185.26H481.52M492.29 189.11H497.49M508.26 151.75H513.46M524.23 181.08H529.43M540.20 182.49H545.40M556.18 208.29H561.38M572.15 211.22H577.35M588.12 209.75H593.32M604.09 208.29H609.29M620.06 201.76H625.26M636.04 205.61H641.24M652.01 198.02H657.21M667.98 197.69H673.18M683.95 205.61H689.15M699.92 193.07H705.12" stroke="#1C6C79" stroke-width="1.35" fill="none"/>
<path d="M35.30 214.30H40.50V221.45H35.30ZM51.27 212.76H56.47V219.36H51.27ZM67.24 189.66H72.44V194.72H67.24ZM83.22 188.56H88.42V193.29H83.22ZM99.19 162.16H104.39V167.88H99.19ZM115.16 184.60H120.36V196.04H115.16ZM131.13 197.47H136.33V205.39H131.13ZM147.10 197.47H152.30V214.08H147.10ZM163.08 201.76H168.28V211.88H163.08ZM179.05 165.02H184.25V170.52H179.05ZM195.02 161.50H200.22V169.42H195.02ZM210.99 200.44H216.19V207.59H210.99ZM226.96 204.07H232.16V210.34H226.96ZM242.94 210.56H248.14V215.62H242.94ZM258.91 214.19H264.11V217.82H258.91ZM274.88 161.28H280.08V166.19H274.88ZM290.85 198.68H296.05V205.50H290.85ZM306.82 195.38H312.02V202.64H306.82ZM322.80 194.72H328.00V200.44H322.80ZM338.77 190.32H343.97V196.81H338.77ZM354.74 191.75H359.94V197.58H354.74ZM370.71 207.70H375.91V218.48H370.71ZM386.68 209.02H391.88V217.73H386.68ZM402.66 201.39H407.86V207.15H402.66ZM418.63 167.44H423.83V173.60H418.63ZM434.60 169.64H439.80V174.70H434.60ZM450.57 178.29H455.77V187.68H450.57ZM466.54 179.76H471.74V189.11H466.54ZM482.52 181.61H487.72V188.41H482.52ZM498.49 185.50H503.69V199.23H498.49ZM514.46 149.29H519.66V155.78H514.46ZM530.43 176.02H535.63V185.39H530.43ZM546.40 176.72H551.60V187.35H546.40ZM562.38 205.41H567.58V212.63H562.38ZM578.35 209.75H583.55V216.24H578.35ZM594.32 201.10H599.52V209.02H594.32ZM610.29 201.10H615.49V208.29H610.29ZM626.26 202.73H631.46V209.94H626.26ZM642.24 204.91H647.44V211.44H642.24ZM658.21 190.45H663.41V204.18H658.21ZM674.18 196.26H679.38V209.24H674.18ZM690.15 199.85H695.35V215.00H690.15ZM706.12 190.45H711.32V199.12H706.12Z" stroke="#871828" stroke-width="1.2" fill="#fff" fill-opacity="0.68"/>
<path d="M35.30 219.69H40.50M51.27 215.95H56.47M67.24 192.52H72.44M83.22 189.99H88.42M99.19 164.80H104.39M115.16 186.03H120.36M131.13 201.76H136.33M147.10 206.60H152.30M163.08 206.38H168.28M179.05 167.88H184.25M195.02 165.79H200.22M210.99 203.30H216.19M226.96 208.80H232.16M242.94 212.76H248.14M258.91 216.06H264.11M274.88 164.45H280.08M290.85 201.54H296.05M306.82 200.00H312.02M322.80 197.58H328.00M338.77 193.49H343.97M354.74 195.16H359.94M370.71 214.08H375.91M386.68 213.42H391.88M402.66 204.29H407.86M418.63 170.30H423.83M434.60 171.84H439.80M450.57 184.07H455.77M466.54 184.82H471.74M482.52 185.50H487.72M498.49 194.94H503.69M514.46 153.62H519.66M530.43 180.05H535.63M546.40 178.15H551.60M562.38 208.73H567.58M578.35 214.08H583.55M594.32 205.83H599.52M610.29 203.96H615.49M626.26 206.38H631.46M642.24 209.02H647.44M658.21 196.92H663.41M674.18 200.57H679.38M690.15 207.04H695.35M706.12 195.51H711.32" stroke="#871828" stroke-width="1.35" fill="none"/>
<path d="M78.6 194.1h0M337.3 191.6h0M208.8 197.1h0M523.9 178.1h0M544.7 182.6h0M497.4 187.1h0M640.8 203.8h0M369.9 208.3h0M447.1 185.8h0M62.5 193.8h0M176.7 169.5h0M622.6 206.2h0M642.0 199.1h0M556.1 206.7h0M222.7 198.8h0M157.2 205.5h0M318.2 197.1h0M290.7 203.9h0M226.6 211.9h0M33.1 215.0h0M527.4 185.6h0M255.8 212.3h0M541.8 187.1h0M82.5 194.9h0M623.4 208.2h0M434.4 169.8h0M158.0 211.9h0M417.0 171.0h0M349.9 203.7h0M65.9 198.6h0M575.0 212.2h0M300.6 196.9h0M146.5 198.1h0M66.7 196.8h0M226.5 210.0h0M253.6 215.8h0M384.3 216.6h0M544.2 181.7h0M299.8 193.9h0M161.3 203.2h0M672.4 199.9h0M607.0 210.3h0M353.4 200.0h0M271.9 161.6h0M447.9 182.0h0M365.4 213.1h0M543.7 186.9h0M288.2 203.5h0M641.6 199.8h0M145.2 202.5h0M684.2 190.9h0M32.2 210.5h0M272.8 163.8h0M256.7 209.9h0M686.3 212.0h0M188.5 169.7h0M623.3 200.3h0M368.7 212.8h0M49.0 211.8h0M593.2 205.9h0M447.0 180.0h0M431.5 171.3h0M399.2 204.8h0M545.3 184.3h0M108.1 193.2h0M273.1 163.8h0M95.1 169.9h0M588.5 205.9h0M514.2 151.3h0M700.4 195.0h0M654.1 201.5h0M447.2 184.4h0M671.8 202.0h0M29.1 217.8h0M604.3 207.5h0M301.2 198.4h0M433.3 164.1h0M685.3 211.1h0M593.8 212.1h0M619.4 200.7h0M491.9 190.4h0M129.7 201.1h0M381.0 216.2h0M476.4 180.4h0M542.8 185.3h0M95.9 167.0h0M555.6 205.0h0M523.5 175.0h0M447.1 180.8h0M703.9 188.2h0M482.4 183.7h0M606.2 211.9h0M284.5 202.9h0M300.9 199.8h0M464.8 187.4h0M689.3 207.6h0M175.1 170.5h0M577.1 208.0h0M445.6 180.5h0M640.5 196.5h0M141.5 213.1h0M146.7 199.0h0M141.4 202.0h0M464.9 183.2h0M573.7 209.4h0M176.0 166.9h0M156.3 200.4h0M80.3 196.2h0M76.6 188.6h0M285.0 204.7h0M130.2 191.6h0M699.4 183.5h0M112.3 184.3h0M432.3 173.9h0M685.6 183.7h0M657.0 194.0h0M337.8 187.6h0M367.7 214.2h0M481.0 180.4h0M225.7 205.4h0M511.1 153.3h0M511.9 151.6h0M574.1 203.9h0M35.0 219.9h0M44.7 223.7h0M115.0 177.7h0M221.6 204.6h0M224.5 213.6h0M562.0 202.8h0M704.5 206.5h0M48.3 208.2h0M431.7 173.0h0M497.1 196.9h0M412.1 169.1h0M495.7 191.2h0M62.0 199.3h0M652.4 197.4h0M652.5 192.0h0M226.3 206.9h0M573.5 208.2h0M589.7 216.0h0M76.6 196.3h0M428.3 169.7h0M320.5 192.9h0M98.2 160.2h0M66.1 190.8h0M290.0 205.5h0M305.3 206.7h0M464.2 184.9h0M526.2 175.7h0M304.3 199.2h0M238.5 214.7h0M702.8 186.5h0M223.7 202.5h0M561.6 202.5h0M253.5 217.7h0M161.5 196.5h0M221.0 207.2h0M109.7 181.4h0M667.8 200.8h0M93.2 165.6h0M399.7 210.5h0M286.0 196.6h0M240.5 211.6h0M351.2 190.4h0M319.9 194.6h0M412.5 172.2h0M572.1 212.7h0M670.1 189.8h0M237.9 209.1h0M175.0 168.0h0M161.3 207.8h0M97.9 153.3h0M253.2 213.4h0M288.4 195.6h0M256.9 216.1h0M555.9 206.3h0M512.3 148.7h0M94.2 160.9h0M545.9 177.4h0M236.6 212.9h0M333.8 189.0h0M161.7 198.9h0M593.8 214.4h0M559.4 211.9h0M527.7 174.1h0M525.4 182.3h0M141.6 206.6h0M224.0 209.2h0M205.9 201.5h0M336.5 186.2h0M460.5 184.0h0M560.3 206.0h0M497.7 196.3h0M158.9 190.7h0M29.7 212.9h0M576.0 210.2h0M370.3 206.3h0M684.8 213.2h0M446.8 177.3h0M320.0 198.5h0M619.3 207.0h0M670.9 191.6h0M108.9 184.8h0M128.9 192.0h0M670.8 199.4h0M381.9 200.5h0M254.0 217.9h0M98.0 169.1h0M624.8 196.9h0M237.2 219.2h0M30.3 220.1h0M34.9 221.5h0M670.5 197.7h0M146.5 205.5h0M173.1 176.6h0M206.5 203.4h0M319.3 199.7h0M128.2 208.0h0M652.4 195.3h0M32.4 196.9h0M274.0 162.2h0M367.6 214.5h0M640.3 197.8h0M289.8 203.8h0M99.0 168.5h0M337.2 192.2h0M63.3 191.9h0M141.3 191.0h0M128.0 202.7h0M558.6 212.5h0M414.8 163.8h0M525.0 177.7h0M191.8 171.1h0M463.1 179.0h0M689.9 202.5h0M332.7 198.8h0M337.9 194.2h0M625.7 194.2h0M78.5 196.4h0M561.9 213.9h0M208.7 195.7h0M446.9 175.7h0M109.2 178.5h0M332.1 185.9h0M509.6 152.0h0M496.2 188.8h0M333.1 198.1h0M158.0 193.8h0M236.1 212.2h0M683.6 215.0h0M431.0 172.3h0M509.0 153.7h0M221.0 209.1h0M189.2 163.7h0M300.5 205.3h0M495.6 195.1h0M82.1 187.2h0M427.8 173.9h0M604.7 219.3h0M638.1 205.5h0M289.3 206.0h0M306.4 200.2h0M476.0 188.5h0M448.5 187.1h0M493.7 186.1h0M126.5 198.5h0M705.8 188.7h0M401.3 205.7h0M283.8 206.9h0M353.0 191.4h0M336.5 187.2h0M47.7 209.2h0M608.9 201.1h0M335.8 194.2h0M28.3 211.9h0M588.8 207.7h0M496.3 188.4h0M255.9 213.9h0M412.1 166.6h0M204.4 198.3h0M322.3 194.8h0M337.0 192.4h0M654.4 199.2h0M479.5 189.2h0M464.3 177.6h0M609.6 213.9h0M188.0 162.3h0M205.0 194.9h0M577.8 215.0h0M427.6 174.1h0M381.5 209.1h0M49.9 214.9h0M623.1 204.3h0M79.8 199.5h0M495.9 189.8h0M271.6 176.7h0M192.9 165.9h0M383.9 216.4h0M82.3 187.9h0M545.1 189.0h0M160.7 201.0h0M316.7 200.2h0M608.9 208.4h0M527.2 173.3h0M300.8 196.0h0M562.1 209.5h0M411.9 171.5h0M31.5 213.7h0M66.2 191.3h0M109.9 189.2h0M398.9 205.4h0M385.8 203.6h0M319.5 193.3h0M688.1 210.3h0M30.6 211.7h0M45.1 211.7h0M47.5 200.9h0M396.2 206.6h0M146.2 212.6h0M50.3 212.8h0M401.0 206.9h0M253.9 219.8h0M270.1 167.4h0M635.2 200.8h0M348.8 194.8h0M588.7 211.0h0M50.9 220.4h0M205.7 194.2h0M605.2 197.1h0M465.5 182.1h0M31.9 223.2h0M672.0 198.9h0M703.7 198.6h0M78.5 187.6h0M575.0 212.1h0M224.7 196.2h0M380.9 207.3h0M159.2 188.9h0M447.8 174.8h0M482.3 179.9h0M255.3 209.0h0M525.7 183.9h0M621.2 197.2h0M207.5 202.0h0M397.2 201.3h0M479.3 191.3h0M237.4 208.6h0M429.9 169.6h0M83.0 195.9h0M686.0 204.3h0M111.5 188.9h0M301.8 200.8h0M287.7 201.3h0M61.2 188.8h0M686.9 184.6h0M541.7 178.0h0M636.3 205.7h0M111.6 194.0h0M539.5 181.3h0M493.2 184.2h0M668.4 194.0h0M206.4 201.9h0M432.4 174.3h0M526.0 179.8h0M270.7 161.0h0M578.0 210.6h0M461.2 187.7h0M338.1 193.5h0M338.6 198.8h0M461.1 176.5h0M301.3 203.2h0M320.6 196.8h0M608.4 203.1h0M561.2 214.2h0M511.9 154.8h0M271.2 161.6h0M50.0 215.6h0M305.7 200.4h0M226.6 213.8h0M303.6 196.0h0M141.8 197.8h0M703.7 197.5h0M383.5 206.7h0M556.8 210.2h0M434.4 168.1h0M705.3 192.4h0M575.1 214.3h0M530.3 176.8h0M513.4 140.7h0M610.1 198.6h0M350.7 190.2h0M383.6 205.8h0M274.6 163.0h0M560.5 209.1h0M556.0 215.1h0M64.8 188.1h0M593.2 206.7h0M66.3 194.1h0M81.5 193.6h0M175.4 162.3h0M492.0 183.6h0M316.7 193.9h0M81.7 185.3h0M146.7 196.3h0M126.3 189.8h0M225.7 210.1h0M652.0 192.8h0M302.6 202.5h0M478.8 186.6h0M28.8 219.3h0M671.8 199.3h0M350.8 202.4h0M283.8 206.3h0M239.0 216.1h0M321.6 196.0h0M561.0 201.3h0M433.1 165.2h0M111.9 192.0h0M252.0 210.9h0M400.9 211.3h0M635.4 202.9h0M124.2 188.7h0M268.3 168.5h0M129.6 196.8h0M140.6 211.1h0M274.2 159.9h0M206.3 209.3h0M704.5 201.6h0M274.5 163.2h0M530.2 185.4h0M477.0 184.0h0M50.6 218.4h0M205.8 198.5h0M701.7 193.1h0M623.9 198.2h0M654.6 197.7h0M667.6 198.7h0M557.8 212.7h0M241.6 211.4h0M541.6 182.7h0M640.4 202.0h0M190.7 166.8h0M571.9 212.5h0M638.4 205.6h0M129.3 186.7h0M337.6 186.6h0M287.9 196.8h0M108.7 195.6h0M189.6 160.7h0M414.6 172.9h0M396.2 202.5h0M173.2 161.8h0M225.9 203.2h0M158.2 202.8h0M689.9 209.2h0M475.9 184.0h0M144.2 211.8h0M667.7 196.4h0M319.3 194.4h0M66.0 191.4h0M158.8 202.0h0M608.8 201.8h0M206.5 194.7h0M668.8 193.4h0M156.5 207.7h0M303.5 193.8h0M194.6 162.6h0M619.9 195.2h0M556.5 210.1h0M701.2 192.9h0M95.7 160.3h0M29.4 221.0h0M205.2 202.4h0M336.4 197.2h0M384.1 201.4h0M66.2 194.4h0M476.1 187.2h0M191.7 168.0h0M667.3 200.0h0M368.8 204.8h0M190.6 163.7h0M510.7 152.8h0M397.8 208.7h0M110.1 189.7h0M188.5 164.3h0M207.0 202.1h0M641.7 202.4h0M79.5 195.3h0M318.5 191.3h0M237.4 215.8h0M174.0 166.6h0M449.6 185.6h0M608.8 204.8h0M190.4 165.3h0M589.5 202.8h0M555.5 205.4h0M141.5 203.4h0M108.3 192.7h0M320.1 200.6h0M607.3 200.6h0M64.8 188.2h0M178.2 167.2h0M571.5 213.3h0M257.7 215.7h0M432.9 168.0h0M542.5 177.7h0M683.2 208.8h0M208.7 199.6h0M462.9 181.9h0M401.1 200.9h0M461.3 181.5h0M396.3 208.3h0M608.9 207.4h0M268.8 153.5h0M669.3 199.6h0M290.3 208.3h0M623.6 199.6h0M125.3 201.4h0M351.9 188.3h0M290.5 206.9h0M225.3 196.8h0M222.5 202.0h0M610.0 208.1h0M62.6 192.6h0" stroke="#2F9A9A" stroke-width="1.5" stroke-linecap="round" stroke-opacity="0.42" fill="none"/>
<path d="M245.9 209.6h0M146.8 218.5h0M231.7 205.4h0M563.3 204.7h0M198.8 159.8h0M550.6 184.1h0M483.5 188.9h0M631.5 200.5h0M279.1 159.2h0M487.0 190.4h0M38.6 217.9h0M292.0 195.8h0M420.2 171.1h0M502.2 189.6h0M375.8 210.9h0M371.9 213.1h0M56.5 217.8h0M614.9 212.0h0M629.6 204.2h0M264.6 214.5h0M374.0 215.2h0M247.4 208.9h0M679.6 202.5h0M466.5 176.5h0M67.7 199.2h0M343.3 195.3h0M244.0 217.3h0M229.4 208.9h0M437.8 169.7h0M166.5 216.0h0M615.7 205.6h0M616.0 196.5h0M520.3 153.1h0M211.1 200.1h0M354.0 198.0h0M500.3 184.5h0M353.9 190.1h0M452.8 188.2h0M405.7 200.7h0M530.6 181.0h0M359.8 195.1h0M341.4 197.1h0M101.0 161.7h0M531.7 181.4h0M197.9 164.1h0M386.7 207.4h0M309.7 203.0h0M627.7 201.4h0M229.8 208.2h0M117.0 187.0h0M676.2 195.5h0M183.2 164.3h0M115.8 192.1h0M707.6 191.6h0M646.4 209.7h0M629.1 210.0h0M245.9 207.8h0M100.4 164.8h0M579.4 216.0h0M216.2 202.0h0M440.0 168.4h0M164.6 202.5h0M134.2 197.7h0M259.7 215.4h0M594.7 201.3h0M180.2 168.5h0M673.5 202.1h0M262.5 218.0h0M440.3 176.8h0M692.6 215.7h0M146.8 193.7h0M690.2 198.3h0M263.0 220.3h0M710.1 205.5h0M280.8 161.0h0M564.4 211.2h0M133.7 197.7h0M661.6 199.5h0M644.0 209.5h0M533.6 173.8h0M452.9 180.6h0M244.7 214.7h0M529.8 177.2h0M279.3 166.4h0M371.4 220.1h0M326.8 197.3h0M498.2 200.0h0M595.0 209.0h0M498.8 192.8h0M54.9 220.0h0M274.3 160.7h0M420.4 167.2h0M57.1 214.2h0M131.4 197.6h0M513.7 144.3h0M374.7 216.0h0M163.9 210.8h0M131.3 203.6h0M483.2 181.9h0M597.0 204.9h0M642.0 204.0h0M69.5 194.1h0M709.3 188.0h0M596.9 205.7h0M517.3 157.1h0M279.2 158.3h0M712.2 194.4h0M213.1 199.6h0M515.3 154.5h0M98.6 168.2h0M215.3 206.9h0M373.2 202.4h0M296.9 195.0h0M403.8 203.6h0M243.4 210.1h0M116.7 183.7h0M548.2 174.6h0M709.0 193.6h0M246.3 217.5h0M230.0 210.0h0M51.9 213.4h0M274.7 162.7h0M451.2 184.8h0M643.6 211.3h0M68.5 193.7h0M213.9 202.4h0M199.3 157.5h0M386.7 209.6h0M41.4 224.9h0M689.5 216.0h0M72.2 195.8h0M471.9 177.7h0M197.6 159.7h0M484.1 179.5h0M70.1 187.6h0M610.9 200.7h0M598.9 216.6h0M211.0 207.7h0M121.0 192.4h0M163.3 218.4h0M147.9 200.9h0M404.0 207.0h0M661.3 196.9h0M423.4 175.5h0M529.7 187.5h0M663.6 191.5h0M344.3 198.4h0M307.9 201.5h0M404.6 207.8h0M179.9 164.5h0M471.6 179.5h0M165.2 205.6h0M482.9 185.6h0M41.1 214.3h0M67.1 192.5h0M181.3 165.7h0M373.0 208.6h0M694.7 210.0h0M262.6 215.5h0M483.9 185.8h0M629.0 194.8h0M312.8 202.1h0M567.8 206.2h0M438.1 168.0h0M341.6 197.2h0M53.5 221.3h0M162.9 214.7h0M517.7 160.5h0M295.5 196.7h0M482.4 192.2h0M562.0 203.1h0M101.7 168.6h0M405.9 202.4h0M310.4 194.6h0M690.9 203.0h0M579.8 215.0h0" stroke="#D8456A" stroke-width="1.5" stroke-linecap="round" stroke-opacity="0.42" fill="none"/>
<path d="M222.96 184.70V183.70H229.36V184.70" stroke="#111" stroke-width="1" fill="none"/>
<text x="226.16" y="180.60" font-size="12.3" font-weight="bold" fill="#111" text-anchor="middle">*</text>
<path d="M670.18 173.60V172.60H676.58V173.60" stroke="#111" stroke-width="1" fill="none"/>
<text x="673.38" y="169.50" font-size="12.3" font-weight="bold" fill="#111" text-anchor="middle">*</text>
<rect x="25.0" y="242.94" width="690.00" height="115.75" fill="#EBEBEB"/>
<rect x="25.0" y="242.94" width="690.00" height="11.65" fill="#D9D9D9"/>
<text x="370.00" y="251.64" font-size="6.2" fill="#1A1A1A" text-anchor="middle">Males</text>
<path d="M25.0 341.26H715.0M25.0 319.26H715.0M25.0 297.26H715.0M25.0 275.26H715.0" stroke="#fff" stroke-width="0.4" stroke-opacity="0.9" fill="none"/>
<path d="M25.0 352.26H715.0M25.0 330.26H715.0M25.0 308.26H715.0M25.0 286.26H715.0M25.0 264.26H715.0M34.50 254.59V358.69M50.47 254.59V358.69M66.44 254.59V358.69M82.42 254.59V358.69M98.39 254.59V358.69M114.36 254.59V358.69M130.33 254.59V358.69M146.30 254.59V358.69M162.28 254.59V358.69M178.25 254.59V358.69M194.22 254.59V358.69M210.19 254.59V358.69M226.16 254.59V358.69M242.14 254.59V358.69M258.11 254.59V358.69M274.08 254.59V358.69M290.05 254.59V358.69M306.02 254.59V358.69M322.00 254.59V358.69M337.97 254.59V358.69M353.94 254.59V358.69M369.91 254.59V358.69M385.88 254.59V358.69M401.86 254.59V358.69M417.83 254.59V358.69M433.80 254.59V358.69M449.77 254.59V358.69M465.74 254.59V358.69M481.72 254.59V358.69M497.69 254.59V358.69M513.66 254.59V358.69M529.63 254.59V358.69M545.60 254.59V358.69M561.58 254.59V358.69M577.55 254.59V358.69M593.52 254.59V358.69M609.49 254.59V358.69M625.46 254.59V358.69M641.44 254.59V358.69M657.41 254.59V358.69M673.38 254.59V358.69M689.35 254.59V358.69M705.32 254.59V358.69" stroke="#fff" stroke-width="0.68" fill="none"/>
<text x="21.40" y="354.86" font-size="6.3" fill="#4D4D4D" text-anchor="end">0.4</text>
<text x="21.40" y="332.86" font-size="6.3" fill="#4D4D4D" text-anchor="end">0.5</text>
<text x="21.40" y="310.86" font-size="6.3" fill="#4D4D4D" text-anchor="end">0.6</text>
<text x="21.40" y="288.86" font-size="6.3" fill="#4D4D4D" text-anchor="end">0.7</text>
<text x="21.40" y="266.86" font-size="6.3" fill="#4D4D4D" text-anchor="end">0.8</text>
<path d="M23.20 352.26H25.0M23.20 330.26H25.0M23.20 308.26H25.0M23.20 286.26H25.0M23.20 264.26H25.0" stroke="#333" stroke-width="0.7" fill="none"/>
<path d="M31.70 324.19V334.00M31.70 341.48V348.01M47.67 325.64V336.05M47.67 344.41V351.60M63.64 301.11V309.80M63.64 315.83V320.58M79.62 301.11V307.16M79.62 313.76V316.27M95.59 273.59V280.39M95.59 287.32V290.22M111.56 294.53V302.47M111.56 310.46V319.79M127.53 301.66V313.19M127.53 321.13V329.82M143.50 303.09V316.84M143.50 326.19V334.88M159.48 301.66V313.50M159.48 325.46V337.74M175.45 277.90V283.71M175.45 288.75V297.41M191.42 275.04V282.30M191.42 290.22V295.94M207.39 308.92V314.64M207.39 322.56V327.62M223.36 308.92V318.25M223.36 329.07V332.68M239.34 325.53V330.57M239.34 336.35V340.69M255.31 328.41V332.02M255.31 337.74V342.14M271.28 275.15V281.64M271.28 291.03V298.95M287.25 309.65V316.18M287.25 323.35V329.82M303.22 311.87V315.52M303.22 322.78V329.16M319.20 307.60V313.10M319.20 318.38V321.24M335.17 303.86V310.46M335.17 318.38V324.87M351.14 307.60V311.56M351.14 319.04V327.75M367.11 319.81V326.30M367.11 332.79V339.28M383.08 321.97V326.08M383.08 333.23V340.73M399.06 314.02V320.58M399.06 326.59V334.22M415.03 281.75V287.58M415.03 293.59V296.91M431.00 281.75V287.58M431.00 294.03V299.09M446.97 292.64V299.79M446.97 306.28V311.34M462.94 295.50V300.56M462.94 307.03V312.79M478.92 299.09V303.42M478.92 308.04V314.20M494.89 303.42V308.48M494.89 314.95V322.16M510.86 260.74V269.36M510.86 275.88V284.50M526.83 286.70V296.82M526.83 304.01V308.92M542.80 295.35V300.41M542.80 306.94V312.44M558.78 315.37V323.31M558.78 331.25V337.08M574.75 319.70V327.62M574.75 334.13V337.08M590.72 312.48V326.52M590.72 336.29V344.23M606.69 313.19V322.56M606.69 329.07V335.54M622.66 309.80V319.92M622.66 328.57V335.10M638.64 316.31V321.35M638.64 329.29V335.10M654.61 309.80V315.59M654.61 322.12V327.18M670.58 306.94V316.31M670.58 322.34V327.18M686.55 310.46V320.65M686.55 330.70V339.06M702.52 301.22V310.46M702.52 319.92V330.04" stroke="#1C6C79" stroke-width="0.8" fill="none"/>
<path d="M37.90 329.25V335.45M37.90 341.48V347.29M53.87 328.52V335.45M53.87 342.67V348.74M69.84 307.60V309.47M69.84 315.30V319.92M85.82 303.99V309.47M85.82 314.86V318.42M101.79 277.24V282.30M101.79 288.75V295.94M117.76 300.34V303.49M117.76 311.12V316.18M133.73 307.42V315.37M133.73 321.57V326.92M149.70 306.72V316.09M149.70 328.35V345.00M165.68 304.52V316.84M165.68 327.62V331.25M181.65 278.65V283.71M181.65 290.22V296.69M197.62 273.59V280.80M197.62 288.02V294.53M213.59 308.15V316.84M213.59 323.31V330.52M229.56 309.58V320.43M229.56 328.35V334.13M245.54 326.30V331.29M245.54 337.37V345.66M261.51 329.16V333.03M261.51 337.74V344.34M277.48 277.31V282.37M277.48 287.43V292.46M293.45 310.46V316.62M293.45 323.35V326.96M309.42 311.87V316.49M309.42 321.68V327.03M325.40 308.26V313.10M325.40 318.38V324.10M341.37 308.26V311.12M341.37 316.93V320.58M357.34 308.99V312.22M357.34 317.35V319.04M373.31 324.87V330.70M373.31 336.42V343.68M389.28 323.44V327.75M389.28 334.00V340.03M405.26 317.06V321.24M405.26 327.03V334.66M421.23 283.93V287.58M421.23 293.08V296.91M437.20 283.93V288.24M437.20 293.30V296.91M453.17 294.75V300.23M453.17 307.45V314.20M469.14 294.75V301.66M469.14 308.48V312.79M485.12 299.81V304.56M485.12 311.34V317.06M501.09 304.12V309.91M501.09 317.85V322.16M517.06 266.46V270.86M517.06 276.58V280.91M533.03 291.76V298.25M533.03 304.74V311.78M549.00 298.95V302.54M549.00 308.35V313.98M564.98 321.90V325.86M564.98 331.67V337.74M580.95 322.56V327.93M580.95 333.41V339.19M596.92 311.78V322.56M596.92 330.52V339.19M612.89 309.58V320.43M612.89 329.07V334.88M628.86 314.13V319.48M628.86 328.57V331.47M644.84 317.06V322.78M644.84 328.57V334.35M660.81 309.80V314.57M660.81 324.98V328.57M676.78 311.25V317.72M676.78 323.22V330.04M692.75 309.14V322.12M692.75 335.76V340.16M708.72 300.43V310.46M708.72 318.47V324.98" stroke="#871828" stroke-width="0.8" fill="none"/>
<path d="M239.9 336.4h0M623.1 317.5h0M606.6 322.0h0M332.8 305.6h0M191.9 275.9h0M526.5 303.5h0M96.0 286.0h0M97.4 289.2h0M193.3 284.0h0M78.5 310.7h0M224.1 317.9h0M462.5 296.5h0M508.3 264.1h0M465.5 304.0h0M606.3 318.3h0M655.1 321.8h0M316.2 314.6h0M464.8 299.2h0M191.1 278.0h0M492.7 313.5h0M654.3 315.6h0M658.0 320.4h0M257.2 332.0h0M81.0 306.7h0M558.9 332.2h0M288.3 315.1h0M496.5 308.7h0M367.1 326.9h0M464.7 296.0h0M127.4 325.8h0M332.9 316.0h0M557.3 317.3h0M31.0 342.0h0M336.3 312.1h0M109.6 296.7h0M386.6 330.9h0M222.5 322.1h0M460.8 303.5h0M322.5 311.7h0M320.7 317.9h0M128.3 321.4h0M653.1 317.1h0M384.8 330.7h0M572.4 336.7h0M274.1 283.7h0M82.7 309.3h0M459.5 305.5h0M690.0 319.9h0M528.5 303.4h0M28.2 335.3h0M556.5 335.3h0M269.2 285.4h0M557.7 324.4h0M559.7 331.3h0M703.2 327.4h0M460.3 298.2h0M188.2 279.6h0M477.4 301.8h0M29.1 344.9h0M430.3 291.9h0M498.3 315.7h0M303.8 322.3h0M337.2 320.4h0M592.5 333.8h0M379.9 337.5h0M476.1 306.1h0M402.3 327.7h0M205.1 319.4h0M669.9 317.6h0M303.9 313.3h0M270.1 277.9h0M98.1 288.0h0M670.8 324.3h0M207.0 321.7h0M416.8 293.2h0M572.4 332.4h0M350.0 311.6h0M477.6 307.3h0M606.7 326.8h0M31.0 326.1h0M508.5 280.6h0M93.7 277.2h0M349.1 310.6h0M141.8 322.7h0M620.8 324.4h0M670.0 321.5h0M210.5 312.4h0M546.2 310.3h0M574.7 332.3h0M241.2 336.7h0M33.3 333.2h0M559.3 324.7h0M642.0 325.5h0M143.1 317.5h0M492.8 313.2h0M64.8 311.1h0M337.1 315.6h0M526.8 303.2h0M478.5 305.4h0M258.7 330.2h0M256.1 334.9h0M80.2 303.6h0M143.9 327.2h0M348.9 316.3h0M98.2 285.4h0M190.7 293.1h0M525.5 300.3h0M93.3 285.0h0M525.4 299.6h0M349.0 318.7h0M162.5 318.4h0M623.6 324.2h0M577.3 336.5h0M241.2 339.2h0M460.1 310.6h0M300.9 320.3h0M288.1 321.6h0M159.9 321.9h0M354.0 320.5h0M144.1 320.5h0M528.4 294.4h0M526.6 303.6h0M635.3 329.3h0M111.8 315.8h0M194.5 284.4h0M657.2 325.9h0M207.8 323.8h0M335.4 306.5h0M31.8 343.4h0M604.1 335.3h0M624.6 333.0h0M578.1 335.2h0M99.1 286.1h0M511.9 271.1h0M177.7 282.1h0M94.7 286.7h0M656.3 325.5h0M446.8 305.5h0M204.2 320.9h0M475.4 308.8h0M641.7 328.3h0M177.2 288.3h0M178.0 287.9h0M189.7 280.2h0M141.9 314.6h0M98.4 277.2h0M206.5 315.2h0M620.6 333.9h0M303.0 317.0h0M444.5 302.0h0M335.3 313.0h0M573.1 335.9h0M208.2 322.9h0M66.3 312.0h0M417.2 296.4h0M637.8 328.4h0M241.9 329.3h0M284.2 321.3h0M320.8 320.3h0M304.7 321.8h0M381.8 332.9h0M173.8 279.8h0M76.6 312.9h0M383.9 333.4h0M413.9 291.9h0M50.6 344.9h0M414.9 295.1h0M287.9 325.5h0M303.1 326.8h0M539.3 304.2h0M364.6 329.2h0M462.9 301.0h0M574.4 326.3h0M129.1 314.9h0M44.6 327.1h0M319.3 313.6h0M220.2 332.1h0M625.7 316.8h0M669.0 323.4h0M593.7 330.1h0M95.1 285.6h0M304.0 321.5h0M333.7 321.0h0M492.8 309.0h0M673.9 323.0h0M44.8 340.8h0M672.0 321.5h0M495.8 309.1h0M143.0 317.7h0M51.1 346.9h0M66.8 312.0h0M398.0 324.9h0M461.9 307.9h0M557.7 334.4h0M177.4 295.8h0M412.7 293.4h0M301.7 312.9h0M461.9 300.4h0M398.2 321.3h0M274.3 281.8h0M28.9 329.7h0M254.1 331.8h0M316.8 316.2h0M401.8 321.8h0M398.7 321.2h0M396.6 329.8h0M688.4 338.2h0M400.1 327.8h0M689.0 337.1h0M192.3 291.2h0M258.7 332.7h0M317.1 315.4h0M673.7 318.0h0M285.1 325.2h0M301.3 320.6h0M608.4 318.7h0M700.9 312.0h0M619.7 319.5h0M141.8 327.4h0M447.3 298.3h0M302.5 317.6h0M126.3 323.7h0M204.1 311.2h0M207.1 316.9h0M220.4 326.3h0M369.6 332.7h0M271.5 286.6h0M322.7 314.5h0M402.1 322.0h0M411.7 290.7h0M285.8 319.3h0M448.6 306.0h0M539.6 307.8h0M482.0 300.7h0M349.1 316.0h0M60.4 309.6h0M701.8 316.5h0M578.2 321.0h0M33.2 332.9h0M172.5 281.3h0M46.4 332.3h0M657.2 318.2h0M348.1 321.4h0M571.9 326.3h0M161.3 334.3h0M268.4 277.2h0M445.6 302.3h0M460.1 301.0h0M141.4 326.4h0M652.3 318.4h0M367.6 330.0h0M287.9 318.5h0M478.8 305.5h0M555.8 330.0h0M237.5 337.9h0M109.8 306.9h0M608.7 326.7h0M64.9 302.5h0M130.3 323.4h0M382.1 334.7h0M507.4 272.4h0M689.6 313.8h0M652.8 316.1h0M529.2 302.6h0M174.9 286.8h0M273.6 286.3h0M82.3 310.4h0M415.2 295.7h0M145.6 322.9h0M284.3 319.5h0M700.4 308.7h0M594.1 329.3h0M444.1 304.8h0M98.8 286.7h0M605.8 324.0h0M176.8 287.8h0M129.3 313.3h0M587.7 317.1h0M512.8 280.4h0M639.5 329.2h0M573.9 334.5h0M640.9 330.1h0M226.3 318.6h0M241.1 331.9h0M252.3 338.9h0M47.4 342.7h0M318.1 315.7h0M478.2 303.2h0M606.4 318.9h0M303.4 317.4h0M527.3 302.2h0M462.1 305.8h0M354.2 316.3h0M673.8 322.1h0M96.9 281.0h0M450.1 300.7h0M258.5 339.4h0M383.7 335.9h0M623.8 333.4h0M463.7 296.9h0M383.1 330.2h0M161.6 318.9h0M397.6 323.0h0M605.2 326.9h0M607.6 324.4h0M542.3 308.6h0M33.8 336.3h0M642.1 333.1h0M317.4 320.5h0M400.7 329.9h0M562.1 334.8h0M432.6 284.9h0M354.0 309.3h0M46.4 345.8h0M112.5 306.7h0M114.5 297.5h0M542.3 307.3h0M653.0 316.5h0M237.7 332.9h0M302.5 316.2h0M97.4 285.9h0M320.1 316.8h0M381.8 336.4h0M523.8 298.1h0M111.2 296.0h0M129.1 319.8h0M622.0 323.4h0M385.8 332.0h0M431.3 298.9h0M93.8 280.4h0M655.1 320.8h0M366.7 328.8h0M252.6 334.5h0M383.3 335.9h0M191.3 278.6h0M576.5 331.4h0M543.6 301.1h0M61.6 310.6h0M253.3 339.3h0M370.6 330.1h0M370.0 323.6h0M416.8 291.6h0M639.2 332.5h0M413.3 292.3h0M286.8 320.0h0M667.8 325.4h0M109.6 303.8h0M80.9 310.4h0M608.8 324.8h0M703.5 317.4h0M446.5 306.3h0M316.6 320.8h0M641.8 320.7h0M480.3 313.5h0M589.5 334.5h0M385.0 334.2h0M592.5 341.6h0M302.4 324.9h0M158.7 322.7h0M303.7 317.7h0M108.3 300.4h0M31.1 329.5h0M557.2 332.7h0M172.9 293.4h0M189.2 284.6h0M544.1 309.1h0M656.3 311.9h0M447.8 301.4h0M673.6 321.2h0M334.3 317.1h0M46.6 335.0h0M188.8 284.7h0M161.9 329.8h0M658.1 312.1h0M193.1 280.5h0M205.0 309.1h0M254.4 334.6h0M705.5 303.0h0M479.7 302.5h0M50.7 348.2h0M272.4 277.5h0M336.3 308.4h0M126.8 314.8h0M225.9 324.8h0M655.6 311.9h0M96.3 275.8h0M672.8 321.3h0M496.0 310.7h0M220.1 320.9h0M226.0 331.1h0M609.7 324.9h0M528.8 304.0h0M286.9 328.1h0M513.2 277.5h0M255.4 334.9h0M304.9 314.8h0M446.2 310.5h0M444.8 303.4h0M66.8 311.5h0M272.0 286.2h0M97.9 278.6h0M430.3 286.0h0M558.8 329.5h0M335.9 318.4h0M401.4 317.1h0M540.9 300.3h0M396.6 326.0h0M624.2 330.4h0M320.7 318.3h0M673.2 325.0h0M652.3 318.3h0M396.5 328.3h0M380.9 331.1h0M703.0 322.3h0M621.2 323.9h0M622.8 329.2h0M226.0 319.8h0M322.5 316.0h0M542.8 303.1h0M637.9 332.7h0M62.2 319.3h0M417.3 296.6h0M386.2 333.6h0M237.6 332.7h0M113.7 304.6h0M303.5 317.5h0M268.0 277.9h0M206.7 318.7h0M524.1 295.7h0M572.5 323.0h0M624.7 318.7h0M271.3 286.3h0M507.6 267.5h0M689.1 338.3h0M32.5 343.1h0M412.1 292.9h0M124.2 318.4h0M383.0 338.2h0M176.5 284.1h0M591.1 323.0h0M609.9 328.1h0M98.8 286.5h0M335.8 309.5h0M98.8 280.6h0M240.1 337.4h0M684.6 327.4h0M300.5 313.4h0M704.2 316.4h0M657.7 319.5h0M593.0 337.8h0M128.7 309.3h0M688.1 335.3h0M254.9 329.4h0M622.2 314.5h0M639.4 331.9h0M333.4 320.2h0M445.8 310.3h0M370.0 330.9h0M271.4 262.6h0M590.2 332.0h0M286.3 326.1h0M590.7 320.9h0M463.5 302.1h0M668.8 316.9h0M126.7 322.0h0M590.3 332.9h0M464.8 303.1h0M302.4 315.3h0M354.4 311.2h0M572.7 326.1h0M446.1 301.9h0M525.5 298.8h0M112.3 310.0h0M49.2 347.7h0M317.9 316.9h0M204.0 325.9h0M545.0 299.7h0M124.8 317.6h0M177.6 279.5h0M51.0 339.8h0M301.2 319.5h0M142.9 327.0h0M637.2 322.7h0M498.2 307.8h0M684.9 337.6h0M685.2 338.8h0M655.4 316.1h0M507.5 278.2h0M82.5 314.3h0M189.8 288.4h0M320.8 314.7h0M398.9 326.8h0M223.2 320.3h0M609.3 331.6h0M190.5 284.8h0M445.5 309.7h0M508.9 279.2h0M556.6 332.1h0M255.1 336.4h0M365.6 329.2h0M44.3 344.3h0M396.3 323.4h0M635.4 330.1h0M173.8 287.6h0M322.3 311.7h0M225.0 325.8h0M48.1 331.0h0M370.2 331.0h0M239.1 337.5h0M188.6 277.1h0M496.9 307.2h0M156.1 319.3h0M92.7 286.8h0M239.0 335.2h0M189.3 281.5h0M31.5 345.8h0M544.2 307.6h0M253.7 337.4h0M689.5 337.6h0M608.8 325.0h0M606.1 330.9h0M415.1 293.4h0M669.8 321.5h0M334.5 312.0h0M636.6 318.7h0M237.3 331.7h0M622.9 325.9h0M700.6 310.6h0M32.9 327.3h0M701.3 314.2h0M380.7 328.2h0M416.1 292.4h0M433.6 292.5h0M588.8 333.8h0M159.7 331.4h0M143.6 319.0h0M478.2 313.2h0M208.6 322.8h0M176.5 285.6h0M80.4 314.4h0M351.4 319.3h0M303.4 319.3h0M29.2 337.3h0M540.4 310.0h0M113.9 299.5h0M350.6 319.0h0M494.9 312.5h0M238.0 332.1h0M285.2 316.8h0M366.8 326.7h0M556.5 332.5h0M622.0 324.9h0M224.7 331.3h0M239.3 333.2h0M190.0 287.4h0M78.9 314.7h0M289.7 324.4h0M225.0 326.7h0M65.1 310.1h0M349.1 324.1h0M688.3 329.6h0M349.3 324.7h0M193.5 284.7h0M144.4 311.1h0M684.1 330.3h0M46.9 337.5h0M508.1 270.5h0M559.3 328.2h0M524.9 299.8h0M284.3 322.1h0M491.6 312.7h0M668.3 315.7h0M577.1 327.9h0M352.5 316.0h0M621.2 328.0h0M413.7 286.8h0M477.2 313.6h0M129.1 320.9h0M113.0 310.3h0M284.9 310.0h0M449.6 311.1h0M396.1 318.4h0M427.7 289.8h0M480.4 303.6h0M413.6 296.6h0M337.2 324.5h0M351.7 320.3h0M428.0 292.9h0M273.7 282.6h0M700.8 324.7h0M639.4 320.8h0M575.0 334.2h0M542.5 301.6h0M31.1 339.5h0M66.6 309.0h0M605.9 333.4h0M353.1 316.6h0M398.6 325.2h0M158.2 334.6h0M418.4 293.1h0M545.0 311.4h0M289.4 315.9h0M304.4 318.2h0M637.7 328.2h0M336.2 320.0h0M492.6 320.6h0M700.3 322.6h0M49.2 336.7h0M354.2 320.0h0M396.7 323.6h0M145.8 319.4h0M430.5 295.8h0M700.6 306.4h0M683.2 332.0h0M46.2 331.0h0M461.2 310.0h0M528.0 300.0h0M255.1 329.3h0M236.6 339.7h0M111.6 308.9h0M651.4 321.8h0M701.9 329.1h0M303.2 320.1h0M656.6 315.3h0M220.4 330.8h0M205.8 311.4h0M334.7 316.9h0M194.4 295.3h0M654.3 321.2h0M625.2 328.2h0M223.4 321.0h0M96.2 279.0h0M95.1 281.5h0M370.3 327.4h0M477.3 300.6h0M82.6 313.7h0M495.7 311.3h0M572.9 323.5h0M209.7 319.7h0M684.7 320.4h0M284.6 320.1h0M348.6 321.6h0M66.8 307.5h0M432.3 294.0h0M385.1 324.1h0M49.9 333.9h0M364.3 327.0h0M306.5 322.8h0M540.7 304.7h0M271.8 294.4h0M335.4 316.3h0M482.1 310.2h0M48.1 340.3h0M542.2 305.7h0M365.8 338.0h0M272.9 294.0h0M367.0 325.7h0M268.7 280.8h0M254.1 340.5h0M82.3 316.1h0M654.3 318.6h0M689.1 329.9h0M462.1 308.4h0M226.4 326.7h0M593.6 329.2h0M98.8 289.3h0M226.6 324.6h0M385.2 333.2h0M348.1 323.8h0M702.7 302.3h0M161.0 333.8h0M510.7 276.7h0M702.4 313.6h0M574.3 333.7h0M335.2 318.9h0M303.5 319.6h0M450.4 310.8h0M142.9 321.1h0M367.9 336.8h0M493.8 310.5h0M99.0 283.3h0M44.4 345.9h0M144.7 317.9h0M286.1 323.9h0M412.0 286.6h0M78.0 307.3h0M257.6 334.9h0M287.0 311.3h0M380.7 333.6h0M524.3 301.8h0M335.4 318.8h0M79.9 310.4h0M321.0 309.8h0M479.5 302.6h0M351.3 315.7h0M127.3 312.9h0M224.0 321.6h0M128.9 320.3h0M557.6 321.2h0M302.2 313.7h0M353.4 312.4h0M463.8 307.6h0M626.0 334.3h0M429.3 289.0h0M464.3 302.7h0M305.2 324.0h0M289.0 310.7h0M47.6 337.9h0M45.5 348.9h0M366.5 330.6h0M241.4 328.2h0M28.6 337.0h0M525.6 291.2h0M129.7 320.1h0M274.2 290.5h0M76.3 305.1h0M44.9 347.4h0M687.8 318.3h0M525.4 293.2h0M574.5 334.2h0M29.2 328.3h0M491.5 313.1h0M640.6 329.4h0M450.1 303.4h0M444.9 310.8h0M113.3 313.4h0M367.8 335.1h0M28.6 342.6h0M113.2 319.0h0M65.5 316.1h0M222.4 317.6h0M253.6 336.4h0M621.2 317.2h0M683.9 324.9h0M418.2 286.9h0M607.9 319.2h0M162.3 313.8h0M667.2 319.7h0M189.2 291.6h0M82.8 316.1h0M382.6 331.2h0M50.0 337.8h0M480.3 306.8h0M239.4 330.3h0M204.8 318.4h0M49.1 340.4h0M465.7 304.2h0M95.6 279.6h0M334.6 309.6h0M114.4 307.8h0M652.4 312.5h0M96.9 286.0h0M396.8 321.3h0M447.5 305.9h0M477.7 299.5h0M415.7 285.8h0M272.2 284.7h0M673.5 320.7h0M497.3 311.3h0M574.0 335.2h0M704.5 309.6h0M642.0 331.1h0M380.8 332.6h0M588.2 327.7h0M306.3 315.6h0M702.3 305.3h0M237.2 329.8h0M174.0 282.8h0M513.4 282.9h0M558.3 332.2h0M251.8 338.9h0M63.3 313.8h0M604.4 326.2h0M224.8 323.1h0M242.0 328.7h0M331.9 319.9h0M397.2 318.8h0M77.8 303.5h0M574.1 326.3h0M46.2 333.7h0M575.7 326.8h0M670.3 322.3h0M268.2 280.4h0M333.4 304.8h0M272.1 292.4h0M556.8 323.6h0M495.1 309.7h0M493.0 311.0h0M401.0 316.8h0M286.3 315.8h0M45.4 339.0h0M382.6 322.6h0M290.0 323.6h0M591.8 328.3h0M399.9 331.2h0M667.2 313.4h0M206.7 324.6h0M252.1 332.6h0M79.1 313.4h0M65.7 315.5h0M82.4 308.3h0M481.1 304.4h0M685.2 337.3h0M64.3 317.5h0M513.1 268.6h0M160.8 307.2h0M510.8 280.0h0M172.5 285.2h0M315.8 312.4h0M475.9 305.4h0M495.6 311.2h0M300.2 324.2h0M289.3 320.0h0M445.5 298.3h0M541.1 304.5h0M77.5 309.6h0M62.9 308.1h0M350.1 314.6h0M380.6 325.6h0M96.1 280.3h0M513.5 276.2h0M77.8 301.2h0M288.7 311.9h0M334.2 320.0h0M252.6 338.3h0M430.2 297.6h0M638.9 328.2h0M672.0 319.9h0M624.9 322.9h0M61.2 312.6h0M349.4 316.5h0M95.4 288.0h0M144.5 316.1h0M429.7 295.4h0M593.0 324.5h0M592.1 320.0h0M639.7 327.6h0M449.6 306.2h0M636.4 325.4h0M398.0 325.4h0M637.9 327.2h0M319.4 310.2h0M268.8 283.4h0M145.8 323.2h0M446.0 302.3h0M365.1 328.3h0M383.5 329.3h0M188.7 282.2h0M256.7 333.2h0M656.4 316.2h0M258.3 340.0h0M395.9 319.1h0M543.7 302.1h0M289.5 319.9h0M207.9 323.6h0M109.1 302.3h0M125.7 316.1h0M78.6 303.5h0M432.2 291.5h0M460.9 305.0h0M609.9 334.8h0M285.2 323.8h0M126.1 329.3h0M639.0 322.2h0M402.3 324.8h0M464.1 300.8h0M254.7 331.8h0M316.1 319.2h0M636.2 327.2h0M284.3 319.6h0M577.5 327.8h0M428.1 282.5h0M128.2 321.3h0M673.5 316.3h0M65.9 317.6h0M576.0 322.2h0M285.9 310.1h0M93.3 278.4h0M463.1 309.4h0M588.8 333.5h0M351.9 314.2h0M94.0 279.3h0M447.4 301.3h0M221.3 325.5h0M226.4 314.7h0M524.1 294.7h0M318.3 316.1h0M65.3 302.4h0M418.0 294.8h0M525.7 304.9h0M318.0 313.1h0M414.1 288.5h0M605.5 329.2h0M238.1 332.2h0M32.0 344.2h0M162.4 321.1h0M587.7 331.8h0M477.0 304.0h0M303.1 317.3h0M479.7 305.0h0M206.0 324.3h0M461.4 298.6h0M302.6 324.1h0M623.8 324.4h0M466.0 307.2h0M587.5 341.6h0M686.1 317.1h0M380.1 332.0h0M287.7 319.4h0M80.3 314.6h0M382.9 331.5h0M524.9 302.9h0M47.2 346.1h0M656.8 313.2h0M334.4 314.7h0M208.9 324.8h0M287.8 319.8h0M463.9 308.2h0M449.7 302.7h0M194.7 282.1h0M207.5 315.6h0M49.3 339.3h0M112.5 295.2h0M178.6 284.4h0M530.3 300.5h0M220.6 328.6h0M194.8 288.9h0M348.3 310.0h0M193.4 276.0h0M529.6 293.7h0M603.6 320.3h0M546.0 295.9h0M640.9 322.9h0M273.3 276.3h0M126.8 315.0h0M460.4 307.6h0M299.8 313.9h0M110.0 316.6h0M178.4 284.3h0M44.3 345.6h0M430.8 289.1h0M558.1 325.8h0M317.1 314.7h0M703.0 314.0h0M460.6 308.7h0M304.6 323.2h0M402.4 328.0h0M369.0 333.9h0M653.1 323.3h0M64.7 308.6h0M603.4 322.9h0M127.5 323.3h0M97.0 284.5h0M29.8 336.4h0M398.7 320.5h0M689.7 325.9h0M557.4 329.3h0M161.0 330.4h0M466.1 307.1h0M285.3 318.2h0M332.3 311.3h0M287.1 317.9h0M492.2 312.6h0M255.3 332.7h0M683.8 311.3h0M656.4 318.8h0M544.6 312.1h0M349.4 314.4h0M48.8 343.6h0M187.9 294.0h0M606.2 323.2h0M255.8 335.8h0M385.5 327.3h0M145.5 327.8h0M624.2 320.2h0M657.6 323.4h0M145.6 317.9h0M701.1 315.7h0M510.1 271.8h0M430.1 290.1h0M255.3 337.0h0M626.1 331.5h0M432.3 292.4h0M432.0 294.4h0M590.7 336.3h0M511.8 270.4h0M443.9 295.5h0M557.8 331.9h0M637.7 324.7h0M433.3 286.3h0M320.8 313.7h0M399.1 328.3h0M607.5 325.9h0M574.5 333.3h0M208.1 314.2h0M351.3 316.5h0M241.4 339.5h0M529.5 296.6h0M111.7 285.9h0M220.3 323.2h0M65.1 314.0h0M667.4 320.6h0M476.0 307.8h0M34.0 341.2h0M700.6 320.4h0M703.3 324.6h0M141.1 318.8h0M31.0 333.4h0M529.7 307.9h0M587.4 323.5h0M478.2 299.7h0M318.3 310.6h0M269.5 296.1h0M96.6 279.3h0M301.6 315.3h0M30.4 341.5h0M352.6 320.2h0M603.9 333.1h0M446.8 307.6h0M683.2 318.0h0M416.3 285.9h0M178.9 281.6h0M592.5 315.9h0M672.8 318.1h0M209.2 326.5h0M415.5 291.4h0M428.1 290.4h0M385.1 330.8h0M79.7 305.2h0M49.9 334.5h0M494.9 306.7h0M495.5 313.6h0M98.2 283.5h0M431.6 293.5h0M110.4 308.6h0M544.9 306.8h0M379.8 328.7h0M465.7 310.3h0M162.8 314.6h0M464.7 304.2h0M494.5 313.0h0M689.3 311.1h0M593.8 332.7h0M656.5 321.7h0M126.1 313.2h0M574.8 334.8h0M157.0 314.0h0M95.9 282.0h0M156.8 326.0h0M124.4 305.8h0M481.6 303.8h0M577.8 332.5h0M76.8 311.0h0M173.9 285.5h0M204.6 324.3h0M239.1 328.3h0M688.2 325.2h0M288.3 321.3h0M223.6 315.8h0M127.9 317.7h0M353.7 315.3h0M316.1 309.7h0M302.5 313.5h0M204.8 313.5h0M699.4 322.3h0M336.7 321.5h0M609.0 328.8h0M620.7 320.2h0M172.1 283.4h0M587.5 342.6h0M638.0 324.0h0M145.4 327.8h0M479.4 305.5h0M587.7 317.8h0M80.7 305.9h0M210.4 318.2h0M498.2 313.6h0M178.6 288.9h0M126.4 316.5h0M446.3 304.0h0M316.3 319.3h0M672.4 316.2h0M574.3 336.3h0M317.2 315.7h0M657.2 312.8h0M176.7 290.2h0M191.0 281.9h0M271.5 280.0h0M657.1 317.5h0M444.6 307.4h0M700.6 314.7h0M222.5 326.5h0M383.0 333.3h0M619.5 325.8h0M29.4 342.4h0M622.3 322.1h0M95.9 279.1h0M224.9 323.7h0M448.9 302.8h0M401.7 327.8h0M540.7 305.6h0M460.0 298.0h0M510.0 276.9h0M110.7 316.5h0M352.0 312.9h0M97.5 289.3h0M352.2 312.2h0M50.5 345.0h0M703.7 317.1h0M242.2 329.9h0M640.3 327.6h0M255.1 333.8h0M304.3 328.9h0M206.7 324.5h0M433.6 292.5h0M156.1 318.2h0M252.0 337.9h0M320.2 315.1h0M477.1 309.3h0M318.4 319.9h0M96.1 286.5h0M319.6 315.9h0M512.7 270.0h0M555.8 322.1h0M125.2 310.3h0M223.8 329.7h0M334.6 316.3h0M541.6 300.3h0M142.6 318.4h0M525.8 301.4h0M512.2 275.0h0M464.8 300.5h0M190.2 287.3h0M48.9 333.2h0M412.2 295.4h0M448.9 310.3h0M495.8 307.2h0M492.9 315.8h0M619.4 319.2h0M427.8 293.2h0M479.7 305.6h0M433.3 288.9h0M529.2 306.4h0M204.6 317.6h0M208.3 319.4h0M160.2 304.7h0M220.1 314.4h0M333.4 311.7h0M208.1 324.1h0M157.3 319.3h0M416.5 284.5h0M253.8 331.1h0M290.3 329.8h0M653.6 312.9h0M704.7 306.0h0M588.3 318.5h0M207.2 317.0h0M354.2 315.8h0M303.1 314.5h0M210.0 318.9h0M460.8 302.3h0M160.3 314.9h0M304.0 324.3h0M699.1 326.8h0M463.7 301.7h0M683.7 324.1h0M670.8 325.6h0M640.7 318.7h0M448.3 300.3h0M465.3 297.8h0M285.0 321.3h0M176.2 284.3h0M525.6 308.3h0M333.5 314.3h0M704.1 323.5h0M430.4 289.2h0M158.4 316.8h0M449.4 304.0h0M352.5 316.6h0M109.8 312.8h0M367.3 332.1h0M370.1 332.7h0M415.1 296.3h0M479.2 305.6h0M337.2 314.9h0M654.3 319.1h0M268.9 275.8h0M223.9 330.3h0M652.7 323.0h0M335.3 319.0h0M414.6 289.1h0M194.0 281.9h0M623.2 328.4h0M79.5 308.3h0M64.6 320.2h0M160.5 320.2h0M557.4 330.8h0M242.5 332.0h0M621.7 320.7h0M257.0 330.1h0M635.2 319.2h0M557.8 321.2h0M254.1 338.8h0M240.4 333.3h0M507.9 271.1h0M605.1 326.4h0M63.6 319.3h0M620.9 324.0h0M671.9 314.1h0M591.2 323.5h0M447.2 297.9h0M464.1 301.4h0M641.1 329.8h0M271.5 282.2h0M688.7 331.4h0M193.8 282.5h0M481.5 305.3h0M142.7 328.4h0M210.3 315.6h0M269.0 285.4h0M257.7 337.9h0M367.1 330.5h0M335.0 319.7h0M447.1 304.2h0M255.7 330.6h0M224.2 325.2h0M110.6 301.6h0M514.2 272.5h0M704.3 309.3h0M174.4 284.9h0M463.7 301.7h0M636.9 322.0h0M588.6 328.2h0M225.1 325.6h0M300.6 313.6h0M173.5 282.3h0M194.1 282.0h0M61.3 308.8h0M129.4 316.9h0M529.3 296.1h0M704.6 317.3h0M255.1 330.2h0M635.4 323.6h0M626.0 323.8h0M321.9 319.4h0M255.9 333.2h0M384.4 332.0h0M267.9 285.1h0M588.2 335.3h0M273.3 284.3h0M238.6 336.7h0M492.2 311.9h0M96.1 281.6h0M98.6 275.8h0M33.2 339.0h0M236.5 339.2h0M61.0 307.9h0M480.8 309.8h0M158.1 312.8h0M683.6 312.7h0M561.3 334.0h0M354.4 310.4h0M63.3 318.7h0M274.2 284.0h0M400.2 318.6h0M657.5 317.4h0M525.5 300.3h0M97.8 279.2h0M657.7 313.1h0M273.8 287.5h0M94.4 288.1h0M239.8 333.1h0M428.4 298.4h0M221.7 321.4h0M575.6 328.6h0M206.5 318.9h0M624.7 328.1h0M417.8 295.1h0M636.4 320.6h0M189.2 285.2h0M176.0 284.7h0M558.8 329.3h0M65.2 314.3h0M527.2 299.3h0M625.2 329.7h0M332.6 319.2h0M604.9 324.7h0M428.6 296.3h0M620.7 326.3h0M142.0 321.1h0M192.9 282.0h0M382.6 330.7h0M625.7 327.4h0M510.3 270.3h0M589.4 325.3h0M93.7 285.9h0M658.1 317.1h0M159.4 315.3h0M572.3 334.9h0M92.9 288.9h0M557.2 324.4h0M338.2 313.9h0M335.7 312.1h0M317.0 318.2h0M256.6 336.4h0M174.3 289.7h0M175.1 280.6h0M79.2 305.7h0M545.8 305.5h0M239.0 339.5h0M609.2 327.7h0M449.3 303.3h0M61.2 313.1h0M703.4 310.4h0M225.3 315.9h0M587.9 324.8h0M447.1 307.3h0M209.1 327.0h0M413.7 287.7h0M702.1 303.6h0M445.8 304.7h0M555.4 329.4h0M445.8 303.8h0M126.7 320.6h0M573.6 334.8h0M370.2 325.5h0M432.5 299.0h0M175.0 279.7h0M381.5 332.7h0M130.1 329.6h0M31.3 336.1h0M623.2 322.0h0M545.5 301.5h0M525.1 291.9h0M114.6 302.6h0M558.7 324.6h0M96.5 286.0h0M576.2 336.1h0M156.5 328.6h0M62.5 320.3h0M380.4 328.8h0M478.5 301.8h0M606.2 333.2h0M639.5 322.2h0M131.0 315.3h0M398.4 321.3h0M541.1 299.9h0M114.7 298.9h0M656.4 320.4h0M400.3 318.0h0M382.8 331.1h0M511.6 273.0h0M49.4 350.1h0M159.4 325.5h0M285.6 328.4h0M160.6 316.6h0M671.5 318.9h0M175.6 290.8h0M610.0 325.7h0M699.3 322.6h0M93.2 280.8h0M125.7 309.8h0M317.4 315.0h0M417.3 288.6h0M703.1 319.7h0M142.2 318.9h0M507.6 267.4h0M82.7 313.1h0M369.0 333.5h0M268.0 287.1h0M444.0 308.0h0M412.3 290.6h0M350.4 320.9h0M65.0 318.3h0M608.3 326.6h0M513.8 266.6h0M625.3 326.0h0M29.1 338.0h0M545.5 303.9h0M98.9 278.1h0M364.8 333.0h0M65.4 302.7h0M545.4 295.6h0M253.7 339.0h0M158.5 314.4h0M209.5 326.4h0M194.5 286.5h0M433.4 282.3h0M300.6 312.3h0M79.7 307.1h0M224.2 315.9h0M177.9 286.1h0M540.6 305.9h0M78.3 301.8h0M416.8 296.2h0M338.1 312.9h0M306.3 315.5h0M333.3 305.6h0M94.7 289.2h0M589.9 326.3h0M529.3 300.5h0M604.3 332.2h0M417.4 292.4h0M671.3 315.9h0M320.3 316.2h0M670.5 320.3h0M192.7 277.8h0M494.5 318.4h0M384.5 331.8h0M113.8 295.0h0M684.1 332.7h0M270.1 285.4h0M92.5 283.6h0M399.7 328.5h0M238.7 331.0h0M254.2 339.4h0M625.6 319.8h0M257.9 334.8h0M384.6 323.9h0M240.9 335.7h0M671.7 317.5h0M652.5 320.2h0M542.6 296.9h0M491.6 306.3h0M380.8 328.3h0M235.9 325.8h0M333.5 310.9h0M283.8 311.6h0M224.6 332.0h0M177.5 282.6h0M284.5 326.2h0M482.2 309.7h0M273.3 281.8h0M143.6 316.2h0M222.8 319.2h0M370.1 328.7h0M481.4 300.6h0M30.8 337.6h0M270.6 291.2h0M82.7 311.0h0M683.2 318.0h0M657.8 317.1h0M174.3 281.8h0M284.4 328.3h0M363.8 326.7h0M365.5 334.7h0M625.8 321.4h0M127.0 324.0h0M589.8 322.9h0M450.0 297.7h0M491.9 311.0h0M464.3 304.6h0M433.8 295.8h0M332.4 318.7h0M126.1 303.8h0M269.2 282.7h0M29.0 339.8h0M253.8 335.7h0M190.5 284.7h0M588.4 343.7h0M508.5 279.7h0M317.4 314.4h0M284.4 323.0h0M587.5 335.0h0M555.9 333.0h0M670.6 316.0h0M640.8 334.7h0M524.7 308.3h0M306.2 317.9h0M493.5 311.2h0M700.5 318.4h0M369.4 330.6h0M686.2 320.9h0M190.8 282.1h0M433.9 290.6h0M274.2 284.8h0M65.1 313.2h0M399.4 320.8h0M348.8 326.1h0M478.0 308.5h0M639.6 322.1h0M300.3 312.4h0M450.0 303.1h0M206.0 321.7h0M206.3 323.3h0M66.8 304.0h0M462.6 308.8h0M162.2 312.6h0M573.2 331.6h0M507.5 277.9h0M316.8 316.5h0M366.7 328.2h0M289.6 320.6h0M82.2 307.5h0M527.8 302.7h0M588.9 335.5h0M349.0 326.7h0M560.9 331.5h0M571.9 334.3h0M363.8 327.9h0M398.3 331.2h0M364.6 324.7h0M110.1 305.6h0M193.2 291.9h0M304.9 320.5h0M576.0 333.5h0M368.8 323.8h0M701.8 329.1h0M689.1 318.9h0M49.4 336.0h0M210.6 321.5h0M223.0 325.8h0M429.7 298.4h0M445.3 298.9h0M193.9 289.7h0M335.1 316.6h0M177.7 286.1h0M255.2 330.1h0M305.6 319.9h0M412.7 291.3h0M705.3 311.1h0M63.0 307.3h0M429.9 290.3h0M642.1 330.0h0M477.1 305.4h0M370.4 331.0h0M318.3 315.1h0M271.0 285.4h0M140.4 323.0h0M621.0 324.2h0M347.9 313.8h0M32.3 338.9h0M511.4 270.6h0M162.4 314.3h0M50.0 336.8h0M288.7 314.7h0M653.4 320.1h0M475.9 305.4h0M591.0 333.3h0M386.3 323.1h0M480.7 310.6h0M331.7 315.4h0M383.9 332.8h0M703.2 308.0h0M575.9 324.3h0M46.4 335.1h0M400.6 324.8h0M477.5 306.1h0M413.7 283.9h0M512.5 269.1h0M621.7 329.3h0M508.0 264.8h0M240.7 328.5h0M305.7 313.4h0M603.7 322.1h0M158.5 312.8h0M555.6 330.4h0M366.2 331.7h0M252.0 339.8h0M510.0 274.9h0M400.8 322.5h0M368.3 330.1h0M430.3 294.9h0M220.2 326.6h0M237.7 327.6h0M92.6 279.7h0M194.6 284.9h0M528.9 305.8h0M108.9 300.9h0M561.5 326.0h0M112.7 309.8h0M525.1 304.2h0M507.6 276.0h0M383.4 337.5h0M429.8 292.3h0M540.1 298.1h0M316.5 313.0h0M34.4 347.1h0M115.0 306.6h0M475.7 303.1h0M476.8 300.8h0M461.4 305.5h0M226.2 327.3h0M115.0 318.5h0M161.2 319.4h0M253.9 329.7h0M603.6 325.6h0M223.6 331.2h0M608.1 321.9h0M30.1 336.8h0M77.0 312.7h0M546.2 302.4h0M497.0 310.3h0M367.8 326.5h0M449.1 293.4h0M109.2 306.0h0M223.5 316.9h0M30.5 333.9h0M688.7 323.8h0M635.6 321.2h0M571.7 332.6h0M34.2 341.2h0M270.3 284.1h0M316.2 312.2h0M477.6 302.7h0M254.4 330.7h0M338.4 309.4h0M539.6 311.1h0M269.8 279.9h0M81.2 310.9h0M175.2 295.8h0M397.2 326.7h0M256.7 341.6h0M656.9 325.0h0M369.7 325.8h0M225.8 326.3h0M367.1 334.9h0M178.0 288.6h0M418.0 291.4h0M539.5 307.7h0M657.0 317.1h0M507.8 276.6h0M270.7 292.4h0M651.4 315.1h0M239.9 332.6h0M416.8 289.9h0M399.1 325.6h0M497.9 309.0h0M526.7 296.5h0M173.5 281.3h0M466.0 309.0h0M545.9 302.5h0M289.7 318.1h0M651.8 322.7h0M76.9 309.8h0M605.9 332.7h0M609.2 327.8h0M364.4 336.1h0M689.0 329.5h0M573.7 330.2h0M512.6 270.9h0M351.8 309.2h0M671.8 319.6h0M335.3 314.1h0M623.2 316.1h0M448.0 303.4h0M290.4 314.8h0M386.2 327.3h0M462.3 299.0h0M574.3 324.2h0M400.4 319.6h0M143.7 324.9h0M34.4 339.1h0M413.3 289.2h0M656.5 323.0h0M158.2 325.4h0M555.8 334.2h0" stroke="#2F9A9A" stroke-width="1.5" stroke-linecap="round" stroke-opacity="0.5" fill="none"/>
<path d="M469.9 299.2h0M422.2 294.4h0M178.2 284.5h0M388.3 331.4h0M529.6 300.4h0M56.3 337.4h0M247.6 327.5h0M679.8 315.0h0M663.5 314.9h0M519.3 270.2h0M83.9 307.0h0M146.2 318.2h0M675.2 324.2h0M579.4 327.0h0M341.6 309.0h0M308.5 314.9h0M213.9 313.9h0M324.2 315.3h0M133.0 314.5h0M418.8 290.0h0M294.5 323.2h0M468.3 302.5h0M292.3 316.0h0M162.9 311.7h0M497.6 316.9h0M258.1 335.8h0M627.5 321.8h0M38.7 341.7h0M40.2 339.1h0M150.7 313.6h0M163.1 321.6h0M423.2 290.1h0M707.8 318.6h0M82.9 310.7h0M228.3 328.9h0M467.4 309.1h0M232.7 321.4h0M658.6 316.9h0M562.4 328.1h0M642.8 320.4h0M67.0 318.5h0M356.5 311.0h0M647.0 321.0h0M501.4 313.5h0M691.4 315.2h0M342.1 319.6h0M200.8 288.8h0M455.0 304.0h0M471.5 298.4h0M596.6 328.2h0M582.5 329.6h0M116.5 308.9h0M72.8 314.4h0M657.3 320.0h0M485.2 310.2h0M471.8 301.0h0M70.5 319.4h0M662.4 312.0h0M695.0 323.2h0M168.4 326.9h0M102.9 287.0h0M121.2 300.8h0M359.1 315.1h0M629.8 319.7h0M354.8 313.0h0M262.0 338.4h0M199.8 286.6h0M597.9 323.0h0M328.7 319.2h0M277.5 287.6h0M69.1 313.1h0M359.0 317.2h0M135.8 318.1h0M52.9 340.1h0M643.3 328.8h0M195.8 283.2h0M247.8 337.4h0M515.2 280.2h0M277.7 283.4h0M657.6 313.0h0M628.4 326.7h0M469.7 301.6h0M166.3 323.1h0M376.7 325.9h0M262.2 333.8h0M673.9 324.9h0M231.1 321.5h0M625.5 326.7h0M488.0 306.2h0M579.7 333.9h0M262.0 338.8h0M210.5 325.4h0M424.3 289.2h0M133.9 316.1h0M677.7 317.1h0M86.1 314.1h0M229.2 319.5h0M562.5 334.1h0M150.6 327.8h0M228.8 330.3h0M695.6 318.7h0M322.7 316.3h0M340.2 317.8h0M596.2 327.1h0M179.6 287.7h0M517.6 275.1h0M102.9 288.6h0M436.5 291.0h0M370.7 340.2h0M131.2 321.3h0M661.8 322.4h0M597.6 330.4h0M374.6 330.6h0M403.8 319.5h0M54.7 339.7h0M663.5 326.7h0M341.6 316.5h0M513.8 273.4h0M450.9 301.4h0M133.0 322.3h0M612.3 319.9h0M580.3 331.3h0M531.0 293.9h0M402.8 324.0h0M53.4 333.8h0M312.4 322.9h0M339.7 316.8h0M689.3 319.7h0M563.5 327.9h0M562.4 328.3h0M197.9 289.7h0M422.7 292.9h0M41.0 333.9h0M179.0 294.3h0M486.0 311.7h0M210.8 314.3h0M535.8 299.2h0M566.7 330.7h0M344.5 311.9h0M278.3 282.5h0M264.0 344.0h0M673.6 321.8h0M598.5 336.6h0M104.7 278.3h0M598.7 320.5h0M710.4 315.5h0M293.0 315.5h0M708.5 322.8h0M341.4 312.0h0M118.1 307.0h0M37.6 338.5h0M577.6 329.6h0M178.3 288.8h0M69.6 313.7h0M294.0 319.4h0M119.0 313.6h0M148.8 321.1h0M551.4 309.0h0M673.6 322.0h0M646.9 330.5h0M466.2 305.0h0M231.4 328.2h0M118.9 305.0h0M148.4 320.9h0M387.7 337.4h0M279.2 287.4h0M706.0 315.2h0M582.5 326.7h0M354.4 311.9h0M536.4 300.6h0M561.9 325.3h0M502.5 316.3h0M277.7 278.8h0M422.8 284.9h0M293.3 320.4h0M87.1 314.5h0M311.4 318.0h0M131.0 308.0h0M167.8 315.5h0M472.5 298.7h0M469.3 307.4h0M661.4 326.7h0M323.0 319.3h0M291.4 320.3h0M548.0 305.9h0M403.4 320.5h0M580.2 332.9h0M549.6 306.4h0M247.6 338.5h0M693.4 322.2h0M88.4 313.5h0M197.4 278.2h0M100.5 286.3h0M581.3 325.8h0M596.8 332.4h0M392.2 328.5h0M38.4 329.3h0M504.3 311.6h0M440.4 291.0h0M450.7 295.9h0M164.6 325.7h0M562.8 332.3h0M71.4 311.6h0M163.9 317.6h0M644.1 327.7h0M215.5 320.0h0M644.0 322.8h0M664.0 310.9h0M406.5 324.5h0M213.6 316.9h0M451.7 296.3h0M119.5 304.5h0M197.9 276.8h0M675.2 325.4h0M533.8 298.8h0M468.7 311.3h0M227.6 319.3h0M55.9 344.6h0M614.0 315.7h0M439.5 292.5h0M116.1 305.6h0M615.9 326.5h0M232.4 321.0h0M105.1 290.7h0M168.4 321.5h0M197.4 274.4h0M502.9 316.3h0M535.6 302.5h0M244.8 337.6h0M597.9 326.1h0M71.5 316.7h0M36.2 331.9h0M328.8 313.6h0M165.1 327.0h0M163.7 322.2h0M471.6 307.3h0M247.6 333.1h0M579.0 335.8h0M358.8 310.6h0M451.2 306.3h0M483.1 313.7h0M436.0 293.7h0M248.4 327.1h0M182.1 290.8h0M534.9 308.3h0M519.7 275.5h0M710.1 309.4h0M597.7 328.8h0M595.0 320.7h0M706.6 321.2h0M311.6 316.2h0M629.9 330.6h0M499.9 311.9h0M679.2 324.2h0M468.7 296.6h0M210.3 317.2h0M578.2 332.4h0M503.3 307.3h0M438.5 294.0h0M243.2 334.5h0M322.3 312.6h0M500.0 316.1h0M626.5 315.3h0M407.8 325.1h0M561.8 335.6h0M498.6 317.2h0M599.4 329.4h0M628.1 324.6h0M262.9 330.6h0M40.8 336.5h0M712.1 313.8h0M645.0 324.1h0M246.0 330.9h0M486.0 308.5h0M546.1 306.1h0M626.7 329.8h0M470.5 302.0h0M291.4 314.1h0M388.0 324.5h0M374.6 340.8h0M545.6 301.8h0M258.2 339.4h0M294.7 317.0h0M179.0 283.3h0M182.8 287.2h0M582.1 329.8h0M471.7 308.7h0M136.8 315.2h0M483.9 309.6h0M630.6 320.3h0M694.4 330.9h0M210.6 322.5h0M615.5 322.0h0M706.2 312.1h0M216.7 321.9h0M264.5 339.4h0M178.2 279.4h0M693.6 332.8h0M87.3 314.3h0M516.0 268.3h0M55.9 338.6h0M119.3 310.5h0M611.2 323.8h0M582.5 328.7h0M599.4 333.0h0M692.5 322.7h0M646.5 329.2h0M164.7 330.9h0M311.0 321.3h0M481.7 301.4h0M328.0 312.0h0M307.7 317.2h0M502.8 318.5h0M449.9 310.3h0M597.6 320.6h0M642.7 326.4h0M104.1 289.2h0M500.8 320.1h0M642.1 325.9h0M53.7 344.2h0M212.2 321.1h0M83.8 315.1h0M326.8 316.2h0M499.9 311.3h0M274.4 281.5h0M195.4 285.5h0M341.6 309.0h0M373.6 332.1h0M37.2 338.7h0M597.3 327.6h0M503.2 310.4h0M327.6 312.7h0M87.2 316.1h0M387.6 337.9h0M456.3 311.9h0M485.9 314.8h0M503.0 315.3h0M547.5 303.3h0M516.0 277.4h0M51.0 341.0h0M118.6 308.8h0M450.3 308.5h0M440.3 287.1h0M597.0 329.8h0M564.2 331.2h0M450.1 305.3h0M56.4 333.9h0M600.1 330.3h0M231.1 320.3h0M181.9 285.1h0M357.1 316.9h0M663.8 325.3h0M213.4 325.2h0M391.4 332.8h0M534.5 297.7h0M277.7 281.3h0M87.7 317.4h0M643.8 325.3h0M582.3 329.9h0M390.3 328.1h0M434.3 292.7h0M280.0 289.4h0M439.6 291.5h0M550.8 305.0h0M419.1 295.5h0M566.0 333.5h0M520.0 275.9h0M632.0 321.2h0M499.7 316.8h0M344.0 314.3h0M194.1 286.1h0M132.3 314.0h0M35.4 340.8h0M518.5 275.7h0M328.3 311.2h0M690.0 323.0h0M195.5 289.5h0M115.4 301.1h0M82.3 313.5h0M486.0 306.7h0M116.2 301.0h0M199.3 283.4h0M69.6 310.8h0M181.3 285.9h0M615.8 328.6h0M531.3 305.1h0M550.8 305.4h0M98.7 280.8h0M518.2 269.1h0M595.3 332.1h0M497.7 310.9h0M151.7 331.0h0M183.8 284.3h0M101.5 279.5h0M180.1 290.8h0M401.8 317.9h0M260.8 332.2h0M166.7 314.4h0M312.0 318.2h0M309.4 323.7h0M615.7 326.0h0M226.1 326.0h0M53.3 347.6h0M341.9 314.8h0M647.0 326.9h0M417.8 284.2h0M134.3 313.7h0M101.7 285.8h0M246.5 333.9h0M104.6 284.3h0M498.8 316.3h0M310.7 325.6h0M372.7 337.7h0M690.9 321.7h0M440.2 295.1h0M150.4 337.5h0M519.1 271.5h0M706.6 314.6h0M340.6 318.9h0M196.5 281.1h0M198.4 278.6h0M562.1 323.9h0M291.6 325.4h0M339.1 314.1h0M229.9 321.5h0M423.1 290.1h0M405.3 320.8h0M613.4 316.4h0M533.2 299.0h0M151.2 323.7h0M373.8 335.2h0M37.1 342.1h0M231.9 328.4h0M454.6 303.5h0M500.9 318.5h0M515.3 279.4h0M439.1 289.2h0M645.6 326.9h0M406.6 322.8h0M563.0 329.8h0M533.1 297.6h0M503.1 313.0h0M119.7 304.9h0M146.7 327.7h0M422.6 295.7h0M418.9 296.2h0M84.7 313.9h0M680.2 321.9h0M67.0 309.7h0M706.9 312.5h0M36.8 335.0h0M674.2 318.5h0M612.8 324.5h0M311.1 313.6h0M546.1 303.8h0M213.3 313.1h0M404.1 325.5h0M290.2 326.1h0M262.2 336.5h0M135.8 316.4h0M307.0 322.7h0M88.0 306.1h0M167.5 328.3h0M517.0 275.0h0M662.4 324.4h0M518.2 269.2h0M486.9 308.5h0M322.1 316.9h0M566.6 324.6h0M405.1 325.1h0M166.0 317.5h0M503.6 315.3h0M483.2 305.2h0M483.4 311.9h0M677.9 323.5h0M641.6 326.8h0M418.1 294.4h0M518.3 270.9h0M290.9 316.1h0M646.1 320.2h0M294.9 317.6h0M711.6 304.9h0M611.8 332.7h0M597.1 326.5h0M532.2 300.2h0M404.8 323.2h0M693.4 316.2h0M150.9 334.4h0M568.3 328.2h0M263.3 337.2h0M402.5 325.4h0M690.2 321.5h0M549.5 303.5h0M663.4 315.9h0M69.2 316.1h0M88.9 305.2h0M482.9 305.6h0M104.6 281.6h0M565.7 332.9h0M310.9 319.6h0M695.6 310.4h0M322.7 318.1h0M184.0 283.5h0M455.1 300.0h0M406.7 326.9h0M561.6 325.3h0M55.4 340.6h0M370.3 337.6h0M149.7 324.3h0M469.1 310.1h0M662.7 312.1h0M390.3 329.4h0M695.9 337.5h0M71.4 310.7h0M100.5 290.5h0M279.7 286.9h0M609.7 324.9h0M309.5 314.1h0M439.4 294.7h0M514.2 277.5h0M183.1 289.1h0M358.7 315.9h0M325.4 321.8h0M705.7 308.9h0M614.3 321.1h0M386.0 334.3h0M468.7 303.3h0M626.4 324.7h0M371.8 331.3h0M392.2 330.8h0M135.3 319.4h0M456.6 307.9h0M581.4 329.0h0M116.2 309.5h0M711.6 319.6h0M482.0 313.4h0M293.6 311.0h0M454.9 302.0h0M135.7 318.6h0M67.9 311.7h0M247.1 333.2h0M391.9 325.1h0M627.3 321.1h0M82.9 307.2h0M71.4 313.2h0M324.1 313.1h0M594.1 324.6h0M232.3 321.0h0M532.2 310.0h0M35.8 346.7h0M103.2 283.2h0M71.4 318.4h0M435.2 291.3h0M104.7 288.6h0M310.0 324.2h0M70.3 324.6h0M387.5 337.5h0M146.4 323.6h0M136.1 316.7h0M370.6 334.0h0M387.7 323.7h0M148.6 329.9h0M311.7 321.5h0M673.8 319.5h0M439.7 291.1h0M39.4 337.3h0M114.3 313.1h0M392.3 336.5h0M435.4 287.7h0M643.2 320.8h0M677.1 320.9h0M131.9 320.3h0M391.0 334.2h0M118.8 304.9h0M121.0 311.3h0M258.9 336.4h0M195.3 283.4h0M53.0 338.1h0M488.2 311.5h0M358.6 312.8h0M436.9 293.1h0M211.6 313.4h0M51.0 338.6h0M434.0 288.9h0M280.1 284.3h0M689.4 323.1h0M339.0 317.4h0M290.4 323.1h0M152.0 336.8h0M261.8 333.5h0M134.3 321.8h0M434.2 288.5h0M643.2 320.8h0M66.8 311.6h0M434.1 287.8h0M310.6 316.9h0M695.2 316.8h0M86.2 313.2h0M83.3 312.4h0M468.6 303.7h0M150.5 318.0h0M290.0 326.1h0M181.7 290.9h0M370.8 337.9h0M102.0 281.4h0M359.7 310.3h0M344.4 311.3h0M419.1 295.0h0M72.2 311.6h0M628.8 323.3h0M307.4 318.7h0M99.0 289.3h0M36.2 334.9h0M354.0 316.3h0M419.7 290.6h0M133.6 308.0h0M594.3 332.0h0M407.7 326.6h0M260.3 332.6h0M551.4 307.2h0M182.6 281.9h0M615.3 327.2h0M675.1 313.8h0M675.5 318.4h0M482.8 306.5h0M343.5 310.7h0M245.1 333.0h0M647.1 318.7h0M580.1 329.8h0M471.0 307.6h0M102.5 291.5h0M484.3 312.1h0M424.3 287.4h0M486.6 309.7h0M308.0 321.5h0M147.3 339.0h0M642.1 322.4h0M389.5 327.7h0M357.0 315.5h0M402.3 317.2h0M631.3 326.4h0M166.1 329.3h0M647.3 328.5h0M182.7 286.4h0M70.6 312.1h0M39.7 337.8h0M101.4 285.5h0M386.3 330.4h0M35.5 346.5h0M434.7 290.7h0M38.5 342.3h0M482.9 302.7h0M485.4 304.9h0M165.2 321.2h0M103.2 280.3h0M262.9 334.4h0M195.1 281.0h0M198.1 276.4h0M86.4 312.1h0M662.0 321.9h0M358.0 313.3h0M328.5 315.8h0M388.0 331.9h0M120.5 311.4h0M38.2 339.9h0M387.4 337.6h0M374.6 327.0h0M550.4 304.2h0M168.2 326.3h0M211.5 321.7h0M52.3 334.0h0M440.6 294.8h0M503.3 316.7h0M660.1 319.4h0M83.8 312.1h0M689.3 337.9h0M242.3 334.0h0M153.2 320.3h0M546.6 311.1h0M375.5 329.6h0M611.4 314.0h0M243.9 335.4h0M104.9 291.4h0M408.3 320.4h0M291.6 318.3h0M244.6 332.3h0M373.1 328.9h0M691.7 319.3h0M386.5 330.0h0M150.0 334.1h0M450.2 305.4h0M274.0 283.6h0M370.2 332.9h0M485.9 310.4h0M295.2 314.4h0M513.6 274.4h0M675.5 325.7h0M552.1 304.5h0M471.1 311.6h0M466.2 302.1h0M57.2 342.1h0M199.1 293.3h0M566.8 325.6h0M593.6 320.6h0M178.8 284.3h0M467.0 311.7h0M54.7 335.4h0M644.8 326.3h0M693.9 331.4h0M677.6 320.3h0M179.7 283.5h0M663.2 318.3h0M647.5 323.0h0M514.0 274.1h0M228.6 331.2h0M359.9 314.2h0M181.9 290.2h0M456.4 300.4h0M371.9 327.8h0M514.9 272.9h0M259.0 335.1h0M421.5 287.4h0M579.2 326.9h0M306.2 315.2h0M708.0 316.2h0M101.8 288.4h0M373.7 331.6h0M258.2 333.3h0M246.9 336.3h0M136.8 321.8h0M120.2 310.5h0M546.8 305.0h0M167.2 321.7h0M612.7 325.4h0M599.6 328.9h0M534.9 300.4h0M450.8 311.8h0M324.8 321.1h0M422.0 284.7h0M230.3 325.8h0M498.5 313.3h0M228.6 319.2h0M41.3 342.1h0M358.7 311.7h0M501.1 309.5h0M628.6 324.8h0M231.6 330.0h0M662.3 323.7h0M197.2 291.3h0M280.6 281.6h0M691.6 331.9h0M245.8 332.4h0M647.0 319.6h0M631.8 320.5h0M599.6 322.3h0M434.7 293.2h0M151.0 313.3h0M679.6 317.7h0M516.0 277.8h0" stroke="#D8456A" stroke-width="1.5" stroke-linecap="round" stroke-opacity="0.5" fill="none"/>
<path d="M29.10 334.00H34.30V341.48H29.10ZM45.07 336.05H50.27V344.41H45.07ZM61.04 309.80H66.24V315.83H61.04ZM77.02 307.16H82.22V313.76H77.02ZM92.99 280.39H98.19V287.32H92.99ZM108.96 302.47H114.16V310.46H108.96ZM124.93 313.19H130.13V321.13H124.93ZM140.90 316.84H146.10V326.19H140.90ZM156.88 313.50H162.08V325.46H156.88ZM172.85 283.71H178.05V288.75H172.85ZM188.82 282.30H194.02V290.22H188.82ZM204.79 314.64H209.99V322.56H204.79ZM220.76 318.25H225.96V329.07H220.76ZM236.74 330.57H241.94V336.35H236.74ZM252.71 332.02H257.91V337.74H252.71ZM268.68 281.64H273.88V291.03H268.68ZM284.65 316.18H289.85V323.35H284.65ZM300.62 315.52H305.82V322.78H300.62ZM316.60 313.10H321.80V318.38H316.60ZM332.57 310.46H337.77V318.38H332.57ZM348.54 311.56H353.74V319.04H348.54ZM364.51 326.30H369.71V332.79H364.51ZM380.48 326.08H385.68V333.23H380.48ZM396.46 320.58H401.66V326.59H396.46ZM412.43 287.58H417.63V293.59H412.43ZM428.40 287.58H433.60V294.03H428.40ZM444.37 299.79H449.57V306.28H444.37ZM460.34 300.56H465.54V307.03H460.34ZM476.32 303.42H481.52V308.04H476.32ZM492.29 308.48H497.49V314.95H492.29ZM508.26 269.36H513.46V275.88H508.26ZM524.23 296.82H529.43V304.01H524.23ZM540.20 300.41H545.40V306.94H540.20ZM556.18 323.31H561.38V331.25H556.18ZM572.15 327.62H577.35V334.13H572.15ZM588.12 326.52H593.32V336.29H588.12ZM604.09 322.56H609.29V329.07H604.09ZM620.06 319.92H625.26V328.57H620.06ZM636.04 321.35H641.24V329.29H636.04ZM652.01 315.59H657.21V322.12H652.01ZM667.98 316.31H673.18V322.34H667.98ZM683.95 320.65H689.15V330.70H683.95ZM699.92 310.46H705.12V319.92H699.92Z" stroke="#1C6C79" stroke-width="1.2" fill="#fff" fill-opacity="0.68"/>
<path d="M29.10 338.62H34.30M45.07 340.07H50.27M61.04 312.35H66.24M77.02 309.80H82.22M92.99 283.71H98.19M108.96 306.06H114.16M124.93 317.50H130.13M140.90 321.90H146.10M156.88 318.97H162.08M172.85 286.26H178.05M188.82 285.86H194.02M204.79 320.14H209.99M220.76 324.03H225.96M236.74 333.47H241.94M252.71 334.44H257.91M268.68 285.25H273.88M284.65 319.74H289.85M300.62 317.72H305.82M316.60 315.52H321.80M332.57 314.42H337.77M348.54 316.93H353.74M364.51 329.49H369.71M380.48 330.92H385.68M396.46 324.14H401.66M412.43 291.10H417.63M428.40 291.54H433.60M444.37 304.56H449.57M460.34 303.71H465.54M476.32 305.62H481.52M492.29 312.07H497.49M508.26 272.97H513.46M524.23 300.12H529.43M540.20 303.29H545.40M556.18 329.07H561.38M572.15 330.81H577.35M588.12 331.25H593.32M604.09 326.96H609.29M620.06 324.23H625.26M636.04 326.41H641.24M652.01 318.47H657.21M667.98 319.26H673.18M683.95 325.64H689.15M699.92 315.59H705.12" stroke="#1C6C79" stroke-width="1.35" fill="none"/>
<path d="M35.30 335.45H40.50V341.48H35.30ZM51.27 335.45H56.47V342.67H51.27ZM67.24 309.47H72.44V315.30H67.24ZM83.22 309.47H88.42V314.86H83.22ZM99.19 282.30H104.39V288.75H99.19ZM115.16 303.49H120.36V311.12H115.16ZM131.13 315.37H136.33V321.57H131.13ZM147.10 316.09H152.30V328.35H147.10ZM163.08 316.84H168.28V327.62H163.08ZM179.05 283.71H184.25V290.22H179.05ZM195.02 280.80H200.22V288.02H195.02ZM210.99 316.84H216.19V323.31H210.99ZM226.96 320.43H232.16V328.35H226.96ZM242.94 331.29H248.14V337.37H242.94ZM258.91 333.03H264.11V337.74H258.91ZM274.88 282.37H280.08V287.43H274.88ZM290.85 316.62H296.05V323.35H290.85ZM306.82 316.49H312.02V321.68H306.82ZM322.80 313.10H328.00V318.38H322.80ZM338.77 311.12H343.97V316.93H338.77ZM354.74 312.22H359.94V317.35H354.74ZM370.71 330.70H375.91V336.42H370.71ZM386.68 327.75H391.88V334.00H386.68ZM402.66 321.24H407.86V327.03H402.66ZM418.63 287.58H423.83V293.08H418.63ZM434.60 288.24H439.80V293.30H434.60ZM450.57 300.23H455.77V307.45H450.57ZM466.54 301.66H471.74V308.48H466.54ZM482.52 304.56H487.72V311.34H482.52ZM498.49 309.91H503.69V317.85H498.49ZM514.46 270.86H519.66V276.58H514.46ZM530.43 298.25H535.63V304.74H530.43ZM546.40 302.54H551.60V308.35H546.40ZM562.38 325.86H567.58V331.67H562.38ZM578.35 327.93H583.55V333.41H578.35ZM594.32 322.56H599.52V330.52H594.32ZM610.29 320.43H615.49V329.07H610.29ZM626.26 319.48H631.46V328.57H626.26ZM642.24 322.78H647.44V328.57H642.24ZM658.21 314.57H663.41V324.98H658.21ZM674.18 317.72H679.38V323.22H674.18ZM690.15 322.12H695.35V335.76H690.15ZM706.12 310.46H711.32V318.47H706.12Z" stroke="#871828" stroke-width="1.2" fill="#fff" fill-opacity="0.68"/>
<path d="M35.30 337.48H40.50M51.27 339.79H56.47M67.24 312.66H72.44M83.22 312.22H88.42M99.19 285.86H104.39M115.16 307.51H120.36M131.13 318.69H136.33M147.10 323.31H152.30M163.08 324.45H168.28M179.05 286.88H184.25M195.02 284.41H200.22M210.99 320.43H216.19M226.96 325.42H232.16M242.94 334.22H248.14M258.91 335.34H264.11M274.88 284.81H280.08M290.85 320.47H296.05M306.82 318.64H312.02M322.80 315.96H328.00M338.77 314.02H343.97M354.74 314.75H359.94M370.71 333.23H375.91M386.68 331.36H391.88M402.66 324.87H407.86M418.63 290.00H423.83M434.60 290.88H439.80M450.57 304.56H455.77M466.54 305.62H471.74M482.52 308.48H487.72M498.49 313.54H503.69M514.46 274.16H519.66M530.43 301.88H535.63M546.40 305.03H551.60M562.38 328.79H567.58M578.35 330.52H583.55M594.32 326.19H599.52M610.29 324.10H615.49M626.26 323.53H631.46M642.24 324.98H647.44M658.21 317.50H663.41M674.18 320.91H679.38M690.15 326.41H695.35M706.12 314.57H711.32" stroke="#871828" stroke-width="1.35" fill="none"/>
<path d="M652.8 314.1h0M109.8 302.0h0M288.6 326.4h0M240.9 328.9h0M367.5 334.7h0M268.0 290.2h0M77.1 308.5h0M685.3 324.1h0M412.0 286.7h0M130.9 317.5h0M701.9 307.3h0M65.7 308.3h0M428.3 292.5h0M338.4 311.7h0M543.2 300.8h0M607.3 331.5h0M395.6 324.4h0M347.9 316.8h0M603.8 331.0h0M636.4 329.0h0M415.5 290.6h0M430.8 288.0h0M416.4 288.3h0M703.8 322.9h0M207.4 315.3h0M640.0 327.6h0M477.0 304.3h0M590.7 315.5h0M161.6 307.0h0M381.0 325.9h0M50.5 345.8h0M574.9 329.7h0M526.6 305.5h0M34.5 332.8h0M286.2 319.3h0M578.2 335.0h0M432.6 294.2h0M667.7 318.1h0M333.2 324.5h0M639.8 326.9h0M542.7 302.5h0M142.4 310.5h0M560.3 331.7h0M431.9 296.6h0M191.7 278.5h0M175.1 283.9h0M542.1 309.1h0M493.7 316.8h0M382.3 332.8h0M237.3 339.0h0M190.6 281.9h0M318.9 314.1h0M683.7 325.7h0M481.0 303.7h0M592.7 323.3h0M670.4 320.8h0M143.1 314.9h0M289.7 324.0h0M220.3 320.4h0M162.1 316.8h0M34.6 330.5h0M495.1 312.1h0M336.6 305.5h0M141.0 327.7h0M160.0 315.7h0M175.8 283.6h0M443.6 305.6h0M222.3 331.1h0M333.8 317.5h0M332.0 311.1h0M433.3 297.6h0M82.7 307.9h0M525.2 290.7h0M78.0 302.6h0M574.9 332.8h0M699.5 310.9h0M109.5 311.1h0M130.6 320.1h0M415.7 286.6h0M640.5 324.8h0M498.2 313.8h0M525.1 304.7h0M337.6 311.8h0M591.9 334.9h0M523.9 307.6h0M686.8 332.2h0M416.4 294.8h0M402.2 326.4h0M363.6 333.8h0M560.2 327.3h0M669.1 320.3h0M577.5 334.4h0M412.6 290.2h0M189.5 290.1h0M145.7 317.1h0M61.1 309.6h0M49.4 342.7h0M498.3 312.0h0M556.4 317.6h0M257.1 333.7h0M237.8 334.5h0M80.3 304.1h0M508.9 279.3h0M177.8 283.2h0M64.5 316.1h0M208.3 313.8h0M620.6 331.2h0M512.0 272.4h0M572.0 326.6h0M289.2 320.7h0M431.6 297.0h0M577.1 329.8h0M684.0 336.4h0M449.2 303.3h0M31.8 340.1h0M603.4 323.0h0M364.9 338.8h0M194.7 282.6h0M239.1 331.6h0M240.6 328.1h0M113.5 309.0h0M399.1 322.7h0M606.9 326.3h0M113.2 312.5h0M61.0 308.8h0M397.9 320.7h0M31.3 330.1h0M495.3 317.8h0M316.6 320.8h0M701.0 306.6h0M561.2 333.3h0M237.1 331.1h0M191.7 294.5h0M530.1 295.3h0M158.0 318.0h0M140.2 305.7h0M241.4 330.4h0M417.4 286.3h0M540.3 311.3h0M653.7 321.7h0M83.1 305.2h0M239.9 329.8h0M433.1 286.3h0M513.4 266.8h0M271.1 291.9h0M561.5 331.9h0M609.4 325.0h0M491.9 305.7h0M433.7 283.0h0M572.2 319.9h0M541.3 301.6h0M209.1 325.7h0M657.0 320.2h0M703.1 308.0h0M226.1 310.5h0M523.4 296.9h0M256.2 335.9h0M416.4 283.8h0M96.1 279.3h0M156.4 313.8h0M448.7 301.2h0M625.8 329.7h0M271.9 297.5h0M609.4 326.3h0M683.5 319.4h0M113.0 310.6h0M208.7 323.3h0M273.1 277.8h0M560.0 322.7h0M402.3 326.8h0M411.8 291.3h0M224.0 315.3h0M688.3 332.0h0M65.9 315.0h0M174.5 293.0h0M301.6 318.7h0M238.3 331.6h0M674.0 319.5h0M130.3 314.3h0M144.9 329.5h0M444.9 305.9h0M114.2 308.1h0M555.7 320.0h0M428.0 293.5h0M242.4 334.5h0M620.5 329.3h0M508.6 275.3h0M574.0 333.2h0M529.0 306.6h0M34.7 332.4h0M220.8 309.8h0M254.9 334.9h0M270.3 290.7h0M79.5 311.4h0M208.7 323.3h0M284.7 321.9h0M478.7 305.6h0M465.2 308.3h0M369.8 329.2h0M430.5 294.4h0M477.9 305.5h0M300.0 317.5h0M108.4 298.1h0M507.8 270.1h0M463.6 305.3h0M526.9 304.7h0M465.7 300.5h0M83.1 310.2h0M284.6 319.9h0M653.7 317.3h0M417.4 286.4h0M494.2 316.2h0M337.4 318.2h0M306.5 321.3h0M77.0 310.9h0M592.5 332.8h0M572.5 332.8h0M239.3 330.5h0M555.5 328.1h0M272.1 288.7h0M527.4 297.6h0M350.8 317.4h0M495.6 312.7h0M178.6 286.0h0M306.5 316.9h0M125.2 319.5h0M160.1 325.0h0M524.3 296.6h0M523.3 292.2h0M142.0 331.3h0M432.4 293.1h0M78.4 305.1h0M46.7 341.5h0M606.7 333.1h0M576.9 329.3h0M514.3 273.8h0M32.6 341.0h0M226.1 320.9h0M272.7 289.4h0M271.9 295.0h0M352.5 321.5h0M619.2 327.3h0M513.0 271.8h0M235.9 335.0h0M511.1 282.5h0M572.9 327.1h0M239.7 336.3h0M348.8 314.7h0M571.9 334.8h0M651.2 319.8h0M494.0 309.2h0M493.8 312.3h0M555.7 335.0h0M354.3 317.6h0M93.8 280.8h0M588.4 332.8h0M350.7 312.3h0M641.2 321.8h0M588.5 318.6h0M382.3 336.8h0M651.7 325.4h0M97.5 283.8h0M673.4 311.4h0M508.0 279.6h0M114.2 297.8h0M221.5 332.4h0M96.7 284.3h0M433.4 290.6h0M270.9 293.8h0M286.3 314.2h0M603.3 325.8h0M529.0 305.9h0M156.5 319.1h0M369.7 331.9h0M623.5 320.5h0M172.4 282.9h0M334.0 316.5h0M669.0 314.9h0M448.0 299.7h0M300.7 324.8h0M560.4 336.7h0M540.0 302.1h0M463.5 300.1h0M703.3 308.0h0M268.1 278.3h0M526.9 304.1h0M108.6 310.5h0M541.5 308.4h0M177.7 286.4h0M129.9 325.6h0M398.3 319.5h0M335.6 305.6h0M322.5 319.3h0M671.6 321.8h0M144.0 322.1h0M109.0 303.6h0M286.4 315.9h0M641.3 326.6h0M380.0 337.6h0M128.1 317.6h0M144.8 318.8h0M242.4 338.4h0M300.0 323.0h0M284.6 324.7h0M92.7 288.8h0M588.6 325.9h0M508.5 275.9h0M449.9 302.4h0M428.2 282.8h0M32.8 335.4h0M221.0 324.3h0M433.9 293.6h0M605.7 327.8h0M610.0 323.8h0M300.5 315.9h0M494.1 320.3h0M577.9 331.9h0M143.3 325.9h0M461.9 305.4h0M703.2 320.7h0M577.3 322.8h0M304.1 318.7h0M559.6 331.4h0M253.6 333.2h0M175.5 282.1h0M480.9 307.0h0M560.5 326.7h0M50.7 341.2h0M162.7 312.7h0M702.1 320.4h0M242.0 332.1h0M306.5 312.5h0M508.1 266.0h0M592.3 336.3h0M701.9 322.8h0M114.0 299.0h0M400.7 321.2h0M480.9 307.2h0M28.3 336.4h0M623.4 328.8h0M702.7 314.7h0M156.0 319.1h0M705.9 321.9h0M545.4 308.3h0M162.6 331.0h0M238.6 331.3h0M557.8 334.8h0M514.2 267.1h0M172.0 291.1h0M401.5 325.0h0M128.5 319.9h0M689.3 310.6h0M673.9 323.8h0M386.5 332.7h0M350.9 312.9h0M556.6 328.1h0M254.0 337.3h0M335.0 316.6h0M573.3 321.8h0M512.3 271.1h0M669.5 319.8h0M497.3 319.0h0M316.4 315.6h0M416.6 286.9h0M29.5 337.1h0M288.2 321.2h0M445.3 301.7h0M113.8 309.1h0M604.3 331.3h0M529.3 298.1h0M305.0 314.7h0M222.8 325.0h0M349.6 319.2h0M688.7 329.1h0M539.3 311.3h0M81.7 310.2h0M114.5 308.1h0M273.0 292.8h0M604.4 324.8h0M412.8 288.2h0M146.4 324.5h0M588.6 326.3h0M370.5 329.8h0M655.0 320.1h0M240.3 333.9h0M257.6 333.3h0M268.7 279.0h0M699.6 309.5h0M684.3 327.7h0M448.4 310.2h0M622.0 324.8h0M493.7 306.1h0M190.0 285.4h0M269.1 282.4h0M114.1 304.7h0M191.9 295.0h0M32.5 331.2h0M417.4 287.0h0M192.2 286.9h0M380.0 337.1h0M668.4 322.0h0M189.1 286.1h0M34.8 342.8h0M673.3 321.8h0M146.1 323.8h0M46.4 346.5h0M306.0 320.7h0M556.4 323.3h0M395.6 330.6h0M704.3 309.6h0M209.6 324.2h0M301.6 318.4h0M668.5 313.0h0M177.9 285.7h0M459.8 307.0h0M402.5 321.0h0M543.0 304.9h0M459.4 306.7h0M668.4 322.3h0M143.5 320.5h0M34.5 341.3h0M365.4 328.6h0M561.0 331.9h0M653.0 319.0h0M673.3 316.6h0M92.2 288.1h0M636.5 328.5h0M557.1 336.0h0M476.8 301.8h0M173.4 292.8h0M479.9 304.1h0M668.9 322.4h0M77.3 313.7h0M272.0 291.0h0M269.6 284.6h0M210.0 320.9h0M524.9 302.1h0M161.2 337.5h0M673.2 322.4h0M464.3 311.4h0M624.8 325.2h0M687.1 331.0h0M619.3 322.4h0M93.7 287.1h0M79.0 302.8h0M110.6 308.1h0M255.3 331.5h0M464.8 296.5h0M50.1 350.6h0M160.1 320.8h0M656.5 316.2h0M289.8 319.5h0M476.9 308.1h0M462.8 298.5h0M273.2 283.2h0M147.0 321.6h0M657.3 310.6h0M256.7 337.4h0M49.4 344.3h0M93.2 284.1h0M258.3 335.9h0M702.4 326.6h0M76.1 305.7h0M416.2 293.2h0M66.3 307.7h0M513.2 272.7h0M321.4 313.9h0M700.7 309.8h0M575.0 330.9h0M385.3 330.7h0M431.1 285.4h0M81.9 304.2h0M177.9 287.9h0M431.3 286.6h0M161.6 308.8h0M556.3 332.4h0M284.1 314.9h0M462.1 303.2h0M445.9 309.3h0M413.1 288.9h0M112.5 304.0h0M109.0 314.4h0M112.1 305.7h0M48.4 330.7h0M157.7 309.0h0M92.2 283.2h0M44.6 344.8h0M492.7 317.4h0M637.3 322.9h0M321.0 321.0h0M368.6 329.9h0M333.6 309.9h0M62.4 309.5h0M412.9 295.1h0M125.6 329.6h0M540.6 309.8h0M529.7 303.9h0M683.3 332.1h0M322.3 311.5h0M159.7 315.2h0M270.5 277.6h0M82.5 303.8h0M208.2 323.4h0M686.9 327.6h0M143.6 319.8h0M49.8 343.7h0M657.1 313.2h0M82.3 306.1h0M284.1 310.2h0M189.4 280.1h0M525.4 295.0h0M337.5 315.3h0M159.2 322.4h0M523.5 300.6h0M63.1 306.6h0M427.7 296.9h0M113.3 301.8h0M126.6 327.8h0M562.1 315.8h0M173.1 282.8h0M177.0 292.1h0M673.2 322.1h0M50.1 345.2h0M48.3 335.6h0M561.4 331.7h0M496.7 307.8h0M322.0 318.6h0M687.1 316.9h0M528.0 299.2h0M478.9 306.5h0M492.2 310.6h0M558.5 331.3h0M529.5 304.9h0M561.9 328.8h0M34.9 333.0h0M349.7 308.2h0M428.4 289.9h0M366.4 332.0h0M413.8 292.6h0M463.2 296.6h0M220.6 315.1h0M577.5 328.7h0M703.6 315.6h0M353.8 315.8h0M225.3 318.5h0M699.4 307.3h0M526.4 301.8h0M172.7 289.7h0M688.1 335.6h0M206.9 317.3h0M461.5 304.7h0M252.0 339.7h0M220.3 312.6h0M369.4 329.2h0M353.5 319.0h0M540.5 301.2h0M109.1 316.8h0M140.9 307.6h0M127.7 312.0h0M401.7 324.3h0M158.5 322.0h0M353.5 316.2h0M242.7 335.7h0M704.0 308.4h0M338.2 309.3h0M44.5 328.3h0M306.3 319.5h0M669.9 312.4h0M140.4 325.5h0M144.6 319.0h0M286.9 317.8h0M497.0 311.2h0M431.2 288.7h0M603.5 327.7h0M115.0 316.1h0M492.8 316.8h0M417.8 290.4h0M370.1 325.4h0M353.8 316.3h0M443.7 303.7h0M625.3 327.1h0M224.4 326.8h0M108.8 301.3h0M556.0 329.0h0M412.1 291.5h0M402.1 325.4h0M704.0 311.3h0M61.9 315.7h0M592.9 327.9h0M31.6 339.7h0M29.8 338.3h0M190.7 289.7h0M95.0 278.1h0M577.1 332.9h0M209.9 323.2h0M64.2 312.0h0M622.4 321.4h0M381.6 324.8h0M114.9 311.5h0M493.5 307.3h0M527.1 295.8h0M541.8 307.8h0M125.4 310.9h0M668.0 316.1h0M210.8 315.6h0M446.8 303.7h0M65.5 312.3h0M188.1 285.3h0M448.5 298.8h0M610.1 325.4h0M623.7 326.1h0M98.4 285.0h0M124.5 309.1h0M61.3 307.0h0M34.6 330.9h0M206.3 324.6h0M317.3 314.1h0M60.4 302.4h0M175.4 287.1h0M65.1 312.0h0M545.2 312.4h0M364.2 332.5h0M66.7 308.2h0M589.0 328.7h0M381.1 335.2h0M224.6 328.8h0M446.5 306.4h0M443.7 299.0h0M225.6 329.1h0M380.0 336.7h0M158.7 318.4h0M702.1 318.0h0M590.3 335.2h0M365.3 329.7h0M224.1 311.5h0M257.3 338.2h0M590.5 339.6h0M99.0 280.8h0M223.7 314.5h0M622.8 311.5h0M508.8 278.9h0M544.7 308.0h0M334.5 313.0h0M94.0 283.4h0M606.9 325.3h0M557.0 335.9h0M444.9 305.9h0M640.0 327.5h0M144.1 324.9h0M331.8 314.0h0M622.7 332.3h0M703.9 317.6h0M573.2 336.5h0M494.2 312.8h0M306.1 317.6h0M525.0 304.3h0M284.4 323.7h0M303.4 316.1h0M672.6 317.4h0M174.0 284.3h0M96.9 285.1h0M210.7 317.1h0M609.3 331.6h0M492.4 310.4h0M173.2 282.2h0M93.5 283.8h0M481.6 304.9h0M543.1 304.3h0M161.9 324.2h0M206.3 310.5h0M641.5 333.4h0M192.4 290.6h0M446.5 307.4h0M495.3 312.0h0M193.9 287.2h0M193.8 287.7h0M701.3 325.0h0M220.5 323.2h0M306.2 320.2h0M32.2 342.5h0M30.7 326.8h0M60.5 314.4h0M637.2 325.3h0M350.9 311.5h0M623.4 326.7h0M140.9 317.4h0M316.5 317.6h0M206.3 316.9h0M144.0 323.7h0M129.0 316.5h0M576.2 331.7h0M480.1 311.6h0M653.2 319.5h0M321.1 313.5h0M699.7 318.4h0M268.6 285.5h0M382.7 333.9h0M589.6 333.0h0M336.7 310.7h0M113.4 298.8h0M545.6 302.9h0M34.7 343.0h0M635.6 318.4h0M523.9 299.2h0M349.3 315.2h0M287.9 328.6h0M482.2 302.6h0M511.9 265.3h0M573.2 330.9h0M396.3 331.0h0M427.8 283.1h0M577.7 327.1h0M494.9 313.1h0M318.8 312.3h0M494.8 315.0h0M464.2 303.0h0M316.4 314.0h0M112.6 308.0h0M251.8 332.2h0M544.1 306.0h0M413.2 293.4h0M32.3 343.5h0M189.7 289.7h0M172.0 284.1h0M653.1 318.5h0M129.1 305.2h0M400.5 330.7h0M400.7 330.3h0M130.0 318.0h0M33.5 337.6h0M562.2 335.7h0M146.4 327.0h0M385.0 337.8h0M491.8 317.4h0M270.3 276.1h0M142.5 327.7h0M335.8 312.6h0M671.3 311.9h0M319.4 314.5h0M286.8 313.2h0M575.3 333.3h0M701.9 313.4h0M539.7 308.3h0M543.3 300.6h0M496.6 314.8h0M562.0 327.8h0M477.1 303.9h0M667.5 322.3h0M143.3 311.9h0M448.0 302.3h0M683.9 332.7h0M300.4 316.6h0M689.7 326.0h0M592.7 329.0h0M44.5 343.2h0M336.8 320.3h0M332.2 321.3h0M62.5 303.6h0M686.4 332.0h0M480.4 312.5h0M240.4 333.1h0M658.0 319.8h0M207.6 321.6h0M494.4 306.6h0M588.3 324.0h0M235.9 337.6h0M317.6 313.0h0M639.8 329.8h0M684.3 326.5h0M142.8 329.2h0M657.6 321.3h0M112.4 314.5h0M384.9 328.6h0M673.0 323.8h0M50.5 330.4h0M29.2 339.8h0M396.0 330.0h0M316.8 315.4h0M399.5 325.1h0M496.1 309.3h0M673.3 323.3h0M639.8 332.7h0M684.4 322.6h0M241.1 336.8h0M523.6 305.7h0M654.6 322.7h0M587.4 325.4h0M397.8 329.5h0M159.0 316.3h0M635.6 324.7h0M401.6 321.9h0M157.8 306.1h0M367.9 329.3h0M541.0 302.4h0M429.1 291.9h0M63.5 315.1h0M604.2 327.9h0M140.9 317.4h0M286.8 320.5h0M545.7 303.6h0M268.5 291.6h0M495.5 314.0h0M221.7 314.8h0M129.7 325.5h0M352.8 316.9h0M668.3 314.4h0M270.5 280.7h0M351.0 321.1h0M317.2 314.5h0M130.0 320.6h0M222.3 320.4h0M574.7 332.3h0M637.3 323.3h0M572.0 334.0h0M81.8 309.0h0M205.2 320.3h0M464.3 303.3h0M368.1 331.9h0M270.6 277.9h0M335.4 314.0h0M603.7 333.6h0M511.5 266.5h0M48.3 347.7h0M270.3 287.9h0M609.6 327.8h0M252.4 335.3h0M141.5 324.7h0M174.3 284.1h0M497.1 314.6h0M464.8 300.0h0M654.4 326.3h0M318.0 319.5h0M635.9 319.3h0M637.5 330.8h0M47.9 351.2h0M510.9 279.6h0M190.2 283.8h0M174.8 287.2h0M508.4 276.5h0M429.7 297.7h0M495.0 312.1h0M82.8 309.3h0M270.3 288.6h0M238.9 330.6h0M380.6 327.8h0M49.6 346.6h0M610.0 332.3h0M417.6 292.2h0M654.8 321.8h0M80.1 307.0h0M701.0 320.4h0M65.5 307.4h0M158.6 302.2h0M145.0 317.1h0M590.6 342.2h0M637.5 324.2h0M156.3 328.6h0M416.2 285.7h0M684.2 324.0h0M705.7 309.6h0M267.8 293.9h0M560.3 332.9h0M544.7 298.5h0M317.8 320.3h0M240.0 331.3h0M333.0 323.7h0M304.0 326.1h0M336.1 314.8h0M608.2 333.9h0M557.8 318.8h0M688.4 328.9h0M238.0 335.5h0M158.7 316.1h0M31.8 332.6h0M542.9 305.7h0M622.3 316.3h0M287.5 322.8h0M174.7 282.7h0M221.7 316.1h0M82.0 306.3h0M572.6 330.7h0M239.9 330.7h0M255.1 336.2h0M351.3 318.7h0M366.8 326.8h0M671.1 321.3h0M640.1 326.8h0M625.0 323.1h0M302.6 317.6h0M572.1 323.1h0M241.9 333.6h0M591.9 328.7h0M81.2 307.0h0M49.6 330.6h0M271.4 284.0h0M687.1 331.6h0M479.1 303.2h0M619.6 331.3h0M431.2 291.9h0M130.7 308.4h0M668.0 325.8h0M509.6 279.7h0M370.4 327.1h0M77.3 303.9h0M63.3 313.2h0M413.7 295.2h0M382.3 333.7h0M306.3 313.4h0M94.7 283.1h0M605.5 329.6h0M684.3 335.6h0M480.1 302.3h0M667.3 315.9h0M318.2 316.9h0M539.7 309.8h0M443.5 300.6h0M383.5 329.0h0M544.8 306.3h0M61.1 313.5h0M127.0 317.7h0M208.3 325.2h0M625.5 331.2h0M62.7 319.7h0M207.1 318.0h0M126.6 320.0h0M236.5 337.5h0M160.1 315.3h0M289.1 326.5h0M541.1 303.8h0M494.9 303.7h0M364.5 327.6h0M78.0 310.9h0M542.8 304.0h0M667.6 315.5h0M479.2 299.9h0M306.1 320.9h0M368.3 332.7h0M364.2 335.7h0M66.3 309.6h0M481.2 304.8h0M125.8 317.0h0M269.1 279.8h0M110.3 304.5h0M177.5 289.6h0M588.2 330.2h0M673.2 323.9h0M306.5 328.0h0M190.2 277.9h0M607.7 330.0h0M432.4 297.4h0M83.0 307.4h0M623.0 323.1h0M129.5 315.5h0M223.5 325.1h0M593.2 336.7h0M63.4 310.7h0M270.2 292.4h0M685.1 313.7h0M210.5 324.8h0M429.6 291.1h0M205.7 315.1h0M593.2 324.0h0M608.0 327.5h0M161.8 324.2h0M445.2 302.9h0M684.2 319.7h0M529.6 305.1h0M638.3 324.7h0M562.2 332.0h0M271.4 276.4h0M688.0 327.5h0M433.9 289.4h0M400.7 331.4h0M445.9 304.5h0M34.1 342.2h0M160.0 317.3h0M143.8 310.5h0M157.5 319.5h0M365.5 332.8h0M413.4 290.7h0M399.4 324.3h0M396.1 330.7h0M447.5 299.1h0M513.5 271.5h0M383.4 334.1h0M32.6 333.5h0M431.4 293.3h0M684.5 328.7h0M189.6 288.9h0M77.4 313.6h0M673.1 319.8h0M385.7 330.2h0M192.7 278.4h0M46.6 348.9h0M683.1 326.7h0M65.9 314.2h0M317.9 311.0h0M494.8 314.3h0M689.3 327.6h0M368.0 322.9h0M241.9 332.4h0M461.7 305.9h0M159.2 328.1h0M222.3 322.0h0M604.0 323.5h0M162.0 328.6h0M620.6 323.8h0M96.3 288.7h0M462.8 308.4h0M112.6 309.4h0M143.2 324.3h0M60.9 315.2h0M624.7 312.0h0M509.1 266.7h0M448.8 311.3h0M428.1 286.0h0M575.5 331.3h0M399.7 332.9h0M207.9 314.2h0M621.1 326.8h0M29.6 341.3h0M96.7 277.8h0M353.0 318.7h0M605.7 325.1h0M353.5 325.4h0M465.1 300.0h0M127.2 314.8h0M685.2 326.4h0M46.6 338.1h0M189.4 277.9h0M493.9 309.8h0M172.7 290.1h0M192.4 280.5h0M638.9 334.4h0M688.1 331.6h0M557.0 327.8h0M641.4 326.2h0M44.2 340.9h0M619.3 315.5h0M127.6 317.9h0M49.5 346.3h0M656.9 312.9h0M258.1 334.7h0M318.3 317.2h0M417.3 286.5h0M384.6 330.8h0M654.3 318.3h0M240.0 335.7h0M126.5 317.5h0M209.3 321.3h0M607.0 303.9h0M140.4 320.7h0M385.7 336.4h0M177.9 285.7h0M350.8 315.7h0M287.0 313.1h0M508.5 267.8h0M354.4 321.2h0M237.1 335.5h0M416.3 292.3h0M288.9 317.7h0M476.4 311.4h0M480.1 302.5h0M127.5 315.4h0M254.1 331.1h0M636.3 321.3h0M239.9 328.8h0M63.5 306.5h0M46.9 333.9h0M401.5 318.9h0M381.3 325.6h0M97.8 286.9h0M539.9 302.2h0M239.5 337.0h0M668.4 324.6h0M257.7 334.6h0M366.3 329.9h0M110.4 311.7h0M67.1 308.6h0M320.8 318.7h0M32.9 342.0h0M112.2 298.4h0M704.7 325.6h0M668.6 317.1h0M156.0 305.6h0M672.3 322.5h0M384.0 322.1h0M252.3 335.5h0M558.7 336.7h0M124.6 324.0h0M142.3 322.8h0M352.8 313.4h0M556.5 331.7h0M30.5 333.5h0M364.9 322.4h0M125.2 319.9h0M478.5 309.0h0M113.4 308.5h0M460.2 303.3h0M144.7 328.5h0M224.9 322.6h0M114.8 307.2h0M205.7 314.9h0M508.9 278.2h0M174.0 285.5h0M701.6 318.4h0M34.4 337.4h0M44.4 336.6h0M447.3 299.8h0M621.3 316.2h0M592.2 326.9h0M703.3 314.7h0M304.8 324.4h0M430.0 295.9h0M98.6 282.2h0M573.6 326.8h0M77.1 310.2h0M514.0 272.3h0M415.4 295.3h0M446.8 302.1h0M352.1 319.8h0M402.0 332.4h0M689.6 331.6h0M479.7 306.7h0M142.2 323.5h0M461.5 301.6h0M640.0 324.8h0M31.4 336.4h0M76.9 307.7h0M191.1 283.3h0M110.3 294.8h0M512.5 278.8h0M512.2 276.0h0M463.9 301.4h0M701.5 319.3h0M514.0 269.8h0M47.4 341.6h0M188.5 289.3h0M114.0 297.9h0M577.9 331.3h0M588.7 325.0h0M668.4 325.3h0M396.3 332.7h0M368.9 333.6h0M127.9 311.3h0M335.8 316.1h0M336.6 314.9h0M141.5 315.5h0M449.5 305.6h0M493.6 313.5h0M381.4 339.2h0M320.4 317.2h0M224.4 329.8h0M478.7 301.8h0M512.3 276.1h0M508.1 276.7h0M207.2 327.4h0M268.7 286.4h0M353.4 318.4h0M478.1 306.3h0M590.9 318.1h0M702.2 305.7h0M530.0 301.1h0M62.8 307.1h0M560.4 317.2h0M48.2 333.3h0M493.5 309.1h0M575.0 330.8h0M207.8 321.9h0M687.7 318.8h0M353.1 318.5h0M79.5 311.2h0M428.3 289.4h0M635.5 318.4h0M317.1 309.0h0M491.4 309.6h0M174.6 287.4h0M657.7 322.0h0M285.9 319.4h0M190.1 287.0h0M82.0 303.6h0M672.5 316.6h0M416.9 287.7h0M608.7 323.9h0M417.6 292.1h0M704.4 318.5h0M205.3 315.9h0M238.5 331.2h0M240.5 330.5h0M398.1 324.6h0M525.9 291.1h0M162.0 315.0h0M130.3 329.7h0M397.3 321.3h0M604.0 328.0h0M63.1 309.7h0M482.3 299.6h0M286.0 324.5h0M542.0 301.0h0M193.7 292.1h0M223.4 326.3h0M672.1 321.6h0M253.0 339.1h0M466.0 308.2h0M33.4 336.7h0M209.2 314.7h0M556.9 323.3h0M188.3 285.8h0M127.9 318.4h0M191.9 287.7h0M619.6 321.2h0M174.6 287.5h0M31.1 340.2h0M174.7 291.6h0M47.0 342.7h0M157.3 306.9h0M128.4 325.4h0M689.2 327.9h0M109.0 315.8h0M332.1 306.0h0M603.9 331.3h0M31.6 328.2h0M416.4 295.7h0M559.8 333.6h0M370.5 333.1h0M66.3 308.8h0M47.2 346.6h0M464.0 306.1h0M528.8 306.1h0M46.1 347.0h0M318.9 310.8h0M653.9 320.4h0M303.6 319.1h0M65.3 311.5h0M589.2 329.9h0M301.0 317.6h0M349.2 315.5h0M108.2 308.2h0M400.2 331.6h0M605.3 331.5h0M432.9 285.8h0M638.0 317.7h0M428.0 286.0h0M591.2 323.9h0M113.9 303.6h0M255.4 339.3h0M560.3 325.1h0M636.7 330.7h0M125.8 310.0h0M525.0 303.8h0M161.6 310.7h0M146.8 321.6h0M193.9 293.5h0M63.1 314.0h0M366.1 330.9h0M144.6 320.8h0M284.4 323.7h0M317.4 315.6h0M593.5 337.7h0M252.6 334.5h0M63.7 304.4h0M32.4 346.7h0M226.3 317.7h0M130.5 316.1h0M476.5 308.7h0M656.8 319.3h0M652.0 310.6h0M240.0 333.3h0M365.6 328.3h0M669.1 321.8h0M655.8 325.5h0M178.3 288.7h0M129.0 315.7h0M126.2 322.8h0M252.0 335.6h0M255.6 335.2h0M204.2 324.5h0M322.1 310.6h0M81.0 310.2h0M640.1 322.5h0M162.5 327.8h0M124.1 320.8h0M593.6 325.6h0M385.7 332.1h0M384.8 329.0h0M434.1 289.1h0M686.1 332.3h0M77.9 310.3h0M527.2 296.9h0M683.2 330.1h0M636.3 329.6h0M588.2 332.2h0M144.3 327.4h0M603.9 321.2h0M145.9 318.7h0M543.6 309.0h0M479.8 302.0h0M555.7 328.7h0M158.4 315.8h0M337.5 304.9h0M144.6 330.8h0M351.1 311.7h0M175.3 291.2h0M543.6 309.7h0M288.2 316.3h0M623.7 328.0h0M189.1 284.7h0M512.4 275.4h0M348.5 322.9h0M594.2 339.6h0M255.2 331.9h0M33.0 344.4h0M461.1 304.5h0M80.6 314.1h0M367.7 333.4h0M510.3 274.5h0M94.9 277.5h0M686.7 313.1h0M432.2 290.6h0M384.2 328.4h0M98.2 285.7h0M46.5 343.7h0M444.0 303.5h0M351.8 308.3h0M110.8 303.9h0M512.2 272.5h0M525.0 298.8h0M385.8 330.5h0M636.0 321.1h0M47.8 350.8h0M209.5 324.8h0M545.6 303.7h0M511.8 275.0h0M173.5 289.3h0M188.1 284.6h0M83.1 305.9h0M543.3 296.7h0M178.8 289.7h0M64.8 311.5h0M510.4 280.3h0M418.1 292.2h0M141.2 314.7h0M593.9 336.1h0M431.1 297.0h0M463.7 307.5h0M418.1 293.4h0M576.8 336.1h0M205.5 324.6h0M318.5 311.5h0M540.2 311.3h0M64.4 309.6h0M384.1 322.5h0M81.8 311.0h0M144.4 314.6h0M402.3 325.6h0M47.1 341.7h0" stroke="#2F9A9A" stroke-width="1.5" stroke-linecap="round" stroke-opacity="0.42" fill="none"/>
<path d="M195.7 283.6h0M136.2 318.3h0M519.5 268.6h0M546.9 302.5h0M546.8 308.4h0M403.6 327.3h0M83.0 316.2h0M69.0 310.9h0M610.9 327.0h0M216.1 326.4h0M407.7 323.6h0M450.3 296.3h0M388.4 334.8h0M70.9 319.5h0M328.2 319.6h0M360.4 317.7h0M547.9 305.8h0M678.8 325.9h0M312.0 317.5h0M229.4 323.1h0M342.4 312.1h0M325.1 311.7h0M486.1 304.8h0M339.3 309.4h0M709.1 317.9h0M563.5 329.1h0M455.3 311.9h0M182.2 287.1h0M614.7 312.5h0M531.5 306.1h0M164.4 343.5h0M712.0 322.3h0M408.2 327.2h0M120.7 308.0h0M514.2 277.5h0M245.7 336.2h0M487.5 313.2h0M709.7 318.6h0M264.0 343.0h0M466.8 303.9h0M260.7 336.9h0M244.8 336.4h0M357.7 313.2h0M247.0 332.7h0M229.5 316.0h0M597.6 312.6h0M292.7 320.7h0M229.2 327.0h0M293.3 324.4h0M503.8 309.0h0M599.7 320.8h0M563.2 325.2h0M149.0 329.5h0M343.2 320.3h0M262.1 343.7h0M34.4 334.1h0M502.4 322.0h0M710.7 311.9h0M676.1 323.4h0M179.2 280.9h0M373.6 325.6h0M279.6 284.0h0M216.6 328.3h0M611.2 325.9h0M343.1 312.2h0M550.9 308.1h0M98.4 290.4h0M568.4 329.0h0M51.8 336.5h0M531.9 302.3h0M340.0 313.0h0M243.4 331.4h0M243.8 333.7h0M306.4 316.8h0M229.4 313.8h0M706.7 315.7h0M55.8 342.6h0M342.3 310.6h0M695.5 324.8h0M132.4 323.6h0M101.4 279.5h0M562.7 333.9h0M214.9 318.0h0M357.6 313.0h0M692.3 320.4h0M469.7 312.3h0M466.7 305.7h0M673.6 317.5h0M38.5 333.7h0M405.1 320.6h0M593.6 320.1h0M711.3 324.4h0M438.9 291.4h0M67.3 317.6h0M613.2 331.1h0M470.3 300.9h0M357.4 312.7h0M130.7 323.3h0M147.1 325.4h0M484.8 302.8h0M194.2 280.8h0M35.7 338.6h0M502.2 317.4h0M674.7 321.1h0M421.7 290.2h0M533.5 306.7h0M306.8 317.9h0M658.5 323.6h0M580.5 332.2h0M66.4 308.5h0M226.9 317.4h0M87.5 306.2h0M531.5 310.8h0M645.6 324.4h0M631.8 315.6h0M678.6 325.6h0M546.5 303.9h0M279.8 288.9h0M405.0 319.6h0M609.6 332.3h0M307.4 323.1h0M180.0 291.2h0M36.6 332.4h0M152.9 325.3h0M135.2 322.6h0M324.5 320.1h0M675.1 313.9h0M263.0 335.2h0M549.8 306.7h0M50.7 335.5h0M373.5 327.5h0M294.4 317.2h0M323.8 321.2h0M70.0 309.0h0M613.6 321.5h0M406.2 321.1h0M165.8 310.0h0M503.3 313.2h0M660.4 320.4h0M88.4 317.2h0M309.9 318.1h0M418.2 292.5h0M646.6 317.6h0M56.7 341.3h0M229.2 322.2h0M133.3 317.7h0M117.9 306.7h0M152.9 308.1h0M198.2 290.2h0M355.7 313.9h0M565.7 332.6h0M627.4 319.1h0M265.0 332.7h0M148.4 326.2h0M708.1 324.4h0M85.8 305.3h0M88.9 316.7h0M530.3 300.1h0M565.7 330.3h0M180.9 284.0h0M87.1 313.6h0M38.6 342.3h0M421.4 285.0h0M215.2 315.6h0M709.1 320.7h0M374.7 334.7h0M310.9 319.6h0M535.2 310.1h0M420.5 295.5h0M136.4 320.8h0M694.7 326.0h0M99.2 286.3h0M280.7 283.4h0M294.5 318.7h0M247.9 338.4h0M296.8 313.1h0M616.3 326.2h0M339.2 316.4h0M419.9 290.2h0M115.2 300.4h0M243.9 332.5h0M311.0 323.1h0M259.7 336.9h0M294.7 326.7h0M647.7 333.9h0M153.2 328.0h0M323.2 310.7h0M408.7 322.5h0M466.0 295.7h0M436.5 294.9h0M291.2 324.0h0M71.7 312.1h0M613.5 316.2h0M117.0 311.9h0M663.6 319.3h0M612.3 332.0h0M72.1 317.4h0M456.2 312.0h0M530.3 298.2h0M615.5 323.3h0M343.8 320.4h0M82.6 309.0h0M600.1 321.2h0M532.6 310.3h0M89.1 313.9h0M518.4 279.8h0M679.7 319.1h0M293.3 315.7h0M165.1 325.2h0M438.8 290.7h0M583.5 333.3h0M52.9 340.8h0M625.6 317.7h0M360.5 313.3h0M165.7 317.8h0M228.1 324.7h0M535.9 298.0h0M689.6 333.9h0M391.7 329.1h0M389.7 332.7h0M67.2 314.8h0M598.2 323.5h0M439.5 288.5h0M453.2 308.3h0M710.2 300.7h0M579.6 329.5h0M516.3 276.4h0M676.9 317.0h0M296.8 324.6h0M535.8 298.8h0M132.1 314.7h0M594.7 331.0h0M484.9 316.1h0M339.5 309.0h0M610.8 330.0h0M625.7 323.8h0M466.2 303.3h0M662.9 316.3h0M153.1 314.3h0M374.7 331.0h0M567.0 331.2h0M631.4 320.2h0M327.9 317.9h0M406.0 325.5h0M646.1 326.2h0M326.9 310.0h0M691.8 335.9h0M311.4 313.8h0M562.0 330.0h0M133.6 324.2h0M210.3 326.5h0M376.2 336.8h0M661.2 316.7h0M630.2 319.9h0M625.5 316.6h0M100.6 290.9h0M551.2 303.7h0M579.6 335.0h0M99.4 286.8h0M580.3 323.1h0M69.9 309.9h0M243.6 328.5h0M469.4 300.7h0M626.1 322.5h0M325.1 314.1h0M278.0 283.8h0M580.3 328.0h0M659.5 316.3h0M260.4 343.3h0M695.1 317.5h0M261.2 334.8h0M275.9 285.0h0M455.1 299.5h0M484.8 316.2h0M484.1 308.9h0M546.5 306.0h0M66.6 311.8h0M275.8 284.2h0M547.7 307.9h0M561.7 331.1h0M501.2 316.7h0M197.3 289.0h0M663.3 325.0h0M276.2 282.8h0M627.2 320.8h0M37.0 337.2h0M392.0 336.3h0M229.4 326.0h0M199.8 286.1h0M646.6 323.8h0M563.5 329.3h0M549.0 306.8h0M630.4 330.9h0M582.5 334.0h0M275.1 283.7h0M84.1 313.3h0M407.1 328.6h0M53.1 333.4h0M339.3 319.3h0M376.5 335.5h0M418.9 285.0h0M116.2 301.5h0M211.3 323.3h0M582.3 333.5h0M356.9 319.0h0M581.2 333.7h0M451.5 306.9h0M181.0 294.3h0M184.4 280.8h0M212.4 325.3h0M419.5 295.5h0M359.1 313.2h0M626.3 322.3h0M179.8 280.0h0M275.6 290.9h0M450.7 306.5h0M568.3 332.1h0M71.5 311.1h0M371.2 339.1h0M612.3 321.8h0M279.4 280.0h0M279.9 282.4h0M498.5 310.2h0M262.7 336.9h0M435.8 292.3h0M227.1 327.9h0M465.9 304.7h0M357.4 310.4h0M56.0 333.1h0M614.7 326.5h0M643.0 321.5h0M533.9 296.6h0M627.7 324.4h0M211.2 319.5h0M100.1 283.8h0M53.3 354.5h0M53.5 345.0h0M165.9 323.2h0M120.1 311.0h0M645.9 322.4h0M343.6 320.4h0M434.3 291.7h0M486.5 309.4h0M712.0 315.0h0M248.7 343.0h0M55.8 342.8h0M68.7 313.8h0M645.5 319.1h0M423.2 287.8h0M626.7 322.2h0M133.9 315.5h0M356.7 314.3h0M422.0 287.6h0M659.0 315.9h0M387.7 330.9h0M632.0 317.4h0M179.4 286.1h0M276.1 283.0h0M244.5 337.3h0M51.5 341.7h0M354.1 313.1h0M530.7 305.3h0M180.3 291.5h0M118.9 308.8h0M677.4 321.6h0M264.4 336.2h0M117.9 308.9h0M168.4 322.3h0M134.1 318.1h0M679.1 317.5h0M275.4 286.3h0M678.7 321.1h0M663.8 313.6h0M582.9 334.7h0M169.0 324.2h0M370.7 329.4h0M376.4 336.5h0M50.5 339.7h0M530.1 303.3h0M199.6 291.6h0M118.0 313.2h0M132.1 321.0h0M137.2 311.3h0M85.9 309.4h0M674.6 323.5h0M85.2 309.9h0M456.0 305.7h0M295.9 311.0h0M551.2 301.0h0M55.9 334.7h0M215.3 317.9h0M294.9 315.6h0M449.9 298.3h0M87.8 308.6h0M261.3 334.7h0M259.8 337.2h0M696.2 317.7h0M455.8 301.7h0M326.5 319.5h0M418.8 288.8h0M423.9 294.0h0M390.5 329.9h0M167.0 321.9h0M566.0 328.9h0M342.0 315.6h0M38.6 339.7h0M420.7 296.6h0M405.7 322.8h0M370.1 331.7h0M102.1 288.7h0M661.9 321.5h0M423.4 284.4h0M232.7 313.2h0M243.1 332.1h0M165.2 322.5h0M340.6 318.8h0M484.4 305.5h0M535.7 298.8h0M325.4 315.4h0M534.6 297.2h0M661.5 314.9h0M451.1 301.6h0M360.5 316.9h0M312.5 316.6h0M373.2 332.3h0M691.9 324.9h0M482.0 314.1h0M214.2 325.3h0M626.2 328.1h0M131.4 312.0h0M577.6 331.0h0M533.1 302.4h0M403.7 324.3h0M407.1 324.3h0M372.5 328.9h0M408.1 334.3h0M405.8 327.9h0M422.0 290.6h0M211.2 312.4h0M279.5 287.3h0M50.5 330.4h0M437.8 286.8h0M546.7 305.7h0M199.3 280.0h0M232.0 333.1h0M519.3 278.7h0M452.7 311.0h0M228.0 316.6h0M276.7 285.8h0M230.6 322.5h0M165.8 306.0h0M501.9 315.4h0M405.8 319.5h0M693.5 327.8h0M342.6 314.7h0M706.5 309.8h0M36.2 337.0h0M307.4 322.4h0M38.4 338.9h0M102.2 287.3h0M693.1 318.2h0M343.3 316.1h0M278.2 284.5h0M392.3 335.0h0M536.4 296.2h0M452.2 304.6h0M276.9 282.3h0M485.2 303.4h0M578.1 326.7h0M324.6 310.9h0M279.6 282.1h0M434.7 286.3h0M146.7 319.5h0M578.3 328.6h0M392.7 329.7h0M514.1 272.1h0M116.6 309.1h0M147.5 315.7h0M310.1 320.8h0M83.5 311.7h0M513.9 269.4h0M642.5 325.1h0M324.8 314.9h0M565.8 325.7h0M308.4 315.3h0M707.4 312.8h0M708.4 307.1h0M197.4 287.3h0M260.6 333.0h0M200.6 283.3h0M295.9 326.9h0M386.1 330.9h0M36.1 334.9h0M374.2 325.8h0M568.2 329.0h0M38.1 353.8h0M405.2 324.4h0M243.8 330.7h0M695.1 331.4h0M244.1 333.1h0M546.8 302.1h0M309.8 323.2h0M179.8 288.1h0M663.4 327.2h0M263.8 329.2h0M551.3 303.0h0M68.5 311.6h0M436.9 289.6h0M327.7 311.7h0M450.7 308.6h0M498.7 317.6h0M195.1 275.8h0M214.0 326.8h0M36.6 329.9h0M514.0 272.6h0M325.9 317.9h0M183.9 292.6h0M695.9 323.1h0M322.3 315.5h0M184.4 296.5h0M261.2 340.0h0M50.9 346.4h0M609.9 319.0h0M213.7 318.1h0M482.0 304.9h0M150.0 326.7h0M514.3 269.6h0M212.1 314.3h0M340.6 319.4h0M597.6 329.8h0M35.9 337.3h0M211.5 318.0h0M246.9 339.1h0M166.8 305.4h0M536.0 302.7h0M54.3 328.7h0M100.4 288.5h0M229.3 330.7h0M424.0 287.1h0M104.4 281.3h0M244.7 332.9h0M358.3 315.2h0M69.3 314.9h0M562.3 329.5h0M199.3 283.0h0M581.7 332.5h0M466.6 312.2h0M328.4 320.8h0M660.4 328.3h0M597.2 318.5h0M545.6 310.4h0M130.7 324.0h0M438.6 294.4h0M166.5 323.5h0M500.2 321.1h0M119.4 313.3h0M116.2 301.1h0M661.5 317.0h0M519.8 275.0h0M163.3 320.8h0M151.1 329.8h0M68.7 317.3h0M198.0 288.2h0M359.6 314.7h0M517.6 272.8h0M50.9 345.3h0M214.9 311.2h0M548.8 313.2h0M468.2 307.3h0M212.6 320.5h0M278.0 288.0h0M117.4 310.1h0M390.4 327.7h0M709.9 303.4h0M165.8 312.8h0M277.8 279.5h0M342.1 309.1h0M358.1 315.6h0M84.9 313.5h0M35.9 332.5h0M198.7 276.2h0M610.9 321.5h0M357.1 313.3h0M579.4 333.0h0M388.2 324.9h0M132.3 318.5h0M167.7 328.0h0M231.8 328.5h0M615.4 323.8h0M708.7 308.2h0M678.8 317.9h0M520.0 271.6h0M469.9 300.5h0M676.8 319.7h0M625.9 314.1h0M600.0 335.2h0M291.6 320.5h0M581.6 330.2h0M212.5 319.8h0M661.4 321.8h0M391.3 329.6h0M708.3 322.6h0M99.2 288.6h0M706.2 317.2h0M148.9 318.2h0M549.9 309.1h0M116.7 308.4h0M449.9 294.8h0M216.9 330.3h0M196.5 274.9h0M610.2 329.1h0M374.3 327.7h0M439.6 288.5h0M709.9 309.6h0M354.8 314.3h0M454.7 300.4h0M294.0 322.8h0M246.2 326.5h0M146.8 338.9h0M296.5 322.9h0M374.1 329.1h0" stroke="#D8456A" stroke-width="1.5" stroke-linecap="round" stroke-opacity="0.42" fill="none"/>
<path d="M366.71 310.20V309.20H373.11V310.20" stroke="#111" stroke-width="1" fill="none"/>
<text x="369.91" y="306.10" font-size="12.3" font-weight="bold" fill="#111" text-anchor="middle">*</text>
<path d="M478.52 284.70V283.70H484.92V284.70" stroke="#111" stroke-width="1" fill="none"/>
<text x="481.72" y="280.60" font-size="12.3" font-weight="bold" fill="#111" text-anchor="middle">*</text>
<text transform="translate(36.50 362.69) rotate(-90)" font-size="6.4" fill="#4D4D4D" text-anchor="end">ACR-L</text>
<text transform="translate(52.47 362.69) rotate(-90)" font-size="6.4" fill="#4D4D4D" text-anchor="end">ACR-R</text>
<text transform="translate(68.44 362.69) rotate(-90)" font-size="6.4" fill="#4D4D4D" text-anchor="end">ALIC-L</text>
<text transform="translate(84.42 362.69) rotate(-90)" font-size="6.4" fill="#4D4D4D" text-anchor="end">ALIC-R</text>
<text transform="translate(100.39 362.69) rotate(-90)" font-size="6.4" fill="#4D4D4D" text-anchor="end">BCC</text>
<text transform="translate(116.36 362.69) rotate(-90)" font-size="6.4" fill="#4D4D4D" text-anchor="end">CGC-L</text>
<text transform="translate(132.33 362.69) rotate(-90)" font-size="6.4" fill="#4D4D4D" text-anchor="end">CGC-R</text>
<text transform="translate(148.30 362.69) rotate(-90)" font-size="6.4" fill="#4D4D4D" text-anchor="end">CGH-L</text>
<text transform="translate(164.28 362.69) rotate(-90)" font-size="6.4" fill="#4D4D4D" text-anchor="end">CGH-R</text>
<text transform="translate(180.25 362.69) rotate(-90)" font-size="6.4" fill="#4D4D4D" text-anchor="end">CP-L</text>
<text transform="translate(196.22 362.69) rotate(-90)" font-size="6.4" fill="#4D4D4D" text-anchor="end">CP-R</text>
<text transform="translate(212.19 362.69) rotate(-90)" font-size="6.4" fill="#4D4D4D" text-anchor="end">CST-L</text>
<text transform="translate(228.16 362.69) rotate(-90)" font-size="6.4" fill="#4D4D4D" text-anchor="end">CST-R</text>
<text transform="translate(244.14 362.69) rotate(-90)" font-size="6.4" fill="#4D4D4D" text-anchor="end">EC-L</text>
<text transform="translate(260.11 362.69) rotate(-90)" font-size="6.4" fill="#4D4D4D" text-anchor="end">EC-R</text>
<text transform="translate(276.08 362.69) rotate(-90)" font-size="6.4" fill="#4D4D4D" text-anchor="end">GCC</text>
<text transform="translate(292.05 362.69) rotate(-90)" font-size="6.4" fill="#4D4D4D" text-anchor="end">ICP-L</text>
<text transform="translate(308.02 362.69) rotate(-90)" font-size="6.4" fill="#4D4D4D" text-anchor="end">ICP-R</text>
<text transform="translate(324.00 362.69) rotate(-90)" font-size="6.4" fill="#4D4D4D" text-anchor="end">MCP</text>
<text transform="translate(339.97 362.69) rotate(-90)" font-size="6.4" fill="#4D4D4D" text-anchor="end">ML-L</text>
<text transform="translate(355.94 362.69) rotate(-90)" font-size="6.4" fill="#4D4D4D" text-anchor="end">ML-R</text>
<text transform="translate(371.91 362.69) rotate(-90)" font-size="6.4" fill="#4D4D4D" text-anchor="end">PCR-L</text>
<text transform="translate(387.88 362.69) rotate(-90)" font-size="6.4" fill="#4D4D4D" text-anchor="end">PCR-R</text>
<text transform="translate(403.86 362.69) rotate(-90)" font-size="6.4" fill="#4D4D4D" text-anchor="end">PCT</text>
<text transform="translate(419.83 362.69) rotate(-90)" font-size="6.4" fill="#4D4D4D" text-anchor="end">PLIC-L</text>
<text transform="translate(435.80 362.69) rotate(-90)" font-size="6.4" fill="#4D4D4D" text-anchor="end">PLIC-R</text>
<text transform="translate(451.77 362.69) rotate(-90)" font-size="6.4" fill="#4D4D4D" text-anchor="end">PTR-L</text>
<text transform="translate(467.74 362.69) rotate(-90)" font-size="6.4" fill="#4D4D4D" text-anchor="end">PTR-R</text>
<text transform="translate(483.72 362.69) rotate(-90)" font-size="6.4" fill="#4D4D4D" text-anchor="end">RLIC-L</text>
<text transform="translate(499.69 362.69) rotate(-90)" font-size="6.4" fill="#4D4D4D" text-anchor="end">RLIC-R</text>
<text transform="translate(515.66 362.69) rotate(-90)" font-size="6.4" fill="#4D4D4D" text-anchor="end">SCC</text>
<text transform="translate(531.63 362.69) rotate(-90)" font-size="6.4" fill="#4D4D4D" text-anchor="end">SCP-L</text>
<text transform="translate(547.60 362.69) rotate(-90)" font-size="6.4" fill="#4D4D4D" text-anchor="end">SCP-R</text>
<text transform="translate(563.58 362.69) rotate(-90)" font-size="6.4" fill="#4D4D4D" text-anchor="end">SCR-L</text>
<text transform="translate(579.55 362.69) rotate(-90)" font-size="6.4" fill="#4D4D4D" text-anchor="end">SCR-R</text>
<text transform="translate(595.52 362.69) rotate(-90)" font-size="6.4" fill="#4D4D4D" text-anchor="end">SFO-L</text>
<text transform="translate(611.49 362.69) rotate(-90)" font-size="6.4" fill="#4D4D4D" text-anchor="end">SFO-R</text>
<text transform="translate(627.46 362.69) rotate(-90)" font-size="6.4" fill="#4D4D4D" text-anchor="end">SLF-L</text>
<text transform="translate(643.44 362.69) rotate(-90)" font-size="6.4" fill="#4D4D4D" text-anchor="end">SLF-R</text>
<text transform="translate(659.41 362.69) rotate(-90)" font-size="6.4" fill="#4D4D4D" text-anchor="end">SS-L</text>
<text transform="translate(675.38 362.69) rotate(-90)" font-size="6.4" fill="#4D4D4D" text-anchor="end">SS-R</text>
<text transform="translate(691.35 362.69) rotate(-90)" font-size="6.4" fill="#4D4D4D" text-anchor="end">UNC-L</text>
<text transform="translate(707.32 362.69) rotate(-90)" font-size="6.4" fill="#4D4D4D" text-anchor="end">UNC-R</text>
<path d="M34.50 358.89v1.7M50.47 358.89v1.7M66.44 358.89v1.7M82.42 358.89v1.7M98.39 358.89v1.7M114.36 358.89v1.7M130.33 358.89v1.7M146.30 358.89v1.7M162.28 358.89v1.7M178.25 358.89v1.7M194.22 358.89v1.7M210.19 358.89v1.7M226.16 358.89v1.7M242.14 358.89v1.7M258.11 358.89v1.7M274.08 358.89v1.7M290.05 358.89v1.7M306.02 358.89v1.7M322.00 358.89v1.7M337.97 358.89v1.7M353.94 358.89v1.7M369.91 358.89v1.7M385.88 358.89v1.7M401.86 358.89v1.7M417.83 358.89v1.7M433.80 358.89v1.7M449.77 358.89v1.7M465.74 358.89v1.7M481.72 358.89v1.7M497.69 358.89v1.7M513.66 358.89v1.7M529.63 358.89v1.7M545.60 358.89v1.7M561.58 358.89v1.7M577.55 358.89v1.7M593.52 358.89v1.7M609.49 358.89v1.7M625.46 358.89v1.7M641.44 358.89v1.7M657.41 358.89v1.7M673.38 358.89v1.7M689.35 358.89v1.7M705.32 358.89v1.7" stroke="#333" stroke-width="0.7" fill="none"/>
<text x="370.00" y="391.85" font-size="7.8" fill="#000" text-anchor="middle">ROI</text>
<text transform="translate(8.8 187) rotate(-90)" font-size="7.9" fill="#000" text-anchor="middle">FA Value</text>
<text x="720.3" y="181.5" font-size="6.9" fill="#000">ADHD Status</text>
<path d="M725.65 186.35V187.90M725.65 193.40V194.95" stroke="#1C6C79" stroke-width="0.8" fill="none"/>
<rect x="721.5" y="187.90" width="8.3" height="5.5" stroke="#1C6C79" stroke-width="0.8" fill="#fff"/>
<path d="M721.5 190.65H729.8" stroke="#1C6C79" stroke-width="1.1" fill="none"/>
<text x="734.8" y="193.05" font-size="5.45" fill="#000">SPD-ADHD</text>
<path d="M725.65 196.95V198.50M725.65 204.00V205.55" stroke="#871828" stroke-width="0.8" fill="none"/>
<rect x="721.5" y="198.50" width="8.3" height="5.5" stroke="#871828" stroke-width="0.8" fill="#fff"/>
<path d="M721.5 201.25H729.8" stroke="#871828" stroke-width="1.1" fill="none"/>
<text x="734.8" y="203.65" font-size="5.45" fill="#000">SPD+ADHD</text>
</svg>
</body></html>
